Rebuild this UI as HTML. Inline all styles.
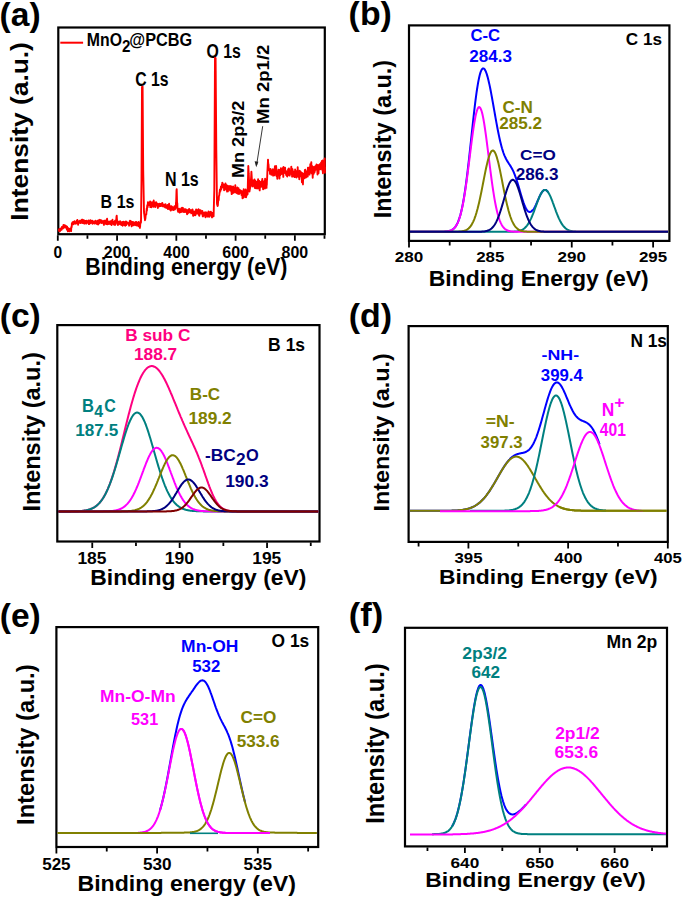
<!DOCTYPE html>
<html><head><meta charset="utf-8"><style>
html,body{margin:0;padding:0;background:#fff;}
svg{display:block;}
text{font-family:"Liberation Sans", sans-serif;font-weight:bold;}
</style></head><body>
<svg width="685" height="900" viewBox="0 0 685 900">
<text transform="translate(-0.38,25.50) scale(1.0177,1)" font-size="33.00" fill="#000">(a)</text>
<text transform="translate(348.61,25.30) scale(1.0426,1)" font-size="32.50" fill="#000">(b)</text>
<text transform="translate(-0.28,327.00) scale(1.0302,1)" font-size="32.60" fill="#000">(c)</text>
<text transform="translate(348.80,326.80) scale(1.0452,1)" font-size="32.50" fill="#000">(d)</text>
<text transform="translate(-0.28,626.50) scale(1.0208,1)" font-size="32.90" fill="#000">(e)</text>
<text transform="translate(348.77,626.30) scale(1.0628,1)" font-size="32.50" fill="#000">(f)</text>
<rect x="58.30" y="27.50" width="266.50" height="206.70" fill="none" stroke="#000" stroke-width="2.2"/>
<path d="M57.80 235.20V240.70M117.07 235.20V240.70M176.33 235.20V240.70M235.60 235.20V240.70M294.87 235.20V240.70M87.43 235.20V238.70M146.70 235.20V238.70M205.97 235.20V238.70M265.23 235.20V238.70M324.50 235.20V238.70" stroke="#000" stroke-width="1.8" fill="none"/>
<text transform="translate(53.48,257.60) scale(0.9287,1)" font-size="16.77" fill="#000">0</text>
<text transform="translate(103.76,257.60) scale(0.9546,1)" font-size="16.77" fill="#000">200</text>
<text transform="translate(163.35,257.60) scale(0.9292,1)" font-size="17.02" fill="#000">400</text>
<text transform="translate(222.25,257.60) scale(0.9561,1)" font-size="16.77" fill="#000">600</text>
<text transform="translate(281.60,257.60) scale(0.9531,1)" font-size="16.77" fill="#000">800</text>
<text transform="translate(85.35,275.00) scale(0.8975,1)" font-size="23.85" fill="#000">Binding energy (eV)</text>
<text transform="translate(28.40,220.68) rotate(-90) scale(1.1189,1)" font-size="23.56" fill="#000">Intensity (a.u.)</text>
<path d="M60.3 42.7H83.1" stroke="#ff0000" stroke-width="2"/>
<text transform="translate(86.83,46.40) scale(0.8627,1)" font-size="18.33" fill="#000">MnO</text>
<text transform="translate(122.07,51.50) scale(0.8840,1)" font-size="17.20" fill="#000">2</text>
<text transform="translate(129.36,46.40) scale(0.8886,1)" font-size="18.30" fill="#000">@PCBG</text>
<text transform="translate(135.17,86.30) scale(0.8170,1)" font-size="19.35" fill="#000">C 1s</text>
<text transform="translate(206.57,57.80) scale(0.8132,1)" font-size="19.50" fill="#000">O 1s</text>
<text transform="translate(164.92,185.80) scale(0.8224,1)" font-size="19.49" fill="#000">N 1s</text>
<text transform="translate(100.62,208.00) scale(0.8349,1)" font-size="19.20" fill="#000">B 1s</text>
<text transform="translate(268.90,123.95) rotate(-90) scale(1.1001,1)" font-size="16.87" fill="#000">Mn 2p1/2</text>
<text transform="translate(244.40,178.12) rotate(-90) scale(1.1229,1)" font-size="16.15" fill="#000">Mn 2p3/2</text>
<path d="M262.7 126.2L256.6 165.0" stroke="#222" stroke-width="0.9"/>
<path d="M256.2 167.2L254.6 161.2L258.4 161.8Z" fill="#222"/>
<path d="M58.50 230.5 L58.70 230.7 L58.90 230.0 L59.10 229.3 L59.30 229.6 L59.50 229.0 L59.70 230.0 L59.90 231.4 L60.10 229.3 L60.30 229.0 L60.50 230.2 L60.70 229.9 L60.90 229.6 L61.10 228.3 L61.30 229.2 L61.50 229.9 L61.70 227.6 L61.90 228.5 L61.90 226.9 L62.10 227.4 L62.30 226.6 L62.50 228.2 L62.70 226.9 L62.90 228.5 L63.10 228.2 L63.30 227.6 L63.50 224.9 L63.70 226.9 L63.90 227.3 L64.10 227.3 L64.30 225.3 L64.50 226.3 L64.70 225.6 L64.90 225.6 L65.10 227.6 L65.20 225.4 L65.30 226.4 L65.50 227.6 L65.70 226.2 L65.90 226.9 L66.10 227.4 L66.30 227.5 L66.50 226.3 L66.70 228.0 L66.90 229.6 L67.10 226.6 L67.30 229.5 L67.50 228.9 L67.70 228.2 L67.90 231.4 L68.10 230.2 L68.30 228.2 L68.50 229.9 L68.50 230.4 L68.70 229.6 L68.90 230.6 L69.10 229.7 L69.30 230.6 L69.50 231.4 L69.70 229.0 L69.90 230.0 L70.10 229.3 L70.30 229.9 L70.50 228.5 L70.70 229.1 L70.90 229.6 L71.10 230.8 L71.10 231.1 L71.30 227.2 L71.50 226.7 L71.70 227.2 L71.90 223.1 L72.10 223.7 L72.30 223.0 L72.40 224.0 L72.50 223.4 L72.70 222.2 L72.90 222.1 L73.10 222.3 L73.30 224.3 L73.50 222.0 L73.70 222.2 L73.90 222.9 L74.10 222.3 L74.30 222.2 L74.50 221.2 L74.70 222.4 L74.90 221.9 L75.10 223.7 L75.30 223.1 L75.50 222.3 L75.70 223.1 L75.90 221.9 L76.10 223.5 L76.30 222.3 L76.50 222.9 L76.70 220.8 L76.90 222.6 L77.10 220.3 L77.30 219.9 L77.50 221.8 L77.70 221.1 L77.90 222.4 L78.10 224.7 L78.30 221.2 L78.50 221.4 L78.70 222.3 L78.90 222.7 L79.10 221.9 L79.30 221.8 L79.50 222.8 L79.70 222.6 L79.90 220.8 L80.00 221.9 L80.10 222.0 L80.30 220.8 L80.50 222.3 L80.70 221.0 L80.90 223.1 L81.10 222.2 L81.30 222.1 L81.50 221.3 L81.70 221.9 L81.90 219.7 L82.10 220.7 L82.30 222.5 L82.50 219.6 L82.70 223.0 L82.90 220.0 L83.10 222.9 L83.30 221.1 L83.50 223.0 L83.70 222.2 L83.90 220.3 L84.10 223.5 L84.30 223.7 L84.50 222.0 L84.70 221.8 L84.90 221.9 L85.10 220.9 L85.30 223.4 L85.50 221.4 L85.70 222.0 L85.90 221.2 L86.10 221.4 L86.30 220.6 L86.50 223.6 L86.70 221.9 L86.90 223.2 L87.10 222.1 L87.30 221.3 L87.50 221.7 L87.70 221.5 L87.90 222.1 L88.10 221.7 L88.30 221.8 L88.50 220.5 L88.70 221.2 L88.90 224.1 L89.10 221.3 L89.30 220.9 L89.50 222.5 L89.70 223.8 L89.90 220.4 L90.10 221.9 L90.30 221.4 L90.50 220.1 L90.70 223.0 L90.90 222.1 L91.10 222.3 L91.30 221.3 L91.50 222.7 L91.70 221.5 L91.90 222.0 L92.10 220.9 L92.30 220.7 L92.50 223.8 L92.70 221.6 L92.90 222.5 L93.10 222.2 L93.30 221.7 L93.50 221.6 L93.70 223.0 L93.90 221.9 L94.10 222.0 L94.30 222.2 L94.50 223.6 L94.70 223.0 L94.90 222.7 L95.10 221.6 L95.30 220.6 L95.50 223.4 L95.70 223.4 L95.90 222.1 L96.10 222.9 L96.30 223.2 L96.50 223.2 L96.70 223.4 L96.90 221.7 L97.10 224.1 L97.30 220.8 L97.50 223.3 L97.70 222.9 L97.90 223.3 L98.10 224.5 L98.30 224.1 L98.50 220.9 L98.70 220.3 L98.90 223.3 L99.10 221.1 L99.30 222.3 L99.50 223.3 L99.70 220.3 L99.90 219.8 L100.00 222.6 L100.10 222.4 L100.30 222.0 L100.50 222.4 L100.70 221.3 L100.90 220.5 L101.10 222.2 L101.30 221.2 L101.50 220.4 L101.70 223.0 L101.90 222.3 L102.10 222.9 L102.30 221.2 L102.50 221.6 L102.70 221.2 L102.90 221.4 L103.10 222.7 L103.30 221.5 L103.50 222.9 L103.70 222.9 L103.90 224.9 L104.10 220.8 L104.30 223.6 L104.50 222.4 L104.70 222.5 L104.90 220.8 L105.10 222.0 L105.30 223.5 L105.50 222.5 L105.70 222.7 L105.90 222.2 L106.10 224.0 L106.30 222.6 L106.50 219.9 L106.70 221.8 L106.90 220.2 L107.10 218.7 L107.30 222.0 L107.50 224.3 L107.70 222.7 L107.90 221.2 L108.10 221.5 L108.30 224.1 L108.50 222.9 L108.70 222.8 L108.90 222.6 L109.10 222.8 L109.30 223.7 L109.50 223.4 L109.70 223.0 L109.90 221.5 L110.10 223.4 L110.30 221.9 L110.50 224.1 L110.70 221.2 L110.90 222.6 L111.10 222.8 L111.30 221.2 L111.50 225.0 L111.70 224.6 L111.90 222.3 L112.10 223.8 L112.30 223.3 L112.50 219.7 L112.70 223.2 L112.90 222.8 L113.10 223.0 L113.30 221.6 L113.50 222.6 L113.70 222.7 L113.90 224.4 L114.10 223.4 L114.30 223.0 L114.50 224.9 L114.70 222.3 L114.90 222.5 L115.00 220.7 L115.10 224.9 L115.30 224.2 L115.50 224.1 L115.70 223.8 L115.90 222.8 L116.10 222.0 L116.30 219.3 L116.50 216.6 L116.70 215.6 L116.90 218.8 L117.10 220.3 L117.30 221.7 L117.50 222.0 L117.70 222.2 L117.90 225.0 L118.10 223.7 L118.30 223.2 L118.50 222.6 L118.70 221.7 L118.90 223.0 L119.10 224.2 L119.30 222.6 L119.50 222.8 L119.70 222.8 L119.90 223.2 L120.10 221.1 L120.30 222.8 L120.50 222.0 L120.70 224.2 L120.90 222.2 L121.10 223.8 L121.30 225.0 L121.50 222.7 L121.70 222.4 L121.90 223.4 L122.10 223.1 L122.30 221.9 L122.50 223.7 L122.70 225.7 L122.90 222.8 L123.10 222.9 L123.30 221.9 L123.50 223.6 L123.70 221.6 L123.90 221.8 L124.10 224.8 L124.30 222.0 L124.50 224.6 L124.70 225.1 L124.90 223.5 L125.10 223.9 L125.30 225.7 L125.50 223.0 L125.70 222.5 L125.90 221.5 L126.10 223.3 L126.30 225.1 L126.50 224.4 L126.70 222.0 L126.90 222.2 L127.10 222.6 L127.30 223.6 L127.50 223.0 L127.70 223.5 L127.90 223.6 L128.10 222.9 L128.30 223.2 L128.50 223.5 L128.70 223.2 L128.90 223.9 L129.10 225.7 L129.30 224.0 L129.50 223.4 L129.70 221.1 L129.90 223.8 L130.00 220.8 L130.10 221.5 L130.30 224.4 L130.50 224.3 L130.70 223.2 L130.90 221.2 L131.10 223.0 L131.30 222.6 L131.50 224.3 L131.70 226.4 L131.90 223.8 L132.10 222.6 L132.30 222.1 L132.50 223.5 L132.70 223.4 L132.90 222.2 L133.10 223.8 L133.30 222.2 L133.50 225.2 L133.70 225.1 L133.90 225.2 L134.10 223.2 L134.30 224.5 L134.50 223.7 L134.70 223.4 L134.90 223.5 L135.10 222.3 L135.30 222.1 L135.50 225.0 L135.70 223.8 L135.90 224.3 L136.10 225.4 L136.30 221.9 L136.50 223.1 L136.70 224.4 L136.90 224.7 L137.10 223.7 L137.30 225.6 L137.50 224.5 L137.70 222.7 L137.90 223.1 L138.10 225.4 L138.30 225.0 L138.50 221.9 L138.70 226.2 L138.90 225.2 L139.10 226.2 L139.30 224.0 L139.50 224.1 L139.70 223.1 L139.90 227.9 L140.10 224.4 L140.10 226.7 L140.30 223.2 L140.50 223.7 L140.70 220.7 L140.90 222.2 L141.00 222.3 L141.10 213.3 L141.30 197.1 L141.50 180.1 L141.50 179.7 L141.70 142.7 L141.90 105.5 L142.00 87.0 L142.10 86.9 L142.30 86.8 L142.50 86.9 L142.60 86.7 L142.70 100.5 L142.90 128.5 L143.10 156.4 L143.20 169.6 L143.30 175.3 L143.50 185.6 L143.70 196.0 L143.90 207.0 L144.00 211.9 L144.10 213.2 L144.30 214.2 L144.50 216.1 L144.70 217.5 L144.90 219.0 L145.00 220.2 L145.10 219.4 L145.30 219.2 L145.50 217.3 L145.70 214.7 L145.90 215.1 L146.10 214.2 L146.30 214.4 L146.50 210.7 L146.50 211.9 L146.70 208.5 L146.90 210.8 L147.10 207.2 L147.30 205.1 L147.50 206.6 L147.70 207.2 L147.90 202.3 L148.00 202.4 L148.10 202.9 L148.30 202.4 L148.50 204.6 L148.70 202.9 L148.90 203.0 L149.10 205.0 L149.30 203.0 L149.50 204.8 L149.70 202.8 L149.90 202.4 L150.10 201.5 L150.30 207.1 L150.50 203.8 L150.70 204.7 L150.90 204.3 L151.10 204.6 L151.30 204.5 L151.50 207.3 L151.70 202.9 L151.90 202.2 L152.10 203.0 L152.30 202.5 L152.50 205.7 L152.70 205.8 L152.90 203.2 L153.10 202.6 L153.30 204.1 L153.50 206.8 L153.70 200.5 L153.90 205.5 L154.10 203.1 L154.30 206.3 L154.50 203.2 L154.70 204.4 L154.90 202.6 L155.10 203.4 L155.30 207.0 L155.50 206.2 L155.70 204.4 L155.90 203.7 L156.10 202.2 L156.30 204.4 L156.50 205.0 L156.70 205.0 L156.90 205.0 L157.10 203.5 L157.30 205.1 L157.50 205.1 L157.70 207.1 L157.90 208.0 L158.10 205.1 L158.30 204.1 L158.50 205.2 L158.70 204.4 L158.90 204.2 L159.10 205.3 L159.30 203.8 L159.50 206.3 L159.70 205.3 L159.90 205.9 L160.00 205.2 L160.10 204.4 L160.30 204.1 L160.50 205.3 L160.70 204.8 L160.90 206.0 L161.10 205.7 L161.30 203.7 L161.50 205.9 L161.70 203.9 L161.90 205.0 L162.10 205.5 L162.30 202.9 L162.50 206.2 L162.70 206.3 L162.90 205.9 L163.10 205.5 L163.30 205.7 L163.50 204.8 L163.70 205.9 L163.90 205.5 L164.10 206.5 L164.30 204.6 L164.50 206.8 L164.70 206.7 L164.90 206.4 L165.10 206.0 L165.30 207.5 L165.50 204.2 L165.70 207.4 L165.90 207.2 L166.10 207.3 L166.30 207.5 L166.50 205.9 L166.70 206.6 L166.90 208.0 L167.10 207.7 L167.30 207.4 L167.50 204.9 L167.70 208.0 L167.90 209.0 L168.10 208.8 L168.30 207.7 L168.50 205.0 L168.70 208.8 L168.90 207.2 L169.10 203.7 L169.30 208.1 L169.50 205.3 L169.70 205.7 L169.90 206.7 L170.10 209.6 L170.30 207.2 L170.50 208.2 L170.70 210.5 L170.90 210.3 L171.10 207.8 L171.30 207.6 L171.50 206.1 L171.70 207.0 L171.90 208.7 L172.10 208.7 L172.30 208.4 L172.50 209.7 L172.70 207.1 L172.90 208.2 L173.10 209.5 L173.30 209.3 L173.50 210.1 L173.70 209.1 L173.90 208.1 L174.10 209.1 L174.30 207.1 L174.50 206.2 L174.70 209.6 L174.90 208.7 L175.10 209.3 L175.30 206.3 L175.50 208.3 L175.70 207.7 L175.90 205.9 L176.00 202.2 L176.10 202.7 L176.30 197.6 L176.50 190.6 L176.70 189.2 L176.90 196.3 L177.10 204.5 L177.30 203.3 L177.50 208.7 L177.70 210.1 L177.90 210.4 L178.10 211.9 L178.30 211.1 L178.50 209.9 L178.70 209.9 L178.90 210.7 L179.10 208.7 L179.30 209.5 L179.50 211.0 L179.70 212.6 L179.90 209.5 L180.10 209.7 L180.30 210.1 L180.50 211.8 L180.70 209.8 L180.90 212.1 L181.10 208.5 L181.30 209.7 L181.50 209.7 L181.70 211.2 L181.90 211.6 L182.10 207.8 L182.30 208.8 L182.50 210.7 L182.70 209.2 L182.90 207.9 L183.10 211.8 L183.30 211.0 L183.50 211.1 L183.70 209.7 L183.90 212.0 L184.10 210.1 L184.30 212.1 L184.50 209.2 L184.70 209.3 L184.90 210.9 L185.10 209.6 L185.30 211.7 L185.50 211.1 L185.70 209.3 L185.90 210.9 L186.10 210.3 L186.30 212.2 L186.50 209.9 L186.70 210.3 L186.90 212.8 L187.10 214.3 L187.30 214.0 L187.50 211.1 L187.70 211.4 L187.90 213.4 L188.10 211.0 L188.30 209.7 L188.50 211.4 L188.70 211.9 L188.90 210.1 L189.10 208.9 L189.30 209.2 L189.50 212.4 L189.70 210.3 L189.90 211.3 L190.00 211.8 L190.10 212.4 L190.30 211.0 L190.50 212.3 L190.70 210.3 L190.90 211.1 L191.10 210.1 L191.30 213.4 L191.50 211.7 L191.70 210.6 L191.90 211.3 L192.10 211.5 L192.30 212.9 L192.50 209.5 L192.70 210.3 L192.90 211.4 L193.10 215.8 L193.30 213.4 L193.50 211.9 L193.70 213.1 L193.90 215.2 L194.10 211.8 L194.30 211.6 L194.50 214.0 L194.70 212.9 L194.90 213.2 L195.10 211.5 L195.30 215.2 L195.50 214.9 L195.70 213.2 L195.90 213.4 L196.10 209.4 L196.30 213.4 L196.50 212.2 L196.70 213.2 L196.90 213.6 L197.10 212.1 L197.30 210.1 L197.50 213.2 L197.70 211.5 L197.90 212.2 L198.10 211.8 L198.30 212.2 L198.50 209.3 L198.70 214.6 L198.90 213.2 L199.10 214.5 L199.30 215.9 L199.50 213.0 L199.70 210.3 L199.90 211.6 L200.00 211.2 L200.10 212.3 L200.30 213.2 L200.50 210.1 L200.70 213.6 L200.90 210.9 L201.10 213.6 L201.30 213.1 L201.50 212.8 L201.70 213.2 L201.90 212.5 L202.10 212.4 L202.30 210.9 L202.50 213.4 L202.70 216.2 L202.90 216.5 L203.10 215.5 L203.30 214.6 L203.50 212.6 L203.70 215.8 L203.90 213.6 L204.10 213.6 L204.30 213.3 L204.50 213.9 L204.70 213.1 L204.90 213.7 L205.10 212.2 L205.30 213.3 L205.50 217.3 L205.70 213.8 L205.90 213.6 L206.10 214.8 L206.30 215.1 L206.50 212.4 L206.70 213.8 L206.90 215.5 L207.10 214.6 L207.30 214.4 L207.50 216.6 L207.70 213.3 L207.90 214.4 L208.10 213.6 L208.30 216.6 L208.50 211.5 L208.70 213.4 L208.90 213.7 L209.10 215.5 L209.30 215.5 L209.50 216.7 L209.70 212.3 L209.90 215.8 L210.10 214.2 L210.30 213.7 L210.50 215.6 L210.70 213.4 L210.90 211.7 L211.10 214.3 L211.30 212.6 L211.50 213.9 L211.70 215.5 L211.90 215.5 L212.00 217.4 L212.10 214.8 L212.30 212.9 L212.50 214.2 L212.70 214.1 L212.90 213.7 L213.10 216.3 L213.30 214.8 L213.50 215.3 L213.60 216.2 L213.70 212.3 L213.90 205.0 L214.10 197.5 L214.30 190.2 L214.30 190.0 L214.50 152.7 L214.70 114.7 L214.90 77.0 L215.00 58.1 L215.10 57.6 L215.30 58.0 L215.50 57.9 L215.60 58.1 L215.70 70.7 L215.90 97.9 L216.10 123.7 L216.30 149.6 L216.30 149.5 L216.50 165.3 L216.70 180.8 L216.90 196.1 L217.00 204.0 L217.10 204.1 L217.30 205.2 L217.50 205.4 L217.60 206.0 L217.70 205.7 L217.90 204.9 L218.10 201.3 L218.30 200.9 L218.50 199.1 L218.70 200.2 L218.90 196.1 L219.10 195.8 L219.30 195.2 L219.50 192.5 L219.50 192.6 L219.70 192.6 L219.90 189.5 L220.10 189.8 L220.30 190.7 L220.50 190.8 L220.70 189.6 L220.90 186.5 L221.10 187.8 L221.30 189.2 L221.50 188.1 L221.70 186.4 L221.90 184.4 L222.10 186.2 L222.30 183.5 L222.30 182.6 L222.50 183.3 L222.70 187.2 L222.90 185.3 L223.10 187.0 L223.30 184.3 L223.50 186.9 L223.70 184.4 L223.90 185.3 L224.10 190.2 L224.30 187.2 L224.50 185.1 L224.70 186.0 L224.90 186.9 L225.10 188.6 L225.30 185.6 L225.50 183.4 L225.70 186.3 L225.90 187.0 L226.00 187.2 L226.10 189.6 L226.30 187.7 L226.50 188.8 L226.70 185.1 L226.90 189.1 L227.10 191.6 L227.30 189.0 L227.50 188.1 L227.70 188.0 L227.90 191.4 L228.10 185.9 L228.30 187.6 L228.50 188.9 L228.70 189.6 L228.90 187.2 L229.10 188.8 L229.30 187.6 L229.50 188.6 L229.70 188.1 L229.90 186.0 L230.00 188.5 L230.10 190.5 L230.30 186.5 L230.50 188.1 L230.70 190.2 L230.90 186.4 L231.10 189.2 L231.30 186.5 L231.50 191.5 L231.70 194.1 L231.90 193.6 L232.10 188.6 L232.30 190.8 L232.50 189.5 L232.70 189.5 L232.90 192.8 L233.10 186.5 L233.30 191.8 L233.50 189.4 L233.70 192.8 L233.90 190.1 L234.10 188.2 L234.30 190.4 L234.50 191.5 L234.70 190.0 L234.90 191.1 L235.10 188.9 L235.30 185.3 L235.50 192.2 L235.70 191.8 L235.90 190.6 L236.10 190.5 L236.30 192.7 L236.50 189.4 L236.70 188.9 L236.90 190.1 L237.10 193.3 L237.30 187.5 L237.50 193.5 L237.70 189.4 L237.90 188.4 L238.10 193.8 L238.30 190.8 L238.50 188.1 L238.70 190.3 L238.90 193.3 L239.10 194.0 L239.30 190.3 L239.50 192.3 L239.70 193.1 L239.90 190.0 L240.00 192.3 L240.10 191.5 L240.30 190.4 L240.50 190.7 L240.70 192.1 L240.90 192.1 L241.10 190.8 L241.30 191.3 L241.50 195.0 L241.70 193.0 L241.90 194.7 L242.10 195.5 L242.30 194.2 L242.50 198.2 L242.70 191.2 L242.90 195.1 L243.10 192.6 L243.30 197.8 L243.50 197.5 L243.70 189.1 L243.90 191.5 L244.10 195.4 L244.30 195.9 L244.50 195.9 L244.70 194.1 L244.90 195.4 L245.10 196.0 L245.30 194.4 L245.50 197.1 L245.70 189.5 L245.90 196.4 L246.00 192.6 L246.10 197.2 L246.30 194.3 L246.50 192.6 L246.70 195.4 L246.90 192.3 L247.10 192.1 L247.30 190.5 L247.50 194.0 L247.60 194.2 L247.70 190.5 L247.90 181.9 L248.10 174.5 L248.30 166.0 L248.30 166.0 L248.50 169.9 L248.70 173.7 L248.80 174.8 L248.90 177.2 L249.10 181.8 L249.30 186.5 L249.50 190.6 L249.50 191.5 L249.70 189.8 L249.90 189.2 L250.10 187.6 L250.30 187.2 L250.50 186.2 L250.50 185.8 L250.70 183.9 L250.90 180.0 L251.10 177.5 L251.30 174.0 L251.40 171.7 L251.50 173.4 L251.70 176.9 L251.90 179.8 L252.10 182.9 L252.30 185.9 L252.30 185.1 L252.50 185.7 L252.70 180.3 L252.90 186.5 L253.10 183.6 L253.30 183.5 L253.50 184.6 L253.70 185.6 L253.90 181.3 L254.10 180.4 L254.30 181.9 L254.50 179.4 L254.70 181.9 L254.90 188.0 L255.00 181.4 L255.10 185.6 L255.30 180.7 L255.50 184.8 L255.70 183.3 L255.90 183.9 L256.10 185.5 L256.30 188.4 L256.50 184.6 L256.70 184.4 L256.90 181.7 L257.10 185.6 L257.30 183.6 L257.50 186.2 L257.70 184.1 L257.90 188.5 L258.10 179.3 L258.30 183.5 L258.50 186.4 L258.70 183.4 L258.90 182.3 L259.10 183.6 L259.30 180.9 L259.50 184.6 L259.70 190.4 L259.90 187.2 L260.10 181.6 L260.30 182.2 L260.50 183.4 L260.70 186.9 L260.90 182.4 L261.10 182.7 L261.30 186.7 L261.50 186.6 L261.70 183.5 L261.90 181.7 L262.00 180.6 L262.10 182.7 L262.30 178.9 L262.50 186.4 L262.70 183.0 L262.90 185.8 L263.10 189.3 L263.30 187.6 L263.50 181.7 L263.70 186.9 L263.90 187.6 L264.10 182.8 L264.30 182.3 L264.50 184.5 L264.70 180.7 L264.90 188.6 L265.10 178.7 L265.30 182.0 L265.50 184.2 L265.70 184.3 L265.90 185.3 L266.10 185.6 L266.30 184.4 L266.50 187.9 L266.70 179.5 L266.80 185.0 L266.90 181.0 L267.10 178.8 L267.30 174.3 L267.40 171.5 L267.50 169.7 L267.70 166.4 L267.90 162.2 L268.00 159.6 L268.10 162.1 L268.30 164.2 L268.50 164.2 L268.70 167.2 L268.80 169.3 L268.90 170.4 L269.10 169.6 L269.30 169.1 L269.50 168.9 L269.70 170.4 L269.90 170.2 L270.00 173.9 L270.10 171.0 L270.30 170.9 L270.50 168.9 L270.70 171.9 L270.90 169.7 L271.10 171.6 L271.30 174.8 L271.50 173.0 L271.70 173.4 L271.90 173.0 L272.10 172.3 L272.30 171.8 L272.50 171.3 L272.70 174.1 L272.90 169.3 L273.10 175.6 L273.30 172.3 L273.50 170.2 L273.70 170.9 L273.90 170.4 L274.10 172.6 L274.30 170.3 L274.50 175.2 L274.70 170.2 L274.90 166.3 L275.10 170.3 L275.30 166.8 L275.50 171.3 L275.70 173.1 L275.90 171.1 L276.10 166.0 L276.30 168.4 L276.50 176.1 L276.70 172.9 L276.90 172.3 L277.10 175.1 L277.30 178.8 L277.50 175.8 L277.70 172.7 L277.90 173.3 L278.10 174.0 L278.30 170.8 L278.50 169.7 L278.70 172.6 L278.90 170.0 L279.10 172.3 L279.30 172.7 L279.50 178.6 L279.70 170.3 L279.90 172.2 L280.00 172.1 L280.10 173.7 L280.30 175.3 L280.50 171.2 L280.70 170.4 L280.90 168.2 L281.10 170.1 L281.30 174.0 L281.50 172.7 L281.70 169.9 L281.90 171.6 L282.10 172.7 L282.30 173.9 L282.50 171.1 L282.70 172.0 L282.90 167.9 L283.10 169.6 L283.30 176.9 L283.50 166.9 L283.70 171.8 L283.90 173.3 L284.10 171.7 L284.30 170.6 L284.50 172.6 L284.70 172.7 L284.90 172.5 L285.10 167.8 L285.30 172.4 L285.50 170.5 L285.70 171.3 L285.90 173.4 L286.10 174.5 L286.30 175.2 L286.50 171.5 L286.70 175.3 L286.90 175.9 L287.10 175.8 L287.30 176.5 L287.50 172.5 L287.70 172.4 L287.90 175.1 L288.10 169.3 L288.30 173.5 L288.50 171.5 L288.70 172.0 L288.90 168.4 L289.10 170.6 L289.30 172.9 L289.50 175.3 L289.70 175.6 L289.90 172.8 L290.00 172.5 L290.10 170.7 L290.30 173.7 L290.50 171.2 L290.70 172.1 L290.90 173.9 L291.10 169.2 L291.30 166.6 L291.50 169.7 L291.70 169.0 L291.90 170.0 L292.10 176.6 L292.30 173.8 L292.50 169.2 L292.70 175.0 L292.90 176.6 L293.10 172.4 L293.30 171.5 L293.50 172.5 L293.70 174.1 L293.90 175.1 L294.10 176.5 L294.30 176.6 L294.50 176.6 L294.70 177.1 L294.90 175.2 L295.10 169.5 L295.30 173.2 L295.50 174.4 L295.70 172.6 L295.90 176.0 L296.10 172.7 L296.30 171.2 L296.50 177.5 L296.70 175.4 L296.90 174.3 L297.10 176.2 L297.30 176.5 L297.50 174.7 L297.70 167.3 L297.90 172.0 L298.10 172.6 L298.30 171.2 L298.50 174.4 L298.70 177.0 L298.90 172.6 L299.10 170.9 L299.30 179.3 L299.50 172.8 L299.70 170.7 L299.90 174.6 L300.00 175.1 L300.10 172.2 L300.30 176.2 L300.50 172.9 L300.70 171.8 L300.90 174.8 L301.10 176.5 L301.30 172.9 L301.50 175.5 L301.70 174.5 L301.90 182.3 L302.10 173.0 L302.30 178.6 L302.40 174.9 L302.50 175.9 L302.70 180.5 L302.90 183.4 L302.90 184.4 L303.10 179.5 L303.30 174.6 L303.40 173.6 L303.50 176.3 L303.70 176.3 L303.90 178.3 L304.10 175.6 L304.30 177.1 L304.50 178.2 L304.70 174.4 L304.90 169.9 L305.10 170.6 L305.30 169.7 L305.50 177.6 L305.70 171.0 L305.90 176.4 L306.00 174.6 L306.10 177.5 L306.30 175.6 L306.50 172.5 L306.70 172.2 L306.90 172.9 L307.10 173.0 L307.30 171.1 L307.50 172.3 L307.70 176.6 L307.90 167.7 L308.10 172.8 L308.30 169.7 L308.50 172.5 L308.70 174.2 L308.90 171.7 L309.10 173.8 L309.30 167.4 L309.50 174.6 L309.70 169.9 L309.90 173.1 L310.10 171.8 L310.30 164.3 L310.50 169.0 L310.70 170.9 L310.90 172.9 L311.00 168.6 L311.10 167.6 L311.30 162.1 L311.50 170.6 L311.70 173.4 L311.90 170.0 L312.10 169.9 L312.30 166.3 L312.50 172.9 L312.70 177.7 L312.90 172.4 L313.10 173.8 L313.30 171.8 L313.50 167.6 L313.70 173.8 L313.90 166.9 L314.10 169.5 L314.30 170.8 L314.50 172.4 L314.70 171.1 L314.90 170.9 L315.10 167.8 L315.30 166.3 L315.50 169.9 L315.70 167.8 L315.90 166.1 L316.10 166.1 L316.30 168.2 L316.50 164.5 L316.70 165.8 L316.90 164.9 L317.10 169.7 L317.30 170.3 L317.50 174.5 L317.70 165.1 L317.90 167.2 L318.00 171.5 L318.10 168.4 L318.30 167.9 L318.50 173.3 L318.70 167.7 L318.90 165.4 L319.10 164.8 L319.30 169.2 L319.50 169.0 L319.70 164.3 L319.90 165.3 L320.10 169.2 L320.30 169.2 L320.50 165.8 L320.70 169.1 L320.90 168.9 L321.10 162.4 L321.30 166.3 L321.50 168.1 L321.70 165.3 L321.90 161.0 L322.10 165.9 L322.30 168.6 L322.50 170.7 L322.70 160.4 L322.90 173.2 L323.10 163.0 L323.30 168.6 L323.50 169.2 L323.70 168.4 L323.90 166.0 L324.10 162.4 L324.30 167.1 L324.50 163.4 L324.70 158.4 L324.90 172.7 L325.00 166.9" stroke="#ff0000" stroke-width="1.9" fill="none" stroke-linejoin="round"/>
<rect x="409.00" y="25.40" width="260.40" height="215.50" fill="none" stroke="#000" stroke-width="2.2"/>
<path d="M409.00 241.90V247.40M490.38 241.90V247.40M571.75 241.90V247.40M653.12 241.90V247.40M449.69 241.90V245.40M531.06 241.90V245.40M612.44 241.90V245.40" stroke="#000" stroke-width="1.8" fill="none"/>
<text transform="translate(394.80,262.10) scale(1.1134,1)" font-size="15.34" fill="#000">280</text>
<text transform="translate(476.18,262.10) scale(1.1047,1)" font-size="15.34" fill="#000">285</text>
<text transform="translate(557.55,262.10) scale(1.1134,1)" font-size="15.34" fill="#000">290</text>
<text transform="translate(638.93,262.10) scale(1.1047,1)" font-size="15.34" fill="#000">295</text>
<text transform="translate(428.65,286.10) scale(1.0774,1)" font-size="21.38" fill="#000">Binding Energy (eV)</text>
<text transform="translate(391.10,218.28) rotate(-90) scale(1.0039,1)" font-size="23.27" fill="#000">Intensity (a.u.)</text>
<text transform="translate(625.81,45.30) scale(0.9964,1)" font-size="17.20" fill="#000">C 1s</text>
<text transform="translate(470.43,41.30) scale(1.0233,1)" font-size="16.34" fill="#0000ff">C-C</text>
<text transform="translate(469.30,61.50) scale(1.0438,1)" font-size="16.34" fill="#0000ff">284.3</text>
<text transform="translate(502.42,112.60) scale(1.0921,1)" font-size="15.63" fill="#808000">C-N</text>
<text transform="translate(499.30,129.10) scale(1.0743,1)" font-size="15.91" fill="#808000">285.2</text>
<text transform="translate(520.01,159.80) scale(1.1180,1)" font-size="15.34" fill="#000080">C=O</text>
<text transform="translate(515.70,179.80) scale(1.0844,1)" font-size="15.77" fill="#000080">286.3</text>
<path d="M410.0 231.8 L410.5 231.8 L411.0 231.8 L411.5 231.8 L412.0 231.8 L412.5 231.8 L413.0 231.8 L413.5 231.8 L414.0 231.8 L414.5 231.8 L415.0 231.8 L415.5 231.8 L416.0 231.8 L416.5 231.8 L417.0 231.8 L417.5 231.8 L418.0 231.8 L418.5 231.8 L419.0 231.8 L419.5 231.8 L420.0 231.8 L420.5 231.8 L421.0 231.8 L421.5 231.8 L422.0 231.8 L422.5 231.8 L423.0 231.8 L423.5 231.8 L424.0 231.8 L424.5 231.8 L425.0 231.8 L425.5 231.8 L426.0 231.8 L426.5 231.8 L427.0 231.8 L427.5 231.8 L428.0 231.8 L428.5 231.8 L429.0 231.8 L429.5 231.8 L430.0 231.8 L430.5 231.8 L431.0 231.8 L431.5 231.8 L432.0 231.8 L432.5 231.8 L433.0 231.8 L433.5 231.8 L434.0 231.8 L434.5 231.8 L435.0 231.8 L435.5 231.8 L436.0 231.8 L436.5 231.8 L437.0 231.8 L437.5 231.8 L438.0 231.8 L438.5 231.8 L439.0 231.8 L439.5 231.8 L440.0 231.8 L440.5 231.8 L441.0 231.8 L441.5 231.8 L442.0 231.8 L442.5 231.7 L443.0 231.7 L443.5 231.7 L444.0 231.7 L444.5 231.7 L445.0 231.6 L445.5 231.6 L446.0 231.6 L446.5 231.5 L447.0 231.5 L447.5 231.4 L448.0 231.3 L448.5 231.2 L449.0 231.1 L449.5 231.0 L450.0 230.8 L450.5 230.6 L451.0 230.4 L451.5 230.2 L452.0 229.9 L452.5 229.6 L453.0 229.3 L453.5 228.8 L454.0 228.4 L454.5 227.9 L455.0 227.3 L455.5 226.6 L456.0 225.9 L456.5 225.0 L457.0 224.1 L457.5 223.1 L458.0 222.0 L458.5 220.7 L459.0 219.3 L459.5 217.8 L460.0 216.2 L460.5 214.4 L461.0 212.4 L461.5 210.3 L462.0 208.1 L462.5 205.6 L463.0 203.0 L463.5 200.3 L464.0 197.3 L464.5 194.2 L465.0 190.9 L465.5 187.4 L466.0 183.8 L466.5 180.0 L467.0 176.0 L467.5 172.0 L468.0 167.7 L468.5 163.4 L469.0 159.0 L469.5 154.4 L470.0 149.8 L470.5 145.2 L471.0 140.5 L471.5 135.8 L472.0 131.1 L472.5 126.5 L473.0 121.9 L473.5 117.3 L474.0 112.9 L474.5 108.6 L475.0 104.4 L475.5 100.4 L476.0 96.6 L476.5 92.9 L477.0 89.5 L477.5 86.3 L478.0 83.3 L478.5 80.6 L479.0 78.2 L479.5 76.0 L480.0 74.1 L480.5 72.4 L481.0 71.1 L481.5 70.0 L482.0 69.2 L482.5 68.7 L483.0 68.4 L483.5 68.4 L484.0 68.6 L484.5 69.1 L485.0 69.9 L485.5 70.8 L486.0 72.0 L486.5 73.3 L487.0 74.9 L487.5 76.6 L488.0 78.5 L488.5 80.5 L489.0 82.7 L489.5 84.9 L490.0 87.3 L490.5 89.8 L491.0 92.4 L491.5 95.1 L492.0 97.8 L492.5 100.6 L493.0 103.4 L493.5 106.2 L494.0 109.1 L494.5 111.9 L495.0 114.7 L495.5 117.6 L496.0 120.4 L496.5 123.1 L497.0 125.8 L497.5 128.5 L498.0 131.0 L498.5 133.5 L499.0 135.9 L499.5 138.2 L500.0 140.5 L500.5 142.6 L501.0 144.6 L501.5 146.5 L502.0 148.3 L502.5 149.9 L503.0 151.5 L503.5 153.0 L504.0 154.3 L504.5 155.6 L505.0 156.7 L505.5 157.8 L506.0 158.8 L506.5 159.7 L507.0 160.6 L507.5 161.4 L508.0 162.2 L508.5 163.0 L509.0 163.8 L509.5 164.5 L510.0 165.3 L510.5 166.1 L511.0 166.9 L511.5 167.8 L512.0 168.7 L512.5 169.6 L513.0 170.6 L513.5 171.7 L514.0 172.9 L514.5 174.1 L515.0 175.4 L515.5 176.8 L516.0 178.2 L516.5 179.7 L517.0 181.2 L517.5 182.8 L518.0 184.5 L518.5 186.1 L519.0 187.8 L519.5 189.6 L520.0 191.3 L520.5 193.0 L521.0 194.7 L521.5 196.4 L522.0 198.0 L522.5 199.6 L523.0 201.1 L523.5 202.6 L524.0 203.9 L524.5 205.2 L525.0 206.4 L525.5 207.5 L526.0 208.5 L526.5 209.4 L527.0 210.1 L527.5 210.7 L528.0 211.2 L528.5 211.6 L529.0 211.8 L529.5 212.0 L530.0 211.9 L530.5 211.8 L531.0 211.6 L531.5 211.2 L532.0 210.7 L532.5 210.4 L533.0 209.9 L533.5 209.3 L534.0 208.6 L534.5 207.7 L535.0 206.8 L535.5 205.8 L536.0 204.7 L536.5 203.5 L537.0 202.4 L537.5 201.2 L538.0 200.0 L538.5 198.9 L539.0 197.7 L539.5 196.6 L540.0 195.6 L540.5 194.6 L541.0 193.7 L541.5 192.8 L542.0 192.1 L542.5 191.4 L543.0 190.9 L543.5 190.5 L544.0 190.1 L544.5 190.0 L545.0 189.9 L545.5 190.0 L546.0 190.1 L546.5 190.5 L547.0 190.9 L547.5 191.4 L548.0 192.1" stroke="#0000ff" stroke-width="2.0" fill="none" stroke-linejoin="round"/>
<path d="M410.0 231.8 L410.5 231.8 L411.0 231.8 L411.5 231.8 L412.0 231.8 L412.5 231.8 L413.0 231.8 L413.5 231.8 L414.0 231.8 L414.5 231.8 L415.0 231.8 L415.5 231.8 L416.0 231.8 L416.5 231.8 L417.0 231.8 L417.5 231.8 L418.0 231.8 L418.5 231.8 L419.0 231.8 L419.5 231.8 L420.0 231.8 L420.5 231.8 L421.0 231.8 L421.5 231.8 L422.0 231.8 L422.5 231.8 L423.0 231.8 L423.5 231.8 L424.0 231.8 L424.5 231.8 L425.0 231.8 L425.5 231.8 L426.0 231.8 L426.5 231.8 L427.0 231.8 L427.5 231.8 L428.0 231.8 L428.5 231.8 L429.0 231.8 L429.5 231.8 L430.0 231.8 L430.5 231.8 L431.0 231.8 L431.5 231.8 L432.0 231.8 L432.5 231.8 L433.0 231.8 L433.5 231.8 L434.0 231.8 L434.5 231.8 L435.0 231.8 L435.5 231.8 L436.0 231.8 L436.5 231.8 L437.0 231.8 L437.5 231.8 L438.0 231.8 L438.5 231.8 L439.0 231.8 L439.5 231.8 L440.0 231.8 L440.5 231.8 L441.0 231.8 L441.5 231.8 L442.0 231.8 L442.5 231.8 L443.0 231.8 L443.5 231.8 L444.0 231.8 L444.5 231.8 L445.0 231.8 L445.5 231.8 L446.0 231.8 L446.5 231.8 L447.0 231.8 L447.5 231.8 L448.0 231.8 L448.5 231.8 L449.0 231.8 L449.5 231.8 L450.0 231.8 L450.5 231.8 L451.0 231.8 L451.5 231.8 L452.0 231.8 L452.5 231.8 L453.0 231.8 L453.5 231.8 L454.0 231.8 L454.5 231.8 L455.0 231.8 L455.5 231.8 L456.0 231.8 L456.5 231.8 L457.0 231.8 L457.5 231.8 L458.0 231.8 L458.5 231.8 L459.0 231.8 L459.5 231.8 L460.0 231.8 L460.5 231.8 L461.0 231.8 L461.5 231.8 L462.0 231.8 L462.5 231.8 L463.0 231.8 L463.5 231.8 L464.0 231.8 L464.5 231.8 L465.0 231.8 L465.5 231.8 L466.0 231.8 L466.5 231.8 L467.0 231.8 L467.5 231.8 L468.0 231.8 L468.5 231.8 L469.0 231.8 L469.5 231.8 L470.0 231.8 L470.5 231.8 L471.0 231.8 L471.5 231.8 L472.0 231.8 L472.5 231.8 L473.0 231.8 L473.5 231.8 L474.0 231.8 L474.5 231.8 L475.0 231.8 L475.5 231.8 L476.0 231.8 L476.5 231.8 L477.0 231.8 L477.5 231.8 L478.0 231.8 L478.5 231.8 L479.0 231.8 L479.5 231.8 L480.0 231.8 L480.5 231.8 L481.0 231.8 L481.5 231.8 L482.0 231.8 L482.5 231.8 L483.0 231.8 L483.5 231.8 L484.0 231.8 L484.5 231.8 L485.0 231.8 L485.5 231.8 L486.0 231.8 L486.5 231.8 L487.0 231.8 L487.5 231.8 L488.0 231.8 L488.5 231.8 L489.0 231.8 L489.5 231.8 L490.0 231.8 L490.5 231.8 L491.0 231.8 L491.5 231.8 L492.0 231.8 L492.5 231.8 L493.0 231.8 L493.5 231.8 L494.0 231.8 L494.5 231.8 L495.0 231.8 L495.5 231.8 L496.0 231.8 L496.5 231.8 L497.0 231.8 L497.5 231.8 L498.0 231.8 L498.5 231.8 L499.0 231.8 L499.5 231.8 L500.0 231.8 L500.5 231.8 L501.0 231.8 L501.5 231.8 L502.0 231.8 L502.5 231.8 L503.0 231.8 L503.5 231.8 L504.0 231.8 L504.5 231.8 L505.0 231.8 L505.5 231.8 L506.0 231.8 L506.5 231.8 L507.0 231.8 L507.5 231.8 L508.0 231.8 L508.5 231.8 L509.0 231.8 L509.5 231.8 L510.0 231.8 L510.5 231.8 L511.0 231.8 L511.5 231.7 L512.0 231.7 L512.5 231.7 L513.0 231.7 L513.5 231.7 L514.0 231.7 L514.5 231.6 L515.0 231.6 L515.5 231.6 L516.0 231.5 L516.5 231.4 L517.0 231.4 L517.5 231.3 L518.0 231.2 L518.5 231.1 L519.0 231.0 L519.5 230.9 L520.0 230.7 L520.5 230.6 L521.0 230.4 L521.5 230.2 L522.0 229.9 L522.5 229.7 L523.0 229.4 L523.5 229.0 L524.0 228.7 L524.5 228.3 L525.0 227.8 L525.5 227.3 L526.0 226.8 L526.5 226.2 L527.0 225.6 L527.5 224.9 L528.0 224.2 L528.5 223.4 L529.0 222.5 L529.5 221.6 L530.0 220.7 L530.5 219.6 L531.0 218.6 L531.5 217.5 L532.0 216.3 L532.5 215.1 L533.0 213.9 L533.5 212.6 L534.0 211.3 L534.5 209.9 L535.0 208.5 L535.5 207.2 L536.0 205.8 L536.5 204.4 L537.0 203.1 L537.5 201.7 L538.0 200.4 L538.5 199.1 L539.0 197.9 L539.5 196.7 L540.0 195.6 L540.5 194.6 L541.0 193.7 L541.5 192.8 L542.0 192.1 L542.5 191.4 L543.0 190.9 L543.5 190.5 L544.0 190.1 L544.5 190.0 L545.0 189.9 L545.5 190.0 L546.0 190.1 L546.5 190.5 L547.0 190.9 L547.5 191.4 L548.0 192.1 L548.5 192.8 L549.0 193.7 L549.5 194.6 L550.0 195.6 L550.5 196.7 L551.0 197.9 L551.5 199.1 L552.0 200.4 L552.5 201.7 L553.0 203.1 L553.5 204.4 L554.0 205.8 L554.5 207.2 L555.0 208.5 L555.5 209.9 L556.0 211.3 L556.5 212.6 L557.0 213.9 L557.5 215.1 L558.0 216.3 L558.5 217.5 L559.0 218.6 L559.5 219.6 L560.0 220.7 L560.5 221.6 L561.0 222.5 L561.5 223.4 L562.0 224.2 L562.5 224.9 L563.0 225.6 L563.5 226.2 L564.0 226.8 L564.5 227.3 L565.0 227.8 L565.5 228.3 L566.0 228.7 L566.5 229.0 L567.0 229.4 L567.5 229.7 L568.0 229.9 L568.5 230.2 L569.0 230.4 L569.5 230.6 L570.0 230.7 L570.5 230.9 L571.0 231.0 L571.5 231.1 L572.0 231.2 L572.5 231.3 L573.0 231.4 L573.5 231.4 L574.0 231.5 L574.5 231.6 L575.0 231.6 L575.5 231.6 L576.0 231.7 L576.5 231.7 L577.0 231.7 L577.5 231.7 L578.0 231.7 L578.5 231.7 L579.0 231.8 L579.5 231.8 L580.0 231.8 L580.5 231.8 L581.0 231.8 L581.5 231.8 L582.0 231.8 L582.5 231.8 L583.0 231.8 L583.5 231.8 L584.0 231.8 L584.5 231.8 L585.0 231.8 L585.5 231.8 L586.0 231.8 L586.5 231.8 L587.0 231.8 L587.5 231.8 L588.0 231.8 L588.5 231.8 L589.0 231.8 L589.5 231.8 L590.0 231.8 L590.5 231.8 L591.0 231.8 L591.5 231.8 L592.0 231.8 L592.5 231.8 L593.0 231.8 L593.5 231.8 L594.0 231.8 L594.5 231.8 L595.0 231.8 L595.5 231.8 L596.0 231.8 L596.5 231.8 L597.0 231.8 L597.5 231.8 L598.0 231.8 L598.5 231.8 L599.0 231.8 L599.5 231.8 L600.0 231.8 L600.5 231.8 L601.0 231.8 L601.5 231.8 L602.0 231.8 L602.5 231.8 L603.0 231.8 L603.5 231.8 L604.0 231.8 L604.5 231.8 L605.0 231.8 L605.5 231.8 L606.0 231.8 L606.5 231.8 L607.0 231.8 L607.5 231.8 L608.0 231.8 L608.5 231.8 L609.0 231.8 L609.5 231.8 L610.0 231.8 L610.5 231.8 L611.0 231.8 L611.5 231.8 L612.0 231.8 L612.5 231.8 L613.0 231.8 L613.5 231.8 L614.0 231.8 L614.5 231.8 L615.0 231.8 L615.5 231.8 L616.0 231.8 L616.5 231.8 L617.0 231.8 L617.5 231.8 L618.0 231.8 L618.5 231.8 L619.0 231.8 L619.5 231.8 L620.0 231.8 L620.5 231.8 L621.0 231.8 L621.5 231.8 L622.0 231.8 L622.5 231.8 L623.0 231.8 L623.5 231.8 L624.0 231.8 L624.5 231.8 L625.0 231.8 L625.5 231.8 L626.0 231.8 L626.5 231.8 L627.0 231.8 L627.5 231.8 L628.0 231.8 L628.5 231.8 L629.0 231.8 L629.5 231.8 L630.0 231.8 L630.5 231.8 L631.0 231.8 L631.5 231.8 L632.0 231.8 L632.5 231.8 L633.0 231.8 L633.5 231.8 L634.0 231.8 L634.5 231.8 L635.0 231.8 L635.5 231.8 L636.0 231.8 L636.5 231.8 L637.0 231.8 L637.5 231.8 L638.0 231.8 L638.5 231.8 L639.0 231.8 L639.5 231.8 L640.0 231.8 L640.5 231.8 L641.0 231.8 L641.5 231.8 L642.0 231.8 L642.5 231.8 L643.0 231.8 L643.5 231.8 L644.0 231.8 L644.5 231.8 L645.0 231.8 L645.5 231.8 L646.0 231.8 L646.5 231.8 L647.0 231.8 L647.5 231.8 L648.0 231.8 L648.5 231.8 L649.0 231.8 L649.5 231.8 L650.0 231.8 L650.5 231.8 L651.0 231.8 L651.5 231.8 L652.0 231.8 L652.5 231.8 L653.0 231.8 L653.5 231.8 L654.0 231.8 L654.5 231.8 L655.0 231.8 L655.5 231.8 L656.0 231.8 L656.5 231.8 L657.0 231.8 L657.5 231.8 L658.0 231.8 L658.5 231.8 L659.0 231.8 L659.5 231.8 L660.0 231.8 L660.5 231.8 L661.0 231.8 L661.5 231.8 L662.0 231.8 L662.5 231.8 L663.0 231.8 L663.5 231.8 L664.0 231.8 L664.5 231.8 L665.0 231.8 L665.5 231.8 L666.0 231.8 L666.5 231.8 L667.0 231.8 L667.5 231.8 L668.0 231.8" stroke="#008080" stroke-width="2.0" fill="none" stroke-linejoin="round"/>
<path d="M410.0 231.8 L410.5 231.8 L411.0 231.8 L411.5 231.8 L412.0 231.8 L412.5 231.8 L413.0 231.8 L413.5 231.8 L414.0 231.8 L414.5 231.8 L415.0 231.8 L415.5 231.8 L416.0 231.8 L416.5 231.8 L417.0 231.8 L417.5 231.8 L418.0 231.8 L418.5 231.8 L419.0 231.8 L419.5 231.8 L420.0 231.8 L420.5 231.8 L421.0 231.8 L421.5 231.8 L422.0 231.8 L422.5 231.8 L423.0 231.8 L423.5 231.8 L424.0 231.8 L424.5 231.8 L425.0 231.8 L425.5 231.8 L426.0 231.8 L426.5 231.8 L427.0 231.8 L427.5 231.8 L428.0 231.8 L428.5 231.8 L429.0 231.8 L429.5 231.8 L430.0 231.8 L430.5 231.8 L431.0 231.8 L431.5 231.8 L432.0 231.8 L432.5 231.8 L433.0 231.8 L433.5 231.8 L434.0 231.8 L434.5 231.8 L435.0 231.8 L435.5 231.8 L436.0 231.8 L436.5 231.8 L437.0 231.8 L437.5 231.8 L438.0 231.8 L438.5 231.8 L439.0 231.8 L439.5 231.8 L440.0 231.8 L440.5 231.8 L441.0 231.8 L441.5 231.8 L442.0 231.8 L442.5 231.7 L443.0 231.7 L443.5 231.7 L444.0 231.7 L444.5 231.7 L445.0 231.6 L445.5 231.6 L446.0 231.6 L446.5 231.5 L447.0 231.5 L447.5 231.4 L448.0 231.3 L448.5 231.2 L449.0 231.1 L449.5 231.0 L450.0 230.8 L450.5 230.6 L451.0 230.4 L451.5 230.2 L452.0 229.9 L452.5 229.6 L453.0 229.3 L453.5 228.9 L454.0 228.4 L454.5 227.9 L455.0 227.3 L455.5 226.7 L456.0 225.9 L456.5 225.1 L457.0 224.2 L457.5 223.2 L458.0 222.1 L458.5 220.8 L459.0 219.5 L459.5 218.0 L460.0 216.4 L460.5 214.7 L461.0 212.8 L461.5 210.7 L462.0 208.5 L462.5 206.2 L463.0 203.7 L463.5 201.0 L464.0 198.2 L464.5 195.2 L465.0 192.1 L465.5 188.8 L466.0 185.4 L466.5 181.9 L467.0 178.2 L467.5 174.5 L468.0 170.6 L468.5 166.7 L469.0 162.7 L469.5 158.7 L470.0 154.7 L470.5 150.7 L471.0 146.7 L471.5 142.7 L472.0 138.9 L472.5 135.2 L473.0 131.5 L473.5 128.1 L474.0 124.8 L474.5 121.8 L475.0 119.0 L475.5 116.4 L476.0 114.1 L476.5 112.2 L477.0 110.5 L477.5 109.1 L478.0 108.1 L478.5 107.4 L479.0 107.1 L479.5 107.2 L480.0 107.6 L480.5 108.3 L481.0 109.4 L481.5 110.8 L482.0 112.5 L482.5 114.6 L483.0 116.9 L483.5 119.5 L484.0 122.4 L484.5 125.5 L485.0 128.8 L485.5 132.3 L486.0 135.9 L486.5 139.7 L487.0 143.5 L487.5 147.5 L488.0 151.5 L488.5 155.5 L489.0 159.5 L489.5 163.5 L490.0 167.5 L490.5 171.4 L491.0 175.2 L491.5 179.0 L492.0 182.6 L492.5 186.1 L493.0 189.5 L493.5 192.7 L494.0 195.8 L494.5 198.8 L495.0 201.6 L495.5 204.2 L496.0 206.7 L496.5 209.0 L497.0 211.2 L497.5 213.2 L498.0 215.0 L498.5 216.8 L499.0 218.3 L499.5 219.8 L500.0 221.1 L500.5 222.3 L501.0 223.4 L501.5 224.4 L502.0 225.3 L502.5 226.1 L503.0 226.8 L503.5 227.4 L504.0 228.0 L504.5 228.5 L505.0 229.0 L505.5 229.3 L506.0 229.7 L506.5 230.0 L507.0 230.2 L507.5 230.5 L508.0 230.7 L508.5 230.8 L509.0 231.0 L509.5 231.1 L510.0 231.2 L510.5 231.3 L511.0 231.4 L511.5 231.5 L512.0 231.5 L512.5 231.6 L513.0 231.6 L513.5 231.6 L514.0 231.7 L514.5 231.7 L515.0 231.7 L515.5 231.7 L516.0 231.7 L516.5 231.8 L517.0 231.8 L517.5 231.8 L518.0 231.8 L518.5 231.8 L519.0 231.8 L519.5 231.8 L520.0 231.8 L520.5 231.8 L521.0 231.8 L521.5 231.8 L522.0 231.8 L522.5 231.8 L523.0 231.8 L523.5 231.8 L524.0 231.8 L524.5 231.8 L525.0 231.8 L525.5 231.8 L526.0 231.8 L526.5 231.8 L527.0 231.8 L527.5 231.8 L528.0 231.8 L528.5 231.8 L529.0 231.8 L529.5 231.8 L530.0 231.8 L530.5 231.8 L531.0 231.8 L531.5 231.8 L532.0 231.8 L532.5 231.8 L533.0 231.8 L533.5 231.8 L534.0 231.8 L534.5 231.8 L535.0 231.8 L535.5 231.8 L536.0 231.8 L536.5 231.8 L537.0 231.8 L537.5 231.8 L538.0 231.8 L538.5 231.8 L539.0 231.8 L539.5 231.8 L540.0 231.8 L540.5 231.8 L541.0 231.8 L541.5 231.8 L542.0 231.8 L542.5 231.8 L543.0 231.8 L543.5 231.8 L544.0 231.8 L544.5 231.8 L545.0 231.8 L545.5 231.8 L546.0 231.8 L546.5 231.8 L547.0 231.8 L547.5 231.8 L548.0 231.8 L548.5 231.8 L549.0 231.8 L549.5 231.8 L550.0 231.8 L550.5 231.8 L551.0 231.8 L551.5 231.8 L552.0 231.8 L552.5 231.8 L553.0 231.8 L553.5 231.8 L554.0 231.8 L554.5 231.8 L555.0 231.8 L555.5 231.8 L556.0 231.8 L556.5 231.8 L557.0 231.8 L557.5 231.8 L558.0 231.8 L558.5 231.8 L559.0 231.8 L559.5 231.8 L560.0 231.8 L560.5 231.8 L561.0 231.8 L561.5 231.8 L562.0 231.8 L562.5 231.8 L563.0 231.8 L563.5 231.8 L564.0 231.8 L564.5 231.8 L565.0 231.8 L565.5 231.8 L566.0 231.8 L566.5 231.8 L567.0 231.8 L567.5 231.8 L568.0 231.8 L568.5 231.8 L569.0 231.8 L569.5 231.8 L570.0 231.8 L570.5 231.8 L571.0 231.8 L571.5 231.8 L572.0 231.8 L572.5 231.8 L573.0 231.8 L573.5 231.8 L574.0 231.8 L574.5 231.8 L575.0 231.8 L575.5 231.8 L576.0 231.8 L576.5 231.8 L577.0 231.8 L577.5 231.8 L578.0 231.8 L578.5 231.8 L579.0 231.8 L579.5 231.8 L580.0 231.8 L580.5 231.8 L581.0 231.8 L581.5 231.8 L582.0 231.8 L582.5 231.8 L583.0 231.8 L583.5 231.8 L584.0 231.8 L584.5 231.8 L585.0 231.8 L585.5 231.8 L586.0 231.8 L586.5 231.8 L587.0 231.8 L587.5 231.8 L588.0 231.8 L588.5 231.8 L589.0 231.8 L589.5 231.8 L590.0 231.8 L590.5 231.8 L591.0 231.8 L591.5 231.8 L592.0 231.8 L592.5 231.8 L593.0 231.8 L593.5 231.8 L594.0 231.8 L594.5 231.8 L595.0 231.8 L595.5 231.8 L596.0 231.8 L596.5 231.8 L597.0 231.8 L597.5 231.8 L598.0 231.8 L598.5 231.8 L599.0 231.8 L599.5 231.8 L600.0 231.8 L600.5 231.8 L601.0 231.8 L601.5 231.8 L602.0 231.8 L602.5 231.8 L603.0 231.8 L603.5 231.8 L604.0 231.8 L604.5 231.8 L605.0 231.8 L605.5 231.8 L606.0 231.8 L606.5 231.8 L607.0 231.8 L607.5 231.8 L608.0 231.8 L608.5 231.8 L609.0 231.8 L609.5 231.8 L610.0 231.8 L610.5 231.8 L611.0 231.8 L611.5 231.8 L612.0 231.8 L612.5 231.8 L613.0 231.8 L613.5 231.8 L614.0 231.8 L614.5 231.8 L615.0 231.8 L615.5 231.8 L616.0 231.8 L616.5 231.8 L617.0 231.8 L617.5 231.8 L618.0 231.8 L618.5 231.8 L619.0 231.8 L619.5 231.8 L620.0 231.8 L620.5 231.8 L621.0 231.8 L621.5 231.8 L622.0 231.8 L622.5 231.8 L623.0 231.8 L623.5 231.8 L624.0 231.8 L624.5 231.8 L625.0 231.8 L625.5 231.8 L626.0 231.8 L626.5 231.8 L627.0 231.8 L627.5 231.8 L628.0 231.8 L628.5 231.8 L629.0 231.8 L629.5 231.8 L630.0 231.8 L630.5 231.8 L631.0 231.8 L631.5 231.8 L632.0 231.8 L632.5 231.8 L633.0 231.8 L633.5 231.8 L634.0 231.8 L634.5 231.8 L635.0 231.8 L635.5 231.8 L636.0 231.8 L636.5 231.8 L637.0 231.8 L637.5 231.8 L638.0 231.8 L638.5 231.8 L639.0 231.8 L639.5 231.8 L640.0 231.8 L640.5 231.8 L641.0 231.8 L641.5 231.8 L642.0 231.8 L642.5 231.8 L643.0 231.8 L643.5 231.8 L644.0 231.8 L644.5 231.8 L645.0 231.8 L645.5 231.8 L646.0 231.8 L646.5 231.8 L647.0 231.8 L647.5 231.8 L648.0 231.8 L648.5 231.8 L649.0 231.8 L649.5 231.8 L650.0 231.8 L650.5 231.8 L651.0 231.8 L651.5 231.8 L652.0 231.8 L652.5 231.8 L653.0 231.8 L653.5 231.8 L654.0 231.8 L654.5 231.8 L655.0 231.8 L655.5 231.8 L656.0 231.8 L656.5 231.8 L657.0 231.8 L657.5 231.8 L658.0 231.8 L658.5 231.8 L659.0 231.8 L659.5 231.8 L660.0 231.8 L660.5 231.8 L661.0 231.8 L661.5 231.8 L662.0 231.8 L662.5 231.8 L663.0 231.8 L663.5 231.8 L664.0 231.8 L664.5 231.8 L665.0 231.8 L665.5 231.8 L666.0 231.8 L666.5 231.8 L667.0 231.8 L667.5 231.8 L668.0 231.8" stroke="#ff00ff" stroke-width="2.0" fill="none" stroke-linejoin="round"/>
<path d="M410.0 231.8 L410.5 231.8 L411.0 231.8 L411.5 231.8 L412.0 231.8 L412.5 231.8 L413.0 231.8 L413.5 231.8 L414.0 231.8 L414.5 231.8 L415.0 231.8 L415.5 231.8 L416.0 231.8 L416.5 231.8 L417.0 231.8 L417.5 231.8 L418.0 231.8 L418.5 231.8 L419.0 231.8 L419.5 231.8 L420.0 231.8 L420.5 231.8 L421.0 231.8 L421.5 231.8 L422.0 231.8 L422.5 231.8 L423.0 231.8 L423.5 231.8 L424.0 231.8 L424.5 231.8 L425.0 231.8 L425.5 231.8 L426.0 231.8 L426.5 231.8 L427.0 231.8 L427.5 231.8 L428.0 231.8 L428.5 231.8 L429.0 231.8 L429.5 231.8 L430.0 231.8 L430.5 231.8 L431.0 231.8 L431.5 231.8 L432.0 231.8 L432.5 231.8 L433.0 231.8 L433.5 231.8 L434.0 231.8 L434.5 231.8 L435.0 231.8 L435.5 231.8 L436.0 231.8 L436.5 231.8 L437.0 231.8 L437.5 231.8 L438.0 231.8 L438.5 231.8 L439.0 231.8 L439.5 231.8 L440.0 231.8 L440.5 231.8 L441.0 231.8 L441.5 231.8 L442.0 231.8 L442.5 231.8 L443.0 231.8 L443.5 231.8 L444.0 231.8 L444.5 231.8 L445.0 231.8 L445.5 231.8 L446.0 231.8 L446.5 231.8 L447.0 231.8 L447.5 231.8 L448.0 231.8 L448.5 231.8 L449.0 231.8 L449.5 231.8 L450.0 231.8 L450.5 231.8 L451.0 231.8 L451.5 231.8 L452.0 231.8 L452.5 231.8 L453.0 231.8 L453.5 231.8 L454.0 231.8 L454.5 231.8 L455.0 231.8 L455.5 231.8 L456.0 231.7 L456.5 231.7 L457.0 231.7 L457.5 231.7 L458.0 231.7 L458.5 231.7 L459.0 231.6 L459.5 231.6 L460.0 231.6 L460.5 231.5 L461.0 231.5 L461.5 231.4 L462.0 231.3 L462.5 231.2 L463.0 231.1 L463.5 231.0 L464.0 230.9 L464.5 230.7 L465.0 230.6 L465.5 230.4 L466.0 230.2 L466.5 229.9 L467.0 229.6 L467.5 229.3 L468.0 228.9 L468.5 228.5 L469.0 228.0 L469.5 227.5 L470.0 227.0 L470.5 226.3 L471.0 225.6 L471.5 224.9 L472.0 224.0 L472.5 223.1 L473.0 222.1 L473.5 221.0 L474.0 219.9 L474.5 218.6 L475.0 217.2 L475.5 215.8 L476.0 214.2 L476.5 212.6 L477.0 210.8 L477.5 209.0 L478.0 207.0 L478.5 205.0 L479.0 202.9 L479.5 200.7 L480.0 198.4 L480.5 196.0 L481.0 193.6 L481.5 191.2 L482.0 188.6 L482.5 186.1 L483.0 183.5 L483.5 181.0 L484.0 178.4 L484.5 175.9 L485.0 173.4 L485.5 170.9 L486.0 168.5 L486.5 166.3 L487.0 164.1 L487.5 162.0 L488.0 160.1 L488.5 158.3 L489.0 156.6 L489.5 155.2 L490.0 153.9 L490.5 152.8 L491.0 151.9 L491.5 151.2 L492.0 150.8 L492.5 150.5 L493.0 150.5 L493.5 150.7 L494.0 151.1 L494.5 151.8 L495.0 152.6 L495.5 153.7 L496.0 154.9 L496.5 156.3 L497.0 157.9 L497.5 159.7 L498.0 161.6 L498.5 163.6 L499.0 165.8 L499.5 168.1 L500.0 170.4 L500.5 172.9 L501.0 175.4 L501.5 177.9 L502.0 180.4 L502.5 183.0 L503.0 185.6 L503.5 188.1 L504.0 190.7 L504.5 193.1 L505.0 195.6 L505.5 197.9 L506.0 200.2 L506.5 202.4 L507.0 204.6 L507.5 206.6 L508.0 208.6 L508.5 210.5 L509.0 212.2 L509.5 213.9 L510.0 215.5 L510.5 217.0 L511.0 218.3 L511.5 219.6 L512.0 220.8 L512.5 221.9 L513.0 222.9 L513.5 223.9 L514.0 224.7 L514.5 225.5 L515.0 226.2 L515.5 226.8 L516.0 227.4 L516.5 227.9 L517.0 228.4 L517.5 228.8 L518.0 229.2 L518.5 229.5 L519.0 229.8 L519.5 230.1 L520.0 230.3 L520.5 230.5 L521.0 230.7 L521.5 230.9 L522.0 231.0 L522.5 231.1 L523.0 231.2 L523.5 231.3 L524.0 231.4 L524.5 231.5 L525.0 231.5 L525.5 231.6 L526.0 231.6 L526.5 231.6 L527.0 231.7 L527.5 231.7 L528.0 231.7 L528.5 231.7 L529.0 231.7 L529.5 231.7 L530.0 231.8 L530.5 231.8 L531.0 231.8 L531.5 231.8 L532.0 231.8 L532.5 231.8 L533.0 231.8 L533.5 231.8 L534.0 231.8 L534.5 231.8 L535.0 231.8 L535.5 231.8 L536.0 231.8 L536.5 231.8 L537.0 231.8 L537.5 231.8 L538.0 231.8 L538.5 231.8 L539.0 231.8 L539.5 231.8 L540.0 231.8 L540.5 231.8 L541.0 231.8 L541.5 231.8 L542.0 231.8 L542.5 231.8 L543.0 231.8 L543.5 231.8 L544.0 231.8 L544.5 231.8 L545.0 231.8 L545.5 231.8 L546.0 231.8 L546.5 231.8 L547.0 231.8 L547.5 231.8 L548.0 231.8 L548.5 231.8 L549.0 231.8 L549.5 231.8 L550.0 231.8 L550.5 231.8 L551.0 231.8 L551.5 231.8 L552.0 231.8 L552.5 231.8 L553.0 231.8 L553.5 231.8 L554.0 231.8 L554.5 231.8 L555.0 231.8 L555.5 231.8 L556.0 231.8 L556.5 231.8 L557.0 231.8 L557.5 231.8 L558.0 231.8 L558.5 231.8 L559.0 231.8 L559.5 231.8 L560.0 231.8 L560.5 231.8 L561.0 231.8 L561.5 231.8 L562.0 231.8 L562.5 231.8 L563.0 231.8 L563.5 231.8 L564.0 231.8 L564.5 231.8 L565.0 231.8 L565.5 231.8 L566.0 231.8 L566.5 231.8 L567.0 231.8 L567.5 231.8 L568.0 231.8 L568.5 231.8 L569.0 231.8 L569.5 231.8 L570.0 231.8 L570.5 231.8 L571.0 231.8 L571.5 231.8 L572.0 231.8 L572.5 231.8 L573.0 231.8 L573.5 231.8 L574.0 231.8 L574.5 231.8 L575.0 231.8 L575.5 231.8 L576.0 231.8 L576.5 231.8 L577.0 231.8 L577.5 231.8 L578.0 231.8 L578.5 231.8 L579.0 231.8 L579.5 231.8 L580.0 231.8 L580.5 231.8 L581.0 231.8 L581.5 231.8 L582.0 231.8 L582.5 231.8 L583.0 231.8 L583.5 231.8 L584.0 231.8 L584.5 231.8 L585.0 231.8 L585.5 231.8 L586.0 231.8 L586.5 231.8 L587.0 231.8 L587.5 231.8 L588.0 231.8 L588.5 231.8 L589.0 231.8 L589.5 231.8 L590.0 231.8 L590.5 231.8 L591.0 231.8 L591.5 231.8 L592.0 231.8 L592.5 231.8 L593.0 231.8 L593.5 231.8 L594.0 231.8 L594.5 231.8 L595.0 231.8 L595.5 231.8 L596.0 231.8 L596.5 231.8 L597.0 231.8 L597.5 231.8 L598.0 231.8 L598.5 231.8 L599.0 231.8 L599.5 231.8 L600.0 231.8 L600.5 231.8 L601.0 231.8 L601.5 231.8 L602.0 231.8 L602.5 231.8 L603.0 231.8 L603.5 231.8 L604.0 231.8 L604.5 231.8 L605.0 231.8 L605.5 231.8 L606.0 231.8 L606.5 231.8 L607.0 231.8 L607.5 231.8 L608.0 231.8 L608.5 231.8 L609.0 231.8 L609.5 231.8 L610.0 231.8 L610.5 231.8 L611.0 231.8 L611.5 231.8 L612.0 231.8 L612.5 231.8 L613.0 231.8 L613.5 231.8 L614.0 231.8 L614.5 231.8 L615.0 231.8 L615.5 231.8 L616.0 231.8 L616.5 231.8 L617.0 231.8 L617.5 231.8 L618.0 231.8 L618.5 231.8 L619.0 231.8 L619.5 231.8 L620.0 231.8 L620.5 231.8 L621.0 231.8 L621.5 231.8 L622.0 231.8 L622.5 231.8 L623.0 231.8 L623.5 231.8 L624.0 231.8 L624.5 231.8 L625.0 231.8 L625.5 231.8 L626.0 231.8 L626.5 231.8 L627.0 231.8 L627.5 231.8 L628.0 231.8 L628.5 231.8 L629.0 231.8 L629.5 231.8 L630.0 231.8 L630.5 231.8 L631.0 231.8 L631.5 231.8 L632.0 231.8 L632.5 231.8 L633.0 231.8 L633.5 231.8 L634.0 231.8 L634.5 231.8 L635.0 231.8 L635.5 231.8 L636.0 231.8 L636.5 231.8 L637.0 231.8 L637.5 231.8 L638.0 231.8 L638.5 231.8 L639.0 231.8 L639.5 231.8 L640.0 231.8 L640.5 231.8 L641.0 231.8 L641.5 231.8 L642.0 231.8 L642.5 231.8 L643.0 231.8 L643.5 231.8 L644.0 231.8 L644.5 231.8 L645.0 231.8 L645.5 231.8 L646.0 231.8 L646.5 231.8 L647.0 231.8 L647.5 231.8 L648.0 231.8 L648.5 231.8 L649.0 231.8 L649.5 231.8 L650.0 231.8 L650.5 231.8 L651.0 231.8 L651.5 231.8 L652.0 231.8 L652.5 231.8 L653.0 231.8 L653.5 231.8 L654.0 231.8 L654.5 231.8 L655.0 231.8 L655.5 231.8 L656.0 231.8 L656.5 231.8 L657.0 231.8 L657.5 231.8 L658.0 231.8 L658.5 231.8 L659.0 231.8 L659.5 231.8 L660.0 231.8 L660.5 231.8 L661.0 231.8 L661.5 231.8 L662.0 231.8 L662.5 231.8 L663.0 231.8 L663.5 231.8 L664.0 231.8 L664.5 231.8 L665.0 231.8 L665.5 231.8 L666.0 231.8 L666.5 231.8 L667.0 231.8 L667.5 231.8 L668.0 231.8" stroke="#808000" stroke-width="2.0" fill="none" stroke-linejoin="round"/>
<path d="M410.0 231.8 L410.5 231.8 L411.0 231.8 L411.5 231.8 L412.0 231.8 L412.5 231.8 L413.0 231.8 L413.5 231.8 L414.0 231.8 L414.5 231.8 L415.0 231.8 L415.5 231.8 L416.0 231.8 L416.5 231.8 L417.0 231.8 L417.5 231.8 L418.0 231.8 L418.5 231.8 L419.0 231.8 L419.5 231.8 L420.0 231.8 L420.5 231.8 L421.0 231.8 L421.5 231.8 L422.0 231.8 L422.5 231.8 L423.0 231.8 L423.5 231.8 L424.0 231.8 L424.5 231.8 L425.0 231.8 L425.5 231.8 L426.0 231.8 L426.5 231.8 L427.0 231.8 L427.5 231.8 L428.0 231.8 L428.5 231.8 L429.0 231.8 L429.5 231.8 L430.0 231.8 L430.5 231.8 L431.0 231.8 L431.5 231.8 L432.0 231.8 L432.5 231.8 L433.0 231.8 L433.5 231.8 L434.0 231.8 L434.5 231.8 L435.0 231.8 L435.5 231.8 L436.0 231.8 L436.5 231.8 L437.0 231.8 L437.5 231.8 L438.0 231.8 L438.5 231.8 L439.0 231.8 L439.5 231.8 L440.0 231.8 L440.5 231.8 L441.0 231.8 L441.5 231.8 L442.0 231.8 L442.5 231.8 L443.0 231.8 L443.5 231.8 L444.0 231.8 L444.5 231.8 L445.0 231.8 L445.5 231.8 L446.0 231.8 L446.5 231.8 L447.0 231.8 L447.5 231.8 L448.0 231.8 L448.5 231.8 L449.0 231.8 L449.5 231.8 L450.0 231.8 L450.5 231.8 L451.0 231.8 L451.5 231.8 L452.0 231.8 L452.5 231.8 L453.0 231.8 L453.5 231.8 L454.0 231.8 L454.5 231.8 L455.0 231.8 L455.5 231.8 L456.0 231.8 L456.5 231.8 L457.0 231.8 L457.5 231.8 L458.0 231.8 L458.5 231.8 L459.0 231.8 L459.5 231.8 L460.0 231.8 L460.5 231.8 L461.0 231.8 L461.5 231.8 L462.0 231.8 L462.5 231.8 L463.0 231.8 L463.5 231.8 L464.0 231.8 L464.5 231.8 L465.0 231.8 L465.5 231.8 L466.0 231.8 L466.5 231.8 L467.0 231.8 L467.5 231.8 L468.0 231.8 L468.5 231.8 L469.0 231.8 L469.5 231.8 L470.0 231.8 L470.5 231.8 L471.0 231.8 L471.5 231.8 L472.0 231.8 L472.5 231.8 L473.0 231.8 L473.5 231.8 L474.0 231.8 L474.5 231.8 L475.0 231.8 L475.5 231.8 L476.0 231.8 L476.5 231.8 L477.0 231.8 L477.5 231.8 L478.0 231.8 L478.5 231.8 L479.0 231.7 L479.5 231.7 L480.0 231.7 L480.5 231.7 L481.0 231.7 L481.5 231.7 L482.0 231.6 L482.5 231.6 L483.0 231.6 L483.5 231.5 L484.0 231.5 L484.5 231.4 L485.0 231.3 L485.5 231.2 L486.0 231.1 L486.5 231.0 L487.0 230.9 L487.5 230.7 L488.0 230.5 L488.5 230.3 L489.0 230.1 L489.5 229.9 L490.0 229.6 L490.5 229.2 L491.0 228.9 L491.5 228.5 L492.0 228.0 L492.5 227.5 L493.0 227.0 L493.5 226.3 L494.0 225.7 L494.5 225.0 L495.0 224.2 L495.5 223.3 L496.0 222.4 L496.5 221.4 L497.0 220.3 L497.5 219.2 L498.0 218.0 L498.5 216.7 L499.0 215.4 L499.5 214.0 L500.0 212.5 L500.5 211.0 L501.0 209.4 L501.5 207.8 L502.0 206.1 L502.5 204.4 L503.0 202.7 L503.5 201.0 L504.0 199.3 L504.5 197.5 L505.0 195.8 L505.5 194.1 L506.0 192.5 L506.5 190.9 L507.0 189.4 L507.5 187.9 L508.0 186.6 L508.5 185.3 L509.0 184.2 L509.5 183.1 L510.0 182.2 L510.5 181.4 L511.0 180.8 L511.5 180.3 L512.0 180.0 L512.5 179.8 L513.0 179.8 L513.5 180.0 L514.0 180.3 L514.5 180.7 L515.0 181.3 L515.5 182.0 L516.0 182.9 L516.5 183.9 L517.0 185.1 L517.5 186.3 L518.0 187.7 L518.5 189.1 L519.0 190.6 L519.5 192.2 L520.0 193.8 L520.5 195.5 L521.0 197.2 L521.5 198.9 L522.0 200.6 L522.5 202.4 L523.0 204.1 L523.5 205.8 L524.0 207.5 L524.5 209.1 L525.0 210.7 L525.5 212.2 L526.0 213.7 L526.5 215.1 L527.0 216.5 L527.5 217.7 L528.0 219.0 L528.5 220.1 L529.0 221.2 L529.5 222.2 L530.0 223.1 L530.5 224.0 L531.0 224.8 L531.5 225.5 L532.0 226.2 L532.5 226.8 L533.0 227.4 L533.5 227.9 L534.0 228.4 L534.5 228.8 L535.0 229.2 L535.5 229.5 L536.0 229.8 L536.5 230.1 L537.0 230.3 L537.5 230.5 L538.0 230.7 L538.5 230.8 L539.0 231.0 L539.5 231.1 L540.0 231.2 L540.5 231.3 L541.0 231.4 L541.5 231.4 L542.0 231.5 L542.5 231.6 L543.0 231.6 L543.5 231.6 L544.0 231.7 L544.5 231.7 L545.0 231.7 L545.5 231.7 L546.0 231.7 L546.5 231.7 L547.0 231.8 L547.5 231.8 L548.0 231.8 L548.5 231.8 L549.0 231.8 L549.5 231.8 L550.0 231.8 L550.5 231.8 L551.0 231.8 L551.5 231.8 L552.0 231.8 L552.5 231.8 L553.0 231.8 L553.5 231.8 L554.0 231.8 L554.5 231.8 L555.0 231.8 L555.5 231.8 L556.0 231.8 L556.5 231.8 L557.0 231.8 L557.5 231.8 L558.0 231.8 L558.5 231.8 L559.0 231.8 L559.5 231.8 L560.0 231.8 L560.5 231.8 L561.0 231.8 L561.5 231.8 L562.0 231.8 L562.5 231.8 L563.0 231.8 L563.5 231.8 L564.0 231.8 L564.5 231.8 L565.0 231.8 L565.5 231.8 L566.0 231.8 L566.5 231.8 L567.0 231.8 L567.5 231.8 L568.0 231.8 L568.5 231.8 L569.0 231.8 L569.5 231.8 L570.0 231.8 L570.5 231.8 L571.0 231.8 L571.5 231.8 L572.0 231.8 L572.5 231.8 L573.0 231.8 L573.5 231.8 L574.0 231.8 L574.5 231.8 L575.0 231.8 L575.5 231.8 L576.0 231.8 L576.5 231.8 L577.0 231.8 L577.5 231.8 L578.0 231.8 L578.5 231.8 L579.0 231.8 L579.5 231.8 L580.0 231.8 L580.5 231.8 L581.0 231.8 L581.5 231.8 L582.0 231.8 L582.5 231.8 L583.0 231.8 L583.5 231.8 L584.0 231.8 L584.5 231.8 L585.0 231.8 L585.5 231.8 L586.0 231.8 L586.5 231.8 L587.0 231.8 L587.5 231.8 L588.0 231.8 L588.5 231.8 L589.0 231.8 L589.5 231.8 L590.0 231.8 L590.5 231.8 L591.0 231.8 L591.5 231.8 L592.0 231.8 L592.5 231.8 L593.0 231.8 L593.5 231.8 L594.0 231.8 L594.5 231.8 L595.0 231.8 L595.5 231.8 L596.0 231.8 L596.5 231.8 L597.0 231.8 L597.5 231.8 L598.0 231.8 L598.5 231.8 L599.0 231.8 L599.5 231.8 L600.0 231.8 L600.5 231.8 L601.0 231.8 L601.5 231.8 L602.0 231.8 L602.5 231.8 L603.0 231.8 L603.5 231.8 L604.0 231.8 L604.5 231.8 L605.0 231.8 L605.5 231.8 L606.0 231.8 L606.5 231.8 L607.0 231.8 L607.5 231.8 L608.0 231.8 L608.5 231.8 L609.0 231.8 L609.5 231.8 L610.0 231.8 L610.5 231.8 L611.0 231.8 L611.5 231.8 L612.0 231.8 L612.5 231.8 L613.0 231.8 L613.5 231.8 L614.0 231.8 L614.5 231.8 L615.0 231.8 L615.5 231.8 L616.0 231.8 L616.5 231.8 L617.0 231.8 L617.5 231.8 L618.0 231.8 L618.5 231.8 L619.0 231.8 L619.5 231.8 L620.0 231.8 L620.5 231.8 L621.0 231.8 L621.5 231.8 L622.0 231.8 L622.5 231.8 L623.0 231.8 L623.5 231.8 L624.0 231.8 L624.5 231.8 L625.0 231.8 L625.5 231.8 L626.0 231.8 L626.5 231.8 L627.0 231.8 L627.5 231.8 L628.0 231.8 L628.5 231.8 L629.0 231.8 L629.5 231.8 L630.0 231.8 L630.5 231.8 L631.0 231.8 L631.5 231.8 L632.0 231.8 L632.5 231.8 L633.0 231.8 L633.5 231.8 L634.0 231.8 L634.5 231.8 L635.0 231.8 L635.5 231.8 L636.0 231.8 L636.5 231.8 L637.0 231.8 L637.5 231.8 L638.0 231.8 L638.5 231.8 L639.0 231.8 L639.5 231.8 L640.0 231.8 L640.5 231.8 L641.0 231.8 L641.5 231.8 L642.0 231.8 L642.5 231.8 L643.0 231.8 L643.5 231.8 L644.0 231.8 L644.5 231.8 L645.0 231.8 L645.5 231.8 L646.0 231.8 L646.5 231.8 L647.0 231.8 L647.5 231.8 L648.0 231.8 L648.5 231.8 L649.0 231.8 L649.5 231.8 L650.0 231.8 L650.5 231.8 L651.0 231.8 L651.5 231.8 L652.0 231.8 L652.5 231.8 L653.0 231.8 L653.5 231.8 L654.0 231.8 L654.5 231.8 L655.0 231.8 L655.5 231.8 L656.0 231.8 L656.5 231.8 L657.0 231.8 L657.5 231.8 L658.0 231.8 L658.5 231.8 L659.0 231.8 L659.5 231.8 L660.0 231.8 L660.5 231.8 L661.0 231.8 L661.5 231.8 L662.0 231.8 L662.5 231.8 L663.0 231.8 L663.5 231.8 L664.0 231.8 L664.5 231.8 L665.0 231.8 L665.5 231.8 L666.0 231.8 L666.5 231.8 L667.0 231.8 L667.5 231.8 L668.0 231.8" stroke="#000080" stroke-width="2.0" fill="none" stroke-linejoin="round"/>
<rect x="57.30" y="325.10" width="262.20" height="216.40" fill="none" stroke="#000" stroke-width="2.2"/>
<path d="M92.26 542.50V548.00M179.66 542.50V548.00M267.06 542.50V548.00M135.96 542.50V546.00M223.36 542.50V546.00M310.76 542.50V546.00" stroke="#000" stroke-width="1.8" fill="none"/>
<text transform="translate(77.42,563.70) scale(1.1097,1)" font-size="15.71" fill="#000">185</text>
<text transform="translate(164.81,563.70) scale(1.1186,1)" font-size="15.71" fill="#000">190</text>
<text transform="translate(252.22,563.70) scale(1.1097,1)" font-size="15.71" fill="#000">195</text>
<text transform="translate(90.25,585.20) scale(1.0633,1)" font-size="21.53" fill="#000">Binding energy (eV)</text>
<text transform="translate(39.60,511.59) rotate(-90) scale(0.9924,1)" font-size="23.71" fill="#000">Intensity (a.u.)</text>
<text transform="translate(268.12,351.30) scale(1.0042,1)" font-size="17.45" fill="#000">B 1s</text>
<text transform="translate(125.23,341.20) scale(1.0148,1)" font-size="17.02" fill="#ff0080">B sub C</text>
<text transform="translate(134.02,360.10) scale(1.0865,1)" font-size="15.85" fill="#ff0080">188.7</text>
<text transform="translate(81.88,412.40) scale(0.9486,1)" font-size="17.45" fill="#008080">B</text>
<text transform="translate(94.36,416.70) scale(0.9179,1)" font-size="17.31" fill="#008080">4</text>
<text transform="translate(104.16,412.40) scale(0.9090,1)" font-size="17.63" fill="#008080">C</text>
<text transform="translate(75.33,435.80) scale(1.0898,1)" font-size="15.71" fill="#008080">187.5</text>
<text transform="translate(189.85,399.70) scale(1.0471,1)" font-size="16.29" fill="#808000">B-C</text>
<text transform="translate(188.42,424.10) scale(1.0546,1)" font-size="16.44" fill="#808000">189.2</text>
<text transform="translate(205.01,460.60) scale(1.0531,1)" font-size="16.44" fill="#000080">-BC</text>
<text transform="translate(235.99,465.00) scale(1.0580,1)" font-size="16.34" fill="#000080">2</text>
<text transform="translate(246.04,460.80) scale(0.9534,1)" font-size="17.20" fill="#000080">O</text>
<text transform="translate(225.21,487.00) scale(1.0962,1)" font-size="15.85" fill="#000080">190.3</text>
<path d="M58.3 511.4 L58.8 511.4 L59.3 511.4 L59.8 511.4 L60.3 511.4 L60.8 511.4 L61.3 511.4 L61.8 511.4 L62.3 511.4 L62.8 511.4 L63.3 511.4 L63.8 511.4 L64.3 511.4 L64.8 511.4 L65.3 511.4 L65.8 511.4 L66.3 511.4 L66.8 511.4 L67.3 511.4 L67.8 511.4 L68.3 511.4 L68.8 511.4 L69.3 511.4 L69.8 511.4 L70.3 511.4 L70.8 511.4 L71.3 511.3 L71.8 511.3 L72.3 511.3 L72.8 511.3 L73.3 511.3 L73.8 511.3 L74.3 511.3 L74.8 511.3 L75.3 511.3 L75.8 511.3 L76.3 511.2 L76.8 511.2 L77.3 511.2 L77.8 511.2 L78.3 511.2 L78.8 511.1 L79.3 511.1 L79.8 511.1 L80.3 511.0 L80.8 511.0 L81.3 511.0 L81.8 510.9 L82.3 510.9 L82.8 510.8 L83.3 510.7 L83.8 510.7 L84.3 510.6 L84.8 510.5 L85.3 510.5 L85.8 510.4 L86.3 510.3 L86.8 510.2 L87.3 510.1 L87.8 509.9 L88.3 509.8 L88.8 509.7 L89.3 509.5 L89.8 509.4 L90.3 509.2 L90.8 509.0 L91.3 508.8 L91.8 508.6 L92.3 508.3 L92.8 508.1 L93.3 507.8 L93.8 507.6 L94.3 507.3 L94.8 506.9 L95.3 506.6 L95.8 506.3 L96.3 505.9 L96.8 505.5 L97.3 505.0 L97.8 504.6 L98.3 504.1 L98.8 503.6 L99.3 503.1 L99.8 502.5 L100.3 501.9 L100.8 501.3 L101.3 500.6 L101.8 500.0 L102.3 499.2 L102.8 498.5 L103.3 497.7 L103.8 496.9 L104.3 496.0 L104.8 495.1 L105.3 494.2 L105.8 493.2 L106.3 492.2 L106.8 491.1 L107.3 490.0 L107.8 488.9 L108.3 487.7 L108.8 486.5 L109.3 485.3 L109.8 484.0 L110.3 482.6 L110.8 481.2 L111.3 479.8 L111.8 478.4 L112.3 476.9 L112.8 475.3 L113.3 473.8 L113.8 472.2 L114.3 470.5 L114.8 468.8 L115.3 467.1 L115.8 465.4 L116.3 463.6 L116.8 461.8 L117.3 459.9 L117.8 458.1 L118.3 456.2 L118.8 454.2 L119.3 452.3 L119.8 450.4 L120.3 448.4 L120.8 446.4 L121.3 444.4 L121.8 442.4 L122.3 440.3 L122.8 438.3 L123.3 436.3 L123.8 434.2 L124.3 432.2 L124.8 430.1 L125.3 428.1 L125.8 426.1 L126.3 424.0 L126.8 422.0 L127.3 420.0 L127.8 418.0 L128.3 416.1 L128.8 414.1 L129.3 412.2 L129.8 410.3 L130.3 408.4 L130.8 406.6 L131.3 404.7 L131.8 402.9 L132.3 401.2 L132.8 399.5 L133.3 397.8 L133.8 396.1 L134.3 394.5 L134.8 392.9 L135.3 391.4 L135.8 389.9 L136.3 388.4 L136.8 387.0 L137.3 385.6 L137.8 384.3 L138.3 383.0 L138.8 381.8 L139.3 380.6 L139.8 379.4 L140.3 378.3 L140.8 377.3 L141.3 376.3 L141.8 375.3 L142.3 374.4 L142.8 373.5 L143.3 372.7 L143.8 372.0 L144.3 371.2 L144.8 370.6 L145.3 369.9 L145.8 369.4 L146.3 368.8 L146.8 368.4 L147.3 367.9 L147.8 367.5 L148.3 367.2 L148.8 366.9 L149.3 366.7 L149.8 366.4 L150.3 366.3 L150.8 366.2 L151.3 366.1 L151.8 366.1 L152.3 366.1 L152.8 366.2 L153.3 366.3 L153.8 366.5 L154.3 366.7 L154.8 366.9 L155.3 367.2 L155.8 367.5 L156.3 367.9 L156.8 368.3 L157.3 368.7 L157.8 369.2 L158.3 369.8 L158.8 370.3 L159.3 370.9 L159.8 371.6 L160.3 372.2 L160.8 373.0 L161.3 373.7 L161.8 374.5 L162.3 375.3 L162.8 376.1 L163.3 377.0 L163.8 377.9 L164.3 378.8 L164.8 379.8 L165.3 380.8 L165.8 381.8 L166.3 382.8 L166.8 383.8 L167.3 384.9 L167.8 386.0 L168.3 387.1 L168.8 388.2 L169.3 389.4 L169.8 390.5 L170.3 391.7 L170.8 392.9 L171.3 394.0 L171.8 395.2 L172.3 396.4 L172.8 397.6 L173.3 398.9 L173.8 400.1 L174.3 401.3 L174.8 402.5 L175.3 403.7 L175.8 405.0 L176.3 406.2 L176.8 407.4 L177.3 408.6 L177.8 409.9 L178.3 411.1 L178.8 412.3 L179.3 413.5 L179.8 414.7 L180.3 415.9 L180.8 417.1 L181.3 418.2 L181.8 419.4 L182.3 420.6 L182.8 421.7 L183.3 422.9 L183.8 424.0 L184.3 425.2 L184.8 426.3 L185.3 427.4 L185.8 428.5 L186.3 429.6 L186.8 430.7 L187.3 431.8 L187.8 432.9 L188.3 434.0 L188.8 435.1 L189.3 436.2 L189.8 437.2 L190.3 438.3 L190.8 439.4 L191.3 440.5 L191.8 441.5 L192.3 442.6 L192.8 443.7 L193.3 444.8 L193.8 445.9 L194.3 447.0 L194.8 448.1 L195.3 449.2 L195.8 450.4 L196.3 451.5 L196.8 452.7 L197.3 453.9 L197.8 455.1 L198.3 456.3 L198.8 457.6 L199.3 458.8 L199.8 460.1 L200.3 461.4 L200.8 462.7 L201.3 464.0 L201.8 465.4 L202.3 466.8 L202.8 468.1 L203.3 469.5 L203.8 470.9 L204.3 472.3 L204.8 473.7 L205.3 475.2 L205.8 476.6 L206.3 478.0 L206.8 479.4 L207.3 480.8 L207.8 482.2 L208.3 483.6 L208.8 484.9 L209.3 486.3 L209.8 487.6 L210.3 488.9 L210.8 490.1 L211.3 491.3 L211.8 492.5 L212.3 493.7 L212.8 494.8 L213.3 495.9 L213.8 496.9 L214.3 497.9 L214.8 498.9 L215.3 499.8 L215.8 500.7 L216.3 501.5 L216.8 502.3 L217.3 503.0 L217.8 503.7 L218.3 504.4 L218.8 505.0 L219.3 505.5 L219.8 506.1 L220.3 506.6 L220.8 507.0 L221.3 507.5 L221.8 507.8 L222.3 508.2 L222.8 508.5 L223.3 508.8 L223.8 509.1 L224.3 509.4 L224.8 509.6 L225.3 509.8 L225.8 510.0 L226.3 510.2 L226.8 510.3 L227.3 510.4 L227.8 510.6 L228.3 510.7 L228.8 510.8 L229.3 510.8 L229.8 510.9 L230.3 511.0 L230.8 511.0 L231.3 511.1 L231.8 511.1 L232.3 511.2 L232.8 511.2 L233.3 511.2 L233.8 511.3 L234.3 511.3 L234.8 511.3 L235.3 511.3 L235.8 511.3 L236.3 511.3 L236.8 511.3 L237.3 511.4 L237.8 511.4 L238.3 511.4 L238.8 511.4 L239.3 511.4 L239.8 511.4 L240.3 511.4 L240.8 511.4 L241.3 511.4 L241.8 511.4 L242.3 511.4 L242.8 511.4 L243.3 511.4 L243.8 511.4 L244.3 511.4 L244.8 511.4 L245.3 511.4 L245.8 511.4 L246.3 511.4 L246.8 511.4 L247.3 511.4 L247.8 511.4 L248.3 511.4 L248.8 511.4 L249.3 511.4 L249.8 511.4 L250.3 511.4 L250.8 511.4 L251.3 511.4 L251.8 511.4 L252.3 511.4 L252.8 511.4 L253.3 511.4 L253.8 511.4 L254.3 511.4 L254.8 511.4 L255.3 511.4 L255.8 511.4 L256.3 511.4 L256.8 511.4 L257.3 511.4 L257.8 511.4 L258.3 511.4 L258.8 511.4 L259.3 511.4 L259.8 511.4 L260.3 511.4 L260.8 511.4 L261.3 511.4 L261.8 511.4 L262.3 511.4 L262.8 511.4 L263.3 511.4 L263.8 511.4 L264.3 511.4 L264.8 511.4 L265.3 511.4 L265.8 511.4 L266.3 511.4 L266.8 511.4 L267.3 511.4 L267.8 511.4 L268.3 511.4 L268.8 511.4 L269.3 511.4 L269.8 511.4 L270.3 511.4 L270.8 511.4 L271.3 511.4 L271.8 511.4 L272.3 511.4 L272.8 511.4 L273.3 511.4 L273.8 511.4 L274.3 511.4 L274.8 511.4 L275.3 511.4 L275.8 511.4 L276.3 511.4 L276.8 511.4 L277.3 511.4 L277.8 511.4 L278.3 511.4 L278.8 511.4 L279.3 511.4 L279.8 511.4 L280.3 511.4 L280.8 511.4 L281.3 511.4 L281.8 511.4 L282.3 511.4 L282.8 511.4 L283.3 511.4 L283.8 511.4 L284.3 511.4 L284.8 511.4 L285.3 511.4 L285.8 511.4 L286.3 511.4 L286.8 511.4 L287.3 511.4 L287.8 511.4 L288.3 511.4 L288.8 511.4 L289.3 511.4 L289.8 511.4 L290.3 511.4 L290.8 511.4 L291.3 511.4 L291.8 511.4 L292.3 511.4 L292.8 511.4 L293.3 511.4 L293.8 511.4 L294.3 511.4 L294.8 511.4 L295.3 511.4 L295.8 511.4 L296.3 511.4 L296.8 511.4 L297.3 511.4 L297.8 511.4 L298.3 511.4 L298.8 511.4 L299.3 511.4 L299.8 511.4 L300.3 511.4 L300.8 511.4 L301.3 511.4 L301.8 511.4 L302.3 511.4 L302.8 511.4 L303.3 511.4 L303.8 511.4 L304.3 511.4 L304.8 511.4 L305.3 511.4 L305.8 511.4 L306.3 511.4 L306.8 511.4 L307.3 511.4 L307.8 511.4 L308.3 511.4 L308.8 511.4 L309.3 511.4 L309.8 511.4 L310.3 511.4 L310.8 511.4 L311.3 511.4 L311.8 511.4 L312.3 511.4 L312.8 511.4 L313.3 511.4 L313.8 511.4 L314.3 511.4 L314.8 511.4 L315.3 511.4 L315.8 511.4 L316.3 511.4 L316.8 511.4 L317.3 511.4 L317.8 511.4 L318.3 511.4" stroke="#ff0080" stroke-width="2.0" fill="none" stroke-linejoin="round"/>
<path d="M58.3 511.4 L58.8 511.4 L59.3 511.4 L59.8 511.4 L60.3 511.4 L60.8 511.4 L61.3 511.4 L61.8 511.4 L62.3 511.4 L62.8 511.4 L63.3 511.4 L63.8 511.4 L64.3 511.4 L64.8 511.4 L65.3 511.4 L65.8 511.4 L66.3 511.4 L66.8 511.4 L67.3 511.4 L67.8 511.4 L68.3 511.4 L68.8 511.4 L69.3 511.4 L69.8 511.4 L70.3 511.4 L70.8 511.4 L71.3 511.3 L71.8 511.3 L72.3 511.3 L72.8 511.3 L73.3 511.3 L73.8 511.3 L74.3 511.3 L74.8 511.3 L75.3 511.3 L75.8 511.3 L76.3 511.2 L76.8 511.2 L77.3 511.2 L77.8 511.2 L78.3 511.2 L78.8 511.1 L79.3 511.1 L79.8 511.1 L80.3 511.0 L80.8 511.0 L81.3 511.0 L81.8 510.9 L82.3 510.9 L82.8 510.8 L83.3 510.7 L83.8 510.7 L84.3 510.6 L84.8 510.5 L85.3 510.5 L85.8 510.4 L86.3 510.3 L86.8 510.2 L87.3 510.1 L87.8 509.9 L88.3 509.8 L88.8 509.7 L89.3 509.5 L89.8 509.4 L90.3 509.2 L90.8 509.0 L91.3 508.8 L91.8 508.6 L92.3 508.3 L92.8 508.1 L93.3 507.8 L93.8 507.6 L94.3 507.3 L94.8 507.0 L95.3 506.6 L95.8 506.3 L96.3 505.9 L96.8 505.5 L97.3 505.1 L97.8 504.6 L98.3 504.1 L98.8 503.6 L99.3 503.1 L99.8 502.5 L100.3 501.9 L100.8 501.3 L101.3 500.7 L101.8 500.0 L102.3 499.3 L102.8 498.5 L103.3 497.8 L103.8 496.9 L104.3 496.1 L104.8 495.2 L105.3 494.3 L105.8 493.3 L106.3 492.3 L106.8 491.3 L107.3 490.2 L107.8 489.1 L108.3 487.9 L108.8 486.7 L109.3 485.5 L109.8 484.2 L110.3 482.9 L110.8 481.6 L111.3 480.2 L111.8 478.8 L112.3 477.4 L112.8 475.9 L113.3 474.4 L113.8 472.8 L114.3 471.3 L114.8 469.7 L115.3 468.0 L115.8 466.4 L116.3 464.7 L116.8 463.0 L117.3 461.3 L117.8 459.6 L118.3 457.8 L118.8 456.1 L119.3 454.3 L119.8 452.6 L120.3 450.8 L120.8 449.1 L121.3 447.3 L121.8 445.5 L122.3 443.8 L122.8 442.1 L123.3 440.4 L123.8 438.7 L124.3 437.0 L124.8 435.4 L125.3 433.8 L125.8 432.2 L126.3 430.7 L126.8 429.2 L127.3 427.7 L127.8 426.4 L128.3 425.0 L128.8 423.7 L129.3 422.5 L129.8 421.3 L130.3 420.2 L130.8 419.2 L131.3 418.2 L131.8 417.3 L132.3 416.5 L132.8 415.7 L133.3 415.0 L133.8 414.4 L134.3 413.9 L134.8 413.5 L135.3 413.2 L135.8 412.9 L136.3 412.7 L136.8 412.6 L137.3 412.6 L137.8 412.7 L138.3 412.8 L138.8 413.1 L139.3 413.4 L139.8 413.8 L140.3 414.3 L140.8 414.9 L141.3 415.6 L141.8 416.3 L142.3 417.1 L142.8 418.0 L143.3 419.0 L143.8 420.0 L144.3 421.1 L144.8 422.2 L145.3 423.5 L145.8 424.7 L146.3 426.1 L146.8 427.5 L147.3 428.9 L147.8 430.4 L148.3 431.9 L148.8 433.5 L149.3 435.1 L149.8 436.7 L150.3 438.3 L150.8 440.0 L151.3 441.7 L151.8 443.5 L152.3 445.2 L152.8 446.9 L153.3 448.7 L153.8 450.5 L154.3 452.2 L154.8 454.0 L155.3 455.7 L155.8 457.5 L156.3 459.2 L156.8 461.0 L157.3 462.7 L157.8 464.4 L158.3 466.1 L158.8 467.7 L159.3 469.3 L159.8 470.9 L160.3 472.5 L160.8 474.1 L161.3 475.6 L161.8 477.1 L162.3 478.5 L162.8 479.9 L163.3 481.3 L163.8 482.7 L164.3 484.0 L164.8 485.3 L165.3 486.5 L165.8 487.7 L166.3 488.9 L166.8 490.0 L167.3 491.1 L167.8 492.1 L168.3 493.1 L168.8 494.1 L169.3 495.0 L169.8 495.9 L170.3 496.8 L170.8 497.6 L171.3 498.4 L171.8 499.1 L172.3 499.9 L172.8 500.5 L173.3 501.2 L173.8 501.8 L174.3 502.4 L174.8 503.0 L175.3 503.5 L175.8 504.0 L176.3 504.5 L176.8 505.0 L177.3 505.4 L177.8 505.8 L178.3 506.2 L178.8 506.5 L179.3 506.9 L179.8 507.2 L180.3 507.5 L180.8 507.8 L181.3 508.1 L181.8 508.3 L182.3 508.5 L182.8 508.8 L183.3 509.0 L183.8 509.1 L184.3 509.3 L184.8 509.5 L185.3 509.6 L185.8 509.8 L186.3 509.9 L186.8 510.0 L187.3 510.1 L187.8 510.3 L188.3 510.3 L188.8 510.4 L189.3 510.5 L189.8 510.6 L190.3 510.7 L190.8 510.7 L191.3 510.8 L191.8 510.8 L192.3 510.9 L192.8 510.9 L193.3 511.0 L193.8 511.0 L194.3 511.1 L194.8 511.1 L195.3 511.1 L195.8 511.1 L196.3 511.2 L196.8 511.2 L197.3 511.2 L197.8 511.2 L198.3 511.3 L198.8 511.3 L199.3 511.3 L199.8 511.3 L200.3 511.3 L200.8 511.3 L201.3 511.3 L201.8 511.3 L202.3 511.3 L202.8 511.3 L203.3 511.4 L203.8 511.4 L204.3 511.4 L204.8 511.4 L205.3 511.4 L205.8 511.4 L206.3 511.4 L206.8 511.4 L207.3 511.4 L207.8 511.4 L208.3 511.4 L208.8 511.4 L209.3 511.4 L209.8 511.4 L210.3 511.4 L210.8 511.4 L211.3 511.4 L211.8 511.4 L212.3 511.4 L212.8 511.4 L213.3 511.4 L213.8 511.4 L214.3 511.4 L214.8 511.4 L215.3 511.4 L215.8 511.4 L216.3 511.4 L216.8 511.4 L217.3 511.4 L217.8 511.4 L218.3 511.4 L218.8 511.4 L219.3 511.4 L219.8 511.4 L220.3 511.4 L220.8 511.4 L221.3 511.4 L221.8 511.4 L222.3 511.4 L222.8 511.4 L223.3 511.4 L223.8 511.4 L224.3 511.4 L224.8 511.4 L225.3 511.4 L225.8 511.4 L226.3 511.4 L226.8 511.4 L227.3 511.4 L227.8 511.4 L228.3 511.4 L228.8 511.4 L229.3 511.4 L229.8 511.4 L230.3 511.4 L230.8 511.4 L231.3 511.4 L231.8 511.4 L232.3 511.4 L232.8 511.4 L233.3 511.4 L233.8 511.4 L234.3 511.4 L234.8 511.4 L235.3 511.4 L235.8 511.4 L236.3 511.4 L236.8 511.4 L237.3 511.4 L237.8 511.4 L238.3 511.4 L238.8 511.4 L239.3 511.4 L239.8 511.4 L240.3 511.4 L240.8 511.4 L241.3 511.4 L241.8 511.4 L242.3 511.4 L242.8 511.4 L243.3 511.4 L243.8 511.4 L244.3 511.4 L244.8 511.4 L245.3 511.4 L245.8 511.4 L246.3 511.4 L246.8 511.4 L247.3 511.4 L247.8 511.4 L248.3 511.4 L248.8 511.4 L249.3 511.4 L249.8 511.4 L250.3 511.4 L250.8 511.4 L251.3 511.4 L251.8 511.4 L252.3 511.4 L252.8 511.4 L253.3 511.4 L253.8 511.4 L254.3 511.4 L254.8 511.4 L255.3 511.4 L255.8 511.4 L256.3 511.4 L256.8 511.4 L257.3 511.4 L257.8 511.4 L258.3 511.4 L258.8 511.4 L259.3 511.4 L259.8 511.4 L260.3 511.4 L260.8 511.4 L261.3 511.4 L261.8 511.4 L262.3 511.4 L262.8 511.4 L263.3 511.4 L263.8 511.4 L264.3 511.4 L264.8 511.4 L265.3 511.4 L265.8 511.4 L266.3 511.4 L266.8 511.4 L267.3 511.4 L267.8 511.4 L268.3 511.4 L268.8 511.4 L269.3 511.4 L269.8 511.4 L270.3 511.4 L270.8 511.4 L271.3 511.4 L271.8 511.4 L272.3 511.4 L272.8 511.4 L273.3 511.4 L273.8 511.4 L274.3 511.4 L274.8 511.4 L275.3 511.4 L275.8 511.4 L276.3 511.4 L276.8 511.4 L277.3 511.4 L277.8 511.4 L278.3 511.4 L278.8 511.4 L279.3 511.4 L279.8 511.4 L280.3 511.4 L280.8 511.4 L281.3 511.4 L281.8 511.4 L282.3 511.4 L282.8 511.4 L283.3 511.4 L283.8 511.4 L284.3 511.4 L284.8 511.4 L285.3 511.4 L285.8 511.4 L286.3 511.4 L286.8 511.4 L287.3 511.4 L287.8 511.4 L288.3 511.4 L288.8 511.4 L289.3 511.4 L289.8 511.4 L290.3 511.4 L290.8 511.4 L291.3 511.4 L291.8 511.4 L292.3 511.4 L292.8 511.4 L293.3 511.4 L293.8 511.4 L294.3 511.4 L294.8 511.4 L295.3 511.4 L295.8 511.4 L296.3 511.4 L296.8 511.4 L297.3 511.4 L297.8 511.4 L298.3 511.4 L298.8 511.4 L299.3 511.4 L299.8 511.4 L300.3 511.4 L300.8 511.4 L301.3 511.4 L301.8 511.4 L302.3 511.4 L302.8 511.4 L303.3 511.4 L303.8 511.4 L304.3 511.4 L304.8 511.4 L305.3 511.4 L305.8 511.4 L306.3 511.4 L306.8 511.4 L307.3 511.4 L307.8 511.4 L308.3 511.4 L308.8 511.4 L309.3 511.4 L309.8 511.4 L310.3 511.4 L310.8 511.4 L311.3 511.4 L311.8 511.4 L312.3 511.4 L312.8 511.4 L313.3 511.4 L313.8 511.4 L314.3 511.4 L314.8 511.4 L315.3 511.4 L315.8 511.4 L316.3 511.4 L316.8 511.4 L317.3 511.4 L317.8 511.4 L318.3 511.4" stroke="#008080" stroke-width="2.0" fill="none" stroke-linejoin="round"/>
<path d="M58.3 511.4 L58.8 511.4 L59.3 511.4 L59.8 511.4 L60.3 511.4 L60.8 511.4 L61.3 511.4 L61.8 511.4 L62.3 511.4 L62.8 511.4 L63.3 511.4 L63.8 511.4 L64.3 511.4 L64.8 511.4 L65.3 511.4 L65.8 511.4 L66.3 511.4 L66.8 511.4 L67.3 511.4 L67.8 511.4 L68.3 511.4 L68.8 511.4 L69.3 511.4 L69.8 511.4 L70.3 511.4 L70.8 511.4 L71.3 511.4 L71.8 511.4 L72.3 511.4 L72.8 511.4 L73.3 511.4 L73.8 511.4 L74.3 511.4 L74.8 511.4 L75.3 511.4 L75.8 511.4 L76.3 511.4 L76.8 511.4 L77.3 511.4 L77.8 511.4 L78.3 511.4 L78.8 511.4 L79.3 511.4 L79.8 511.4 L80.3 511.4 L80.8 511.4 L81.3 511.4 L81.8 511.4 L82.3 511.4 L82.8 511.4 L83.3 511.4 L83.8 511.4 L84.3 511.4 L84.8 511.4 L85.3 511.4 L85.8 511.4 L86.3 511.4 L86.8 511.4 L87.3 511.4 L87.8 511.4 L88.3 511.4 L88.8 511.4 L89.3 511.4 L89.8 511.4 L90.3 511.4 L90.8 511.4 L91.3 511.4 L91.8 511.4 L92.3 511.4 L92.8 511.4 L93.3 511.4 L93.8 511.4 L94.3 511.4 L94.8 511.4 L95.3 511.4 L95.8 511.4 L96.3 511.4 L96.8 511.4 L97.3 511.4 L97.8 511.4 L98.3 511.4 L98.8 511.4 L99.3 511.4 L99.8 511.4 L100.3 511.4 L100.8 511.4 L101.3 511.4 L101.8 511.4 L102.3 511.4 L102.8 511.4 L103.3 511.3 L103.8 511.3 L104.3 511.3 L104.8 511.3 L105.3 511.3 L105.8 511.3 L106.3 511.3 L106.8 511.3 L107.3 511.2 L107.8 511.2 L108.3 511.2 L108.8 511.2 L109.3 511.2 L109.8 511.1 L110.3 511.1 L110.8 511.1 L111.3 511.0 L111.8 511.0 L112.3 510.9 L112.8 510.9 L113.3 510.8 L113.8 510.7 L114.3 510.7 L114.8 510.6 L115.3 510.5 L115.8 510.4 L116.3 510.3 L116.8 510.2 L117.3 510.0 L117.8 509.9 L118.3 509.7 L118.8 509.6 L119.3 509.4 L119.8 509.2 L120.3 509.0 L120.8 508.8 L121.3 508.5 L121.8 508.3 L122.3 508.0 L122.8 507.7 L123.3 507.4 L123.8 507.0 L124.3 506.6 L124.8 506.3 L125.3 505.8 L125.8 505.4 L126.3 504.9 L126.8 504.4 L127.3 503.9 L127.8 503.3 L128.3 502.7 L128.8 502.1 L129.3 501.4 L129.8 500.8 L130.3 500.0 L130.8 499.3 L131.3 498.5 L131.8 497.7 L132.3 496.8 L132.8 495.9 L133.3 495.0 L133.8 494.0 L134.3 493.0 L134.8 492.0 L135.3 490.9 L135.8 489.8 L136.3 488.7 L136.8 487.5 L137.3 486.3 L137.8 485.1 L138.3 483.8 L138.8 482.6 L139.3 481.3 L139.8 480.0 L140.3 478.7 L140.8 477.3 L141.3 476.0 L141.8 474.7 L142.3 473.3 L142.8 471.9 L143.3 470.6 L143.8 469.2 L144.3 467.9 L144.8 466.6 L145.3 465.3 L145.8 464.0 L146.3 462.7 L146.8 461.5 L147.3 460.3 L147.8 459.1 L148.3 458.0 L148.8 456.9 L149.3 455.8 L149.8 454.9 L150.3 453.9 L150.8 453.0 L151.3 452.2 L151.8 451.5 L152.3 450.8 L152.8 450.1 L153.3 449.6 L153.8 449.1 L154.3 448.7 L154.8 448.4 L155.3 448.1 L155.8 447.9 L156.3 447.8 L156.8 447.8 L157.3 447.9 L157.8 448.0 L158.3 448.2 L158.8 448.5 L159.3 448.9 L159.8 449.3 L160.3 449.8 L160.8 450.4 L161.3 451.0 L161.8 451.8 L162.3 452.5 L162.8 453.4 L163.3 454.3 L163.8 455.2 L164.3 456.3 L164.8 457.3 L165.3 458.4 L165.8 459.6 L166.3 460.8 L166.8 462.0 L167.3 463.2 L167.8 464.5 L168.3 465.8 L168.8 467.1 L169.3 468.4 L169.8 469.8 L170.3 471.1 L170.8 472.5 L171.3 473.8 L171.8 475.2 L172.3 476.5 L172.8 477.9 L173.3 479.2 L173.8 480.5 L174.3 481.8 L174.8 483.1 L175.3 484.3 L175.8 485.6 L176.3 486.8 L176.8 488.0 L177.3 489.1 L177.8 490.2 L178.3 491.3 L178.8 492.4 L179.3 493.4 L179.8 494.4 L180.3 495.3 L180.8 496.3 L181.3 497.1 L181.8 498.0 L182.3 498.8 L182.8 499.6 L183.3 500.3 L183.8 501.0 L184.3 501.7 L184.8 502.4 L185.3 503.0 L185.8 503.5 L186.3 504.1 L186.8 504.6 L187.3 505.1 L187.8 505.6 L188.3 506.0 L188.8 506.4 L189.3 506.8 L189.8 507.2 L190.3 507.5 L190.8 507.8 L191.3 508.1 L191.8 508.4 L192.3 508.6 L192.8 508.9 L193.3 509.1 L193.8 509.3 L194.3 509.5 L194.8 509.6 L195.3 509.8 L195.8 509.9 L196.3 510.1 L196.8 510.2 L197.3 510.3 L197.8 510.4 L198.3 510.5 L198.8 510.6 L199.3 510.7 L199.8 510.8 L200.3 510.8 L200.8 510.9 L201.3 510.9 L201.8 511.0 L202.3 511.0 L202.8 511.1 L203.3 511.1 L203.8 511.1 L204.3 511.2 L204.8 511.2 L205.3 511.2 L205.8 511.2 L206.3 511.3 L206.8 511.3 L207.3 511.3 L207.8 511.3 L208.3 511.3 L208.8 511.3 L209.3 511.3 L209.8 511.3 L210.3 511.3 L210.8 511.4 L211.3 511.4 L211.8 511.4 L212.3 511.4 L212.8 511.4 L213.3 511.4 L213.8 511.4 L214.3 511.4 L214.8 511.4 L215.3 511.4 L215.8 511.4 L216.3 511.4 L216.8 511.4 L217.3 511.4 L217.8 511.4 L218.3 511.4 L218.8 511.4 L219.3 511.4 L219.8 511.4 L220.3 511.4 L220.8 511.4 L221.3 511.4 L221.8 511.4 L222.3 511.4 L222.8 511.4 L223.3 511.4 L223.8 511.4 L224.3 511.4 L224.8 511.4 L225.3 511.4 L225.8 511.4 L226.3 511.4 L226.8 511.4 L227.3 511.4 L227.8 511.4 L228.3 511.4 L228.8 511.4 L229.3 511.4 L229.8 511.4 L230.3 511.4 L230.8 511.4 L231.3 511.4 L231.8 511.4 L232.3 511.4 L232.8 511.4 L233.3 511.4 L233.8 511.4 L234.3 511.4 L234.8 511.4 L235.3 511.4 L235.8 511.4 L236.3 511.4 L236.8 511.4 L237.3 511.4 L237.8 511.4 L238.3 511.4 L238.8 511.4 L239.3 511.4 L239.8 511.4 L240.3 511.4 L240.8 511.4 L241.3 511.4 L241.8 511.4 L242.3 511.4 L242.8 511.4 L243.3 511.4 L243.8 511.4 L244.3 511.4 L244.8 511.4 L245.3 511.4 L245.8 511.4 L246.3 511.4 L246.8 511.4 L247.3 511.4 L247.8 511.4 L248.3 511.4 L248.8 511.4 L249.3 511.4 L249.8 511.4 L250.3 511.4 L250.8 511.4 L251.3 511.4 L251.8 511.4 L252.3 511.4 L252.8 511.4 L253.3 511.4 L253.8 511.4 L254.3 511.4 L254.8 511.4 L255.3 511.4 L255.8 511.4 L256.3 511.4 L256.8 511.4 L257.3 511.4 L257.8 511.4 L258.3 511.4 L258.8 511.4 L259.3 511.4 L259.8 511.4 L260.3 511.4 L260.8 511.4 L261.3 511.4 L261.8 511.4 L262.3 511.4 L262.8 511.4 L263.3 511.4 L263.8 511.4 L264.3 511.4 L264.8 511.4 L265.3 511.4 L265.8 511.4 L266.3 511.4 L266.8 511.4 L267.3 511.4 L267.8 511.4 L268.3 511.4 L268.8 511.4 L269.3 511.4 L269.8 511.4 L270.3 511.4 L270.8 511.4 L271.3 511.4 L271.8 511.4 L272.3 511.4 L272.8 511.4 L273.3 511.4 L273.8 511.4 L274.3 511.4 L274.8 511.4 L275.3 511.4 L275.8 511.4 L276.3 511.4 L276.8 511.4 L277.3 511.4 L277.8 511.4 L278.3 511.4 L278.8 511.4 L279.3 511.4 L279.8 511.4 L280.3 511.4 L280.8 511.4 L281.3 511.4 L281.8 511.4 L282.3 511.4 L282.8 511.4 L283.3 511.4 L283.8 511.4 L284.3 511.4 L284.8 511.4 L285.3 511.4 L285.8 511.4 L286.3 511.4 L286.8 511.4 L287.3 511.4 L287.8 511.4 L288.3 511.4 L288.8 511.4 L289.3 511.4 L289.8 511.4 L290.3 511.4 L290.8 511.4 L291.3 511.4 L291.8 511.4 L292.3 511.4 L292.8 511.4 L293.3 511.4 L293.8 511.4 L294.3 511.4 L294.8 511.4 L295.3 511.4 L295.8 511.4 L296.3 511.4 L296.8 511.4 L297.3 511.4 L297.8 511.4 L298.3 511.4 L298.8 511.4 L299.3 511.4 L299.8 511.4 L300.3 511.4 L300.8 511.4 L301.3 511.4 L301.8 511.4 L302.3 511.4 L302.8 511.4 L303.3 511.4 L303.8 511.4 L304.3 511.4 L304.8 511.4 L305.3 511.4 L305.8 511.4 L306.3 511.4 L306.8 511.4 L307.3 511.4 L307.8 511.4 L308.3 511.4 L308.8 511.4 L309.3 511.4 L309.8 511.4 L310.3 511.4 L310.8 511.4 L311.3 511.4 L311.8 511.4 L312.3 511.4 L312.8 511.4 L313.3 511.4 L313.8 511.4 L314.3 511.4 L314.8 511.4 L315.3 511.4 L315.8 511.4 L316.3 511.4 L316.8 511.4 L317.3 511.4 L317.8 511.4 L318.3 511.4" stroke="#ff00ff" stroke-width="2.0" fill="none" stroke-linejoin="round"/>
<path d="M58.3 511.4 L58.8 511.4 L59.3 511.4 L59.8 511.4 L60.3 511.4 L60.8 511.4 L61.3 511.4 L61.8 511.4 L62.3 511.4 L62.8 511.4 L63.3 511.4 L63.8 511.4 L64.3 511.4 L64.8 511.4 L65.3 511.4 L65.8 511.4 L66.3 511.4 L66.8 511.4 L67.3 511.4 L67.8 511.4 L68.3 511.4 L68.8 511.4 L69.3 511.4 L69.8 511.4 L70.3 511.4 L70.8 511.4 L71.3 511.4 L71.8 511.4 L72.3 511.4 L72.8 511.4 L73.3 511.4 L73.8 511.4 L74.3 511.4 L74.8 511.4 L75.3 511.4 L75.8 511.4 L76.3 511.4 L76.8 511.4 L77.3 511.4 L77.8 511.4 L78.3 511.4 L78.8 511.4 L79.3 511.4 L79.8 511.4 L80.3 511.4 L80.8 511.4 L81.3 511.4 L81.8 511.4 L82.3 511.4 L82.8 511.4 L83.3 511.4 L83.8 511.4 L84.3 511.4 L84.8 511.4 L85.3 511.4 L85.8 511.4 L86.3 511.4 L86.8 511.4 L87.3 511.4 L87.8 511.4 L88.3 511.4 L88.8 511.4 L89.3 511.4 L89.8 511.4 L90.3 511.4 L90.8 511.4 L91.3 511.4 L91.8 511.4 L92.3 511.4 L92.8 511.4 L93.3 511.4 L93.8 511.4 L94.3 511.4 L94.8 511.4 L95.3 511.4 L95.8 511.4 L96.3 511.4 L96.8 511.4 L97.3 511.4 L97.8 511.4 L98.3 511.4 L98.8 511.4 L99.3 511.4 L99.8 511.4 L100.3 511.4 L100.8 511.4 L101.3 511.4 L101.8 511.4 L102.3 511.4 L102.8 511.4 L103.3 511.4 L103.8 511.4 L104.3 511.4 L104.8 511.4 L105.3 511.4 L105.8 511.4 L106.3 511.4 L106.8 511.4 L107.3 511.4 L107.8 511.4 L108.3 511.4 L108.8 511.4 L109.3 511.4 L109.8 511.4 L110.3 511.4 L110.8 511.4 L111.3 511.4 L111.8 511.4 L112.3 511.4 L112.8 511.4 L113.3 511.4 L113.8 511.4 L114.3 511.4 L114.8 511.4 L115.3 511.4 L115.8 511.4 L116.3 511.4 L116.8 511.4 L117.3 511.4 L117.8 511.4 L118.3 511.4 L118.8 511.4 L119.3 511.4 L119.8 511.4 L120.3 511.4 L120.8 511.4 L121.3 511.4 L121.8 511.3 L122.3 511.3 L122.8 511.3 L123.3 511.3 L123.8 511.3 L124.3 511.3 L124.8 511.3 L125.3 511.3 L125.8 511.3 L126.3 511.2 L126.8 511.2 L127.3 511.2 L127.8 511.2 L128.3 511.1 L128.8 511.1 L129.3 511.1 L129.8 511.0 L130.3 511.0 L130.8 510.9 L131.3 510.9 L131.8 510.8 L132.3 510.7 L132.8 510.6 L133.3 510.6 L133.8 510.5 L134.3 510.4 L134.8 510.3 L135.3 510.1 L135.8 510.0 L136.3 509.8 L136.8 509.7 L137.3 509.5 L137.8 509.3 L138.3 509.1 L138.8 508.9 L139.3 508.7 L139.8 508.4 L140.3 508.1 L140.8 507.8 L141.3 507.5 L141.8 507.2 L142.3 506.8 L142.8 506.4 L143.3 506.0 L143.8 505.5 L144.3 505.1 L144.8 504.6 L145.3 504.0 L145.8 503.5 L146.3 502.9 L146.8 502.3 L147.3 501.6 L147.8 500.9 L148.3 500.2 L148.8 499.4 L149.3 498.6 L149.8 497.8 L150.3 497.0 L150.8 496.1 L151.3 495.1 L151.8 494.2 L152.3 493.2 L152.8 492.2 L153.3 491.1 L153.8 490.0 L154.3 488.9 L154.8 487.8 L155.3 486.6 L155.8 485.5 L156.3 484.3 L156.8 483.1 L157.3 481.8 L157.8 480.6 L158.3 479.3 L158.8 478.1 L159.3 476.8 L159.8 475.6 L160.3 474.3 L160.8 473.1 L161.3 471.9 L161.8 470.7 L162.3 469.5 L162.8 468.3 L163.3 467.2 L163.8 466.0 L164.3 465.0 L164.8 463.9 L165.3 462.9 L165.8 462.0 L166.3 461.1 L166.8 460.3 L167.3 459.5 L167.8 458.7 L168.3 458.1 L168.8 457.5 L169.3 456.9 L169.8 456.5 L170.3 456.1 L170.8 455.7 L171.3 455.5 L171.8 455.3 L172.3 455.2 L172.8 455.2 L173.3 455.3 L173.8 455.4 L174.3 455.6 L174.8 455.9 L175.3 456.2 L175.8 456.6 L176.3 457.1 L176.8 457.7 L177.3 458.3 L177.8 459.0 L178.3 459.8 L178.8 460.6 L179.3 461.5 L179.8 462.4 L180.3 463.3 L180.8 464.3 L181.3 465.4 L181.8 466.5 L182.3 467.6 L182.8 468.8 L183.3 469.9 L183.8 471.1 L184.3 472.4 L184.8 473.6 L185.3 474.8 L185.8 476.1 L186.3 477.3 L186.8 478.6 L187.3 479.8 L187.8 481.1 L188.3 482.3 L188.8 483.5 L189.3 484.7 L189.8 485.9 L190.3 487.1 L190.8 488.3 L191.3 489.4 L191.8 490.5 L192.3 491.5 L192.8 492.6 L193.3 493.6 L193.8 494.6 L194.3 495.5 L194.8 496.4 L195.3 497.3 L195.8 498.1 L196.3 499.0 L196.8 499.7 L197.3 500.5 L197.8 501.2 L198.3 501.9 L198.8 502.5 L199.3 503.1 L199.8 503.7 L200.3 504.3 L200.8 504.8 L201.3 505.3 L201.8 505.7 L202.3 506.2 L202.8 506.6 L203.3 506.9 L203.8 507.3 L204.3 507.6 L204.8 507.9 L205.3 508.2 L205.8 508.5 L206.3 508.8 L206.8 509.0 L207.3 509.2 L207.8 509.4 L208.3 509.6 L208.8 509.8 L209.3 509.9 L209.8 510.0 L210.3 510.2 L210.8 510.3 L211.3 510.4 L211.8 510.5 L212.3 510.6 L212.8 510.7 L213.3 510.8 L213.8 510.8 L214.3 510.9 L214.8 510.9 L215.3 511.0 L215.8 511.0 L216.3 511.1 L216.8 511.1 L217.3 511.1 L217.8 511.2 L218.3 511.2 L218.8 511.2 L219.3 511.2 L219.8 511.3 L220.3 511.3 L220.8 511.3 L221.3 511.3 L221.8 511.3 L222.3 511.3 L222.8 511.3 L223.3 511.3 L223.8 511.4 L224.3 511.4 L224.8 511.4 L225.3 511.4 L225.8 511.4 L226.3 511.4 L226.8 511.4 L227.3 511.4 L227.8 511.4 L228.3 511.4 L228.8 511.4 L229.3 511.4 L229.8 511.4 L230.3 511.4 L230.8 511.4 L231.3 511.4 L231.8 511.4 L232.3 511.4 L232.8 511.4 L233.3 511.4 L233.8 511.4 L234.3 511.4 L234.8 511.4 L235.3 511.4 L235.8 511.4 L236.3 511.4 L236.8 511.4 L237.3 511.4 L237.8 511.4 L238.3 511.4 L238.8 511.4 L239.3 511.4 L239.8 511.4 L240.3 511.4 L240.8 511.4 L241.3 511.4 L241.8 511.4 L242.3 511.4 L242.8 511.4 L243.3 511.4 L243.8 511.4 L244.3 511.4 L244.8 511.4 L245.3 511.4 L245.8 511.4 L246.3 511.4 L246.8 511.4 L247.3 511.4 L247.8 511.4 L248.3 511.4 L248.8 511.4 L249.3 511.4 L249.8 511.4 L250.3 511.4 L250.8 511.4 L251.3 511.4 L251.8 511.4 L252.3 511.4 L252.8 511.4 L253.3 511.4 L253.8 511.4 L254.3 511.4 L254.8 511.4 L255.3 511.4 L255.8 511.4 L256.3 511.4 L256.8 511.4 L257.3 511.4 L257.8 511.4 L258.3 511.4 L258.8 511.4 L259.3 511.4 L259.8 511.4 L260.3 511.4 L260.8 511.4 L261.3 511.4 L261.8 511.4 L262.3 511.4 L262.8 511.4 L263.3 511.4 L263.8 511.4 L264.3 511.4 L264.8 511.4 L265.3 511.4 L265.8 511.4 L266.3 511.4 L266.8 511.4 L267.3 511.4 L267.8 511.4 L268.3 511.4 L268.8 511.4 L269.3 511.4 L269.8 511.4 L270.3 511.4 L270.8 511.4 L271.3 511.4 L271.8 511.4 L272.3 511.4 L272.8 511.4 L273.3 511.4 L273.8 511.4 L274.3 511.4 L274.8 511.4 L275.3 511.4 L275.8 511.4 L276.3 511.4 L276.8 511.4 L277.3 511.4 L277.8 511.4 L278.3 511.4 L278.8 511.4 L279.3 511.4 L279.8 511.4 L280.3 511.4 L280.8 511.4 L281.3 511.4 L281.8 511.4 L282.3 511.4 L282.8 511.4 L283.3 511.4 L283.8 511.4 L284.3 511.4 L284.8 511.4 L285.3 511.4 L285.8 511.4 L286.3 511.4 L286.8 511.4 L287.3 511.4 L287.8 511.4 L288.3 511.4 L288.8 511.4 L289.3 511.4 L289.8 511.4 L290.3 511.4 L290.8 511.4 L291.3 511.4 L291.8 511.4 L292.3 511.4 L292.8 511.4 L293.3 511.4 L293.8 511.4 L294.3 511.4 L294.8 511.4 L295.3 511.4 L295.8 511.4 L296.3 511.4 L296.8 511.4 L297.3 511.4 L297.8 511.4 L298.3 511.4 L298.8 511.4 L299.3 511.4 L299.8 511.4 L300.3 511.4 L300.8 511.4 L301.3 511.4 L301.8 511.4 L302.3 511.4 L302.8 511.4 L303.3 511.4 L303.8 511.4 L304.3 511.4 L304.8 511.4 L305.3 511.4 L305.8 511.4 L306.3 511.4 L306.8 511.4 L307.3 511.4 L307.8 511.4 L308.3 511.4 L308.8 511.4 L309.3 511.4 L309.8 511.4 L310.3 511.4 L310.8 511.4 L311.3 511.4 L311.8 511.4 L312.3 511.4 L312.8 511.4 L313.3 511.4 L313.8 511.4 L314.3 511.4 L314.8 511.4 L315.3 511.4 L315.8 511.4 L316.3 511.4 L316.8 511.4 L317.3 511.4 L317.8 511.4 L318.3 511.4" stroke="#808000" stroke-width="2.0" fill="none" stroke-linejoin="round"/>
<path d="M58.3 511.4 L58.8 511.4 L59.3 511.4 L59.8 511.4 L60.3 511.4 L60.8 511.4 L61.3 511.4 L61.8 511.4 L62.3 511.4 L62.8 511.4 L63.3 511.4 L63.8 511.4 L64.3 511.4 L64.8 511.4 L65.3 511.4 L65.8 511.4 L66.3 511.4 L66.8 511.4 L67.3 511.4 L67.8 511.4 L68.3 511.4 L68.8 511.4 L69.3 511.4 L69.8 511.4 L70.3 511.4 L70.8 511.4 L71.3 511.4 L71.8 511.4 L72.3 511.4 L72.8 511.4 L73.3 511.4 L73.8 511.4 L74.3 511.4 L74.8 511.4 L75.3 511.4 L75.8 511.4 L76.3 511.4 L76.8 511.4 L77.3 511.4 L77.8 511.4 L78.3 511.4 L78.8 511.4 L79.3 511.4 L79.8 511.4 L80.3 511.4 L80.8 511.4 L81.3 511.4 L81.8 511.4 L82.3 511.4 L82.8 511.4 L83.3 511.4 L83.8 511.4 L84.3 511.4 L84.8 511.4 L85.3 511.4 L85.8 511.4 L86.3 511.4 L86.8 511.4 L87.3 511.4 L87.8 511.4 L88.3 511.4 L88.8 511.4 L89.3 511.4 L89.8 511.4 L90.3 511.4 L90.8 511.4 L91.3 511.4 L91.8 511.4 L92.3 511.4 L92.8 511.4 L93.3 511.4 L93.8 511.4 L94.3 511.4 L94.8 511.4 L95.3 511.4 L95.8 511.4 L96.3 511.4 L96.8 511.4 L97.3 511.4 L97.8 511.4 L98.3 511.4 L98.8 511.4 L99.3 511.4 L99.8 511.4 L100.3 511.4 L100.8 511.4 L101.3 511.4 L101.8 511.4 L102.3 511.4 L102.8 511.4 L103.3 511.4 L103.8 511.4 L104.3 511.4 L104.8 511.4 L105.3 511.4 L105.8 511.4 L106.3 511.4 L106.8 511.4 L107.3 511.4 L107.8 511.4 L108.3 511.4 L108.8 511.4 L109.3 511.4 L109.8 511.4 L110.3 511.4 L110.8 511.4 L111.3 511.4 L111.8 511.4 L112.3 511.4 L112.8 511.4 L113.3 511.4 L113.8 511.4 L114.3 511.4 L114.8 511.4 L115.3 511.4 L115.8 511.4 L116.3 511.4 L116.8 511.4 L117.3 511.4 L117.8 511.4 L118.3 511.4 L118.8 511.4 L119.3 511.4 L119.8 511.4 L120.3 511.4 L120.8 511.4 L121.3 511.4 L121.8 511.4 L122.3 511.4 L122.8 511.4 L123.3 511.4 L123.8 511.4 L124.3 511.4 L124.8 511.4 L125.3 511.4 L125.8 511.4 L126.3 511.4 L126.8 511.4 L127.3 511.4 L127.8 511.4 L128.3 511.4 L128.8 511.4 L129.3 511.4 L129.8 511.4 L130.3 511.4 L130.8 511.4 L131.3 511.4 L131.8 511.4 L132.3 511.4 L132.8 511.4 L133.3 511.4 L133.8 511.4 L134.3 511.4 L134.8 511.4 L135.3 511.4 L135.8 511.4 L136.3 511.4 L136.8 511.4 L137.3 511.4 L137.8 511.4 L138.3 511.4 L138.8 511.4 L139.3 511.4 L139.8 511.4 L140.3 511.4 L140.8 511.4 L141.3 511.4 L141.8 511.4 L142.3 511.4 L142.8 511.4 L143.3 511.4 L143.8 511.4 L144.3 511.4 L144.8 511.4 L145.3 511.4 L145.8 511.4 L146.3 511.4 L146.8 511.4 L147.3 511.3 L147.8 511.3 L148.3 511.3 L148.8 511.3 L149.3 511.3 L149.8 511.3 L150.3 511.3 L150.8 511.2 L151.3 511.2 L151.8 511.2 L152.3 511.2 L152.8 511.1 L153.3 511.1 L153.8 511.1 L154.3 511.0 L154.8 511.0 L155.3 510.9 L155.8 510.8 L156.3 510.8 L156.8 510.7 L157.3 510.6 L157.8 510.5 L158.3 510.4 L158.8 510.2 L159.3 510.1 L159.8 509.9 L160.3 509.8 L160.8 509.6 L161.3 509.4 L161.8 509.2 L162.3 509.0 L162.8 508.7 L163.3 508.4 L163.8 508.1 L164.3 507.8 L164.8 507.5 L165.3 507.1 L165.8 506.7 L166.3 506.3 L166.8 505.9 L167.3 505.4 L167.8 504.9 L168.3 504.4 L168.8 503.9 L169.3 503.3 L169.8 502.7 L170.3 502.1 L170.8 501.4 L171.3 500.8 L171.8 500.1 L172.3 499.4 L172.8 498.6 L173.3 497.8 L173.8 497.1 L174.3 496.3 L174.8 495.4 L175.3 494.6 L175.8 493.8 L176.3 493.0 L176.8 492.1 L177.3 491.3 L177.8 490.4 L178.3 489.6 L178.8 488.8 L179.3 488.0 L179.8 487.2 L180.3 486.4 L180.8 485.6 L181.3 484.9 L181.8 484.2 L182.3 483.6 L182.8 483.0 L183.3 482.4 L183.8 481.9 L184.3 481.4 L184.8 481.0 L185.3 480.6 L185.8 480.2 L186.3 480.0 L186.8 479.8 L187.3 479.6 L187.8 479.5 L188.3 479.5 L188.8 479.5 L189.3 479.6 L189.8 479.8 L190.3 480.0 L190.8 480.2 L191.3 480.6 L191.8 481.0 L192.3 481.4 L192.8 481.9 L193.3 482.4 L193.8 483.0 L194.3 483.6 L194.8 484.2 L195.3 484.9 L195.8 485.6 L196.3 486.4 L196.8 487.2 L197.3 488.0 L197.8 488.8 L198.3 489.6 L198.8 490.4 L199.3 491.3 L199.8 492.1 L200.3 493.0 L200.8 493.8 L201.3 494.6 L201.8 495.4 L202.3 496.3 L202.8 497.1 L203.3 497.8 L203.8 498.6 L204.3 499.4 L204.8 500.1 L205.3 500.8 L205.8 501.4 L206.3 502.1 L206.8 502.7 L207.3 503.3 L207.8 503.9 L208.3 504.4 L208.8 504.9 L209.3 505.4 L209.8 505.9 L210.3 506.3 L210.8 506.7 L211.3 507.1 L211.8 507.5 L212.3 507.8 L212.8 508.1 L213.3 508.4 L213.8 508.7 L214.3 509.0 L214.8 509.2 L215.3 509.4 L215.8 509.6 L216.3 509.8 L216.8 509.9 L217.3 510.1 L217.8 510.2 L218.3 510.4 L218.8 510.5 L219.3 510.6 L219.8 510.7 L220.3 510.8 L220.8 510.8 L221.3 510.9 L221.8 511.0 L222.3 511.0 L222.8 511.1 L223.3 511.1 L223.8 511.1 L224.3 511.2 L224.8 511.2 L225.3 511.2 L225.8 511.2 L226.3 511.3 L226.8 511.3 L227.3 511.3 L227.8 511.3 L228.3 511.3 L228.8 511.3 L229.3 511.3 L229.8 511.4 L230.3 511.4 L230.8 511.4 L231.3 511.4 L231.8 511.4 L232.3 511.4 L232.8 511.4 L233.3 511.4 L233.8 511.4 L234.3 511.4 L234.8 511.4 L235.3 511.4 L235.8 511.4 L236.3 511.4 L236.8 511.4 L237.3 511.4 L237.8 511.4 L238.3 511.4 L238.8 511.4 L239.3 511.4 L239.8 511.4 L240.3 511.4 L240.8 511.4 L241.3 511.4 L241.8 511.4 L242.3 511.4 L242.8 511.4 L243.3 511.4 L243.8 511.4 L244.3 511.4 L244.8 511.4 L245.3 511.4 L245.8 511.4 L246.3 511.4 L246.8 511.4 L247.3 511.4 L247.8 511.4 L248.3 511.4 L248.8 511.4 L249.3 511.4 L249.8 511.4 L250.3 511.4 L250.8 511.4 L251.3 511.4 L251.8 511.4 L252.3 511.4 L252.8 511.4 L253.3 511.4 L253.8 511.4 L254.3 511.4 L254.8 511.4 L255.3 511.4 L255.8 511.4 L256.3 511.4 L256.8 511.4 L257.3 511.4 L257.8 511.4 L258.3 511.4 L258.8 511.4 L259.3 511.4 L259.8 511.4 L260.3 511.4 L260.8 511.4 L261.3 511.4 L261.8 511.4 L262.3 511.4 L262.8 511.4 L263.3 511.4 L263.8 511.4 L264.3 511.4 L264.8 511.4 L265.3 511.4 L265.8 511.4 L266.3 511.4 L266.8 511.4 L267.3 511.4 L267.8 511.4 L268.3 511.4 L268.8 511.4 L269.3 511.4 L269.8 511.4 L270.3 511.4 L270.8 511.4 L271.3 511.4 L271.8 511.4 L272.3 511.4 L272.8 511.4 L273.3 511.4 L273.8 511.4 L274.3 511.4 L274.8 511.4 L275.3 511.4 L275.8 511.4 L276.3 511.4 L276.8 511.4 L277.3 511.4 L277.8 511.4 L278.3 511.4 L278.8 511.4 L279.3 511.4 L279.8 511.4 L280.3 511.4 L280.8 511.4 L281.3 511.4 L281.8 511.4 L282.3 511.4 L282.8 511.4 L283.3 511.4 L283.8 511.4 L284.3 511.4 L284.8 511.4 L285.3 511.4 L285.8 511.4 L286.3 511.4 L286.8 511.4 L287.3 511.4 L287.8 511.4 L288.3 511.4 L288.8 511.4 L289.3 511.4 L289.8 511.4 L290.3 511.4 L290.8 511.4 L291.3 511.4 L291.8 511.4 L292.3 511.4 L292.8 511.4 L293.3 511.4 L293.8 511.4 L294.3 511.4 L294.8 511.4 L295.3 511.4 L295.8 511.4 L296.3 511.4 L296.8 511.4 L297.3 511.4 L297.8 511.4 L298.3 511.4 L298.8 511.4 L299.3 511.4 L299.8 511.4 L300.3 511.4 L300.8 511.4 L301.3 511.4 L301.8 511.4 L302.3 511.4 L302.8 511.4 L303.3 511.4 L303.8 511.4 L304.3 511.4 L304.8 511.4 L305.3 511.4 L305.8 511.4 L306.3 511.4 L306.8 511.4 L307.3 511.4 L307.8 511.4 L308.3 511.4 L308.8 511.4 L309.3 511.4 L309.8 511.4 L310.3 511.4 L310.8 511.4 L311.3 511.4 L311.8 511.4 L312.3 511.4 L312.8 511.4 L313.3 511.4 L313.8 511.4 L314.3 511.4 L314.8 511.4 L315.3 511.4 L315.8 511.4 L316.3 511.4 L316.8 511.4 L317.3 511.4 L317.8 511.4 L318.3 511.4" stroke="#000080" stroke-width="2.0" fill="none" stroke-linejoin="round"/>
<path d="M58.3 511.4 L58.8 511.4 L59.3 511.4 L59.8 511.4 L60.3 511.4 L60.8 511.4 L61.3 511.4 L61.8 511.4 L62.3 511.4 L62.8 511.4 L63.3 511.4 L63.8 511.4 L64.3 511.4 L64.8 511.4 L65.3 511.4 L65.8 511.4 L66.3 511.4 L66.8 511.4 L67.3 511.4 L67.8 511.4 L68.3 511.4 L68.8 511.4 L69.3 511.4 L69.8 511.4 L70.3 511.4 L70.8 511.4 L71.3 511.4 L71.8 511.4 L72.3 511.4 L72.8 511.4 L73.3 511.4 L73.8 511.4 L74.3 511.4 L74.8 511.4 L75.3 511.4 L75.8 511.4 L76.3 511.4 L76.8 511.4 L77.3 511.4 L77.8 511.4 L78.3 511.4 L78.8 511.4 L79.3 511.4 L79.8 511.4 L80.3 511.4 L80.8 511.4 L81.3 511.4 L81.8 511.4 L82.3 511.4 L82.8 511.4 L83.3 511.4 L83.8 511.4 L84.3 511.4 L84.8 511.4 L85.3 511.4 L85.8 511.4 L86.3 511.4 L86.8 511.4 L87.3 511.4 L87.8 511.4 L88.3 511.4 L88.8 511.4 L89.3 511.4 L89.8 511.4 L90.3 511.4 L90.8 511.4 L91.3 511.4 L91.8 511.4 L92.3 511.4 L92.8 511.4 L93.3 511.4 L93.8 511.4 L94.3 511.4 L94.8 511.4 L95.3 511.4 L95.8 511.4 L96.3 511.4 L96.8 511.4 L97.3 511.4 L97.8 511.4 L98.3 511.4 L98.8 511.4 L99.3 511.4 L99.8 511.4 L100.3 511.4 L100.8 511.4 L101.3 511.4 L101.8 511.4 L102.3 511.4 L102.8 511.4 L103.3 511.4 L103.8 511.4 L104.3 511.4 L104.8 511.4 L105.3 511.4 L105.8 511.4 L106.3 511.4 L106.8 511.4 L107.3 511.4 L107.8 511.4 L108.3 511.4 L108.8 511.4 L109.3 511.4 L109.8 511.4 L110.3 511.4 L110.8 511.4 L111.3 511.4 L111.8 511.4 L112.3 511.4 L112.8 511.4 L113.3 511.4 L113.8 511.4 L114.3 511.4 L114.8 511.4 L115.3 511.4 L115.8 511.4 L116.3 511.4 L116.8 511.4 L117.3 511.4 L117.8 511.4 L118.3 511.4 L118.8 511.4 L119.3 511.4 L119.8 511.4 L120.3 511.4 L120.8 511.4 L121.3 511.4 L121.8 511.4 L122.3 511.4 L122.8 511.4 L123.3 511.4 L123.8 511.4 L124.3 511.4 L124.8 511.4 L125.3 511.4 L125.8 511.4 L126.3 511.4 L126.8 511.4 L127.3 511.4 L127.8 511.4 L128.3 511.4 L128.8 511.4 L129.3 511.4 L129.8 511.4 L130.3 511.4 L130.8 511.4 L131.3 511.4 L131.8 511.4 L132.3 511.4 L132.8 511.4 L133.3 511.4 L133.8 511.4 L134.3 511.4 L134.8 511.4 L135.3 511.4 L135.8 511.4 L136.3 511.4 L136.8 511.4 L137.3 511.4 L137.8 511.4 L138.3 511.4 L138.8 511.4 L139.3 511.4 L139.8 511.4 L140.3 511.4 L140.8 511.4 L141.3 511.4 L141.8 511.4 L142.3 511.4 L142.8 511.4 L143.3 511.4 L143.8 511.4 L144.3 511.4 L144.8 511.4 L145.3 511.4 L145.8 511.4 L146.3 511.4 L146.8 511.4 L147.3 511.4 L147.8 511.4 L148.3 511.4 L148.8 511.4 L149.3 511.4 L149.8 511.4 L150.3 511.4 L150.8 511.4 L151.3 511.4 L151.8 511.4 L152.3 511.4 L152.8 511.4 L153.3 511.4 L153.8 511.4 L154.3 511.4 L154.8 511.4 L155.3 511.4 L155.8 511.4 L156.3 511.4 L156.8 511.4 L157.3 511.4 L157.8 511.4 L158.3 511.4 L158.8 511.4 L159.3 511.4 L159.8 511.4 L160.3 511.4 L160.8 511.4 L161.3 511.4 L161.8 511.4 L162.3 511.4 L162.8 511.4 L163.3 511.4 L163.8 511.4 L164.3 511.4 L164.8 511.4 L165.3 511.4 L165.8 511.4 L166.3 511.4 L166.8 511.3 L167.3 511.3 L167.8 511.3 L168.3 511.3 L168.8 511.3 L169.3 511.3 L169.8 511.2 L170.3 511.2 L170.8 511.2 L171.3 511.2 L171.8 511.1 L172.3 511.1 L172.8 511.0 L173.3 511.0 L173.8 510.9 L174.3 510.8 L174.8 510.7 L175.3 510.6 L175.8 510.5 L176.3 510.4 L176.8 510.3 L177.3 510.1 L177.8 510.0 L178.3 509.8 L178.8 509.6 L179.3 509.4 L179.8 509.2 L180.3 508.9 L180.8 508.6 L181.3 508.3 L181.8 508.0 L182.3 507.6 L182.8 507.3 L183.3 506.9 L183.8 506.4 L184.3 506.0 L184.8 505.5 L185.3 505.0 L185.8 504.5 L186.3 503.9 L186.8 503.3 L187.3 502.7 L187.8 502.1 L188.3 501.4 L188.8 500.8 L189.3 500.1 L189.8 499.4 L190.3 498.7 L190.8 497.9 L191.3 497.2 L191.8 496.5 L192.3 495.8 L192.8 495.1 L193.3 494.3 L193.8 493.7 L194.3 493.0 L194.8 492.3 L195.3 491.7 L195.8 491.1 L196.3 490.5 L196.8 490.0 L197.3 489.5 L197.8 489.1 L198.3 488.7 L198.8 488.4 L199.3 488.1 L199.8 487.8 L200.3 487.7 L200.8 487.6 L201.3 487.5 L201.8 487.5 L202.3 487.6 L202.8 487.7 L203.3 487.9 L203.8 488.1 L204.3 488.4 L204.8 488.8 L205.3 489.2 L205.8 489.6 L206.3 490.1 L206.8 490.6 L207.3 491.2 L207.8 491.8 L208.3 492.5 L208.8 493.1 L209.3 493.8 L209.8 494.5 L210.3 495.2 L210.8 495.9 L211.3 496.6 L211.8 497.4 L212.3 498.1 L212.8 498.8 L213.3 499.5 L213.8 500.2 L214.3 500.9 L214.8 501.6 L215.3 502.2 L215.8 502.8 L216.3 503.4 L216.8 504.0 L217.3 504.6 L217.8 505.1 L218.3 505.6 L218.8 506.1 L219.3 506.5 L219.8 507.0 L220.3 507.3 L220.8 507.7 L221.3 508.1 L221.8 508.4 L222.3 508.7 L222.8 508.9 L223.3 509.2 L223.8 509.4 L224.3 509.6 L224.8 509.8 L225.3 510.0 L225.8 510.2 L226.3 510.3 L226.8 510.4 L227.3 510.6 L227.8 510.7 L228.3 510.8 L228.8 510.8 L229.3 510.9 L229.8 511.0 L230.3 511.0 L230.8 511.1 L231.3 511.1 L231.8 511.2 L232.3 511.2 L232.8 511.2 L233.3 511.3 L233.8 511.3 L234.3 511.3 L234.8 511.3 L235.3 511.3 L235.8 511.3 L236.3 511.3 L236.8 511.4 L237.3 511.4 L237.8 511.4 L238.3 511.4 L238.8 511.4 L239.3 511.4 L239.8 511.4 L240.3 511.4 L240.8 511.4 L241.3 511.4 L241.8 511.4 L242.3 511.4 L242.8 511.4 L243.3 511.4 L243.8 511.4 L244.3 511.4 L244.8 511.4 L245.3 511.4 L245.8 511.4 L246.3 511.4 L246.8 511.4 L247.3 511.4 L247.8 511.4 L248.3 511.4 L248.8 511.4 L249.3 511.4 L249.8 511.4 L250.3 511.4 L250.8 511.4 L251.3 511.4 L251.8 511.4 L252.3 511.4 L252.8 511.4 L253.3 511.4 L253.8 511.4 L254.3 511.4 L254.8 511.4 L255.3 511.4 L255.8 511.4 L256.3 511.4 L256.8 511.4 L257.3 511.4 L257.8 511.4 L258.3 511.4 L258.8 511.4 L259.3 511.4 L259.8 511.4 L260.3 511.4 L260.8 511.4 L261.3 511.4 L261.8 511.4 L262.3 511.4 L262.8 511.4 L263.3 511.4 L263.8 511.4 L264.3 511.4 L264.8 511.4 L265.3 511.4 L265.8 511.4 L266.3 511.4 L266.8 511.4 L267.3 511.4 L267.8 511.4 L268.3 511.4 L268.8 511.4 L269.3 511.4 L269.8 511.4 L270.3 511.4 L270.8 511.4 L271.3 511.4 L271.8 511.4 L272.3 511.4 L272.8 511.4 L273.3 511.4 L273.8 511.4 L274.3 511.4 L274.8 511.4 L275.3 511.4 L275.8 511.4 L276.3 511.4 L276.8 511.4 L277.3 511.4 L277.8 511.4 L278.3 511.4 L278.8 511.4 L279.3 511.4 L279.8 511.4 L280.3 511.4 L280.8 511.4 L281.3 511.4 L281.8 511.4 L282.3 511.4 L282.8 511.4 L283.3 511.4 L283.8 511.4 L284.3 511.4 L284.8 511.4 L285.3 511.4 L285.8 511.4 L286.3 511.4 L286.8 511.4 L287.3 511.4 L287.8 511.4 L288.3 511.4 L288.8 511.4 L289.3 511.4 L289.8 511.4 L290.3 511.4 L290.8 511.4 L291.3 511.4 L291.8 511.4 L292.3 511.4 L292.8 511.4 L293.3 511.4 L293.8 511.4 L294.3 511.4 L294.8 511.4 L295.3 511.4 L295.8 511.4 L296.3 511.4 L296.8 511.4 L297.3 511.4 L297.8 511.4 L298.3 511.4 L298.8 511.4 L299.3 511.4 L299.8 511.4 L300.3 511.4 L300.8 511.4 L301.3 511.4 L301.8 511.4 L302.3 511.4 L302.8 511.4 L303.3 511.4 L303.8 511.4 L304.3 511.4 L304.8 511.4 L305.3 511.4 L305.8 511.4 L306.3 511.4 L306.8 511.4 L307.3 511.4 L307.8 511.4 L308.3 511.4 L308.8 511.4 L309.3 511.4 L309.8 511.4 L310.3 511.4 L310.8 511.4 L311.3 511.4 L311.8 511.4 L312.3 511.4 L312.8 511.4 L313.3 511.4 L313.8 511.4 L314.3 511.4 L314.8 511.4 L315.3 511.4 L315.8 511.4 L316.3 511.4 L316.8 511.4 L317.3 511.4 L317.8 511.4 L318.3 511.4" stroke="#800000" stroke-width="2.0" fill="none" stroke-linejoin="round"/>
<rect x="408.60" y="326.10" width="259.20" height="215.80" fill="none" stroke="#000" stroke-width="2.2"/>
<path d="M468.42 542.90V548.40M568.12 542.90V548.40M667.82 542.90V548.40M418.57 542.90V546.40M518.27 542.90V546.40M617.97 542.90V546.40" stroke="#000" stroke-width="1.8" fill="none"/>
<text transform="translate(454.44,562.70) scale(1.1388,1)" font-size="14.77" fill="#000">395</text>
<text transform="translate(554.27,562.70) scale(1.1259,1)" font-size="14.98" fill="#000">400</text>
<text transform="translate(653.97,562.70) scale(1.1173,1)" font-size="14.98" fill="#000">405</text>
<text transform="translate(438.96,584.00) scale(1.1160,1)" font-size="20.51" fill="#000">Binding Energy (eV)</text>
<text transform="translate(389.40,511.58) rotate(-90) scale(1.0363,1)" font-size="22.55" fill="#000">Intensity (a.u.)</text>
<text transform="translate(630.43,346.80) scale(0.9928,1)" font-size="17.45" fill="#000">N 1s</text>
<text transform="translate(541.59,360.10) scale(1.1986,1)" font-size="14.84" fill="#0000ff">-NH-</text>
<text transform="translate(540.82,380.50) scale(1.0756,1)" font-size="15.63" fill="#0000ff">399.4</text>
<text transform="translate(485.65,427.00) scale(1.0354,1)" font-size="17.02" fill="#808000">=N-</text>
<text transform="translate(480.62,448.20) scale(1.0285,1)" font-size="16.34" fill="#808000">397.3</text>
<text transform="translate(601.73,416.00) scale(0.9784,1)" font-size="17.75" fill="#ff00ff">N</text>
<text transform="translate(614.35,408.28) scale(1.1027,1)" font-size="15.96" fill="#ff00ff">+</text>
<text transform="translate(599.77,436.00) scale(0.8808,1)" font-size="17.75" fill="#ff00ff">401</text>
<path d="M409.6 510.8 L410.1 510.8 L410.6 510.8 L411.1 510.8 L411.6 510.8 L412.1 510.8 L412.6 510.8 L413.1 510.8 L413.6 510.8 L414.1 510.8 L414.6 510.8 L415.1 510.8 L415.6 510.8 L416.1 510.8 L416.6 510.8 L417.1 510.8 L417.6 510.8 L418.1 510.8 L418.6 510.8 L419.1 510.8 L419.6 510.8 L420.1 510.8 L420.6 510.8 L421.1 510.8 L421.6 510.8 L422.1 510.8 L422.6 510.8 L423.1 510.8 L423.6 510.8 L424.1 510.8 L424.6 510.8 L425.1 510.8 L425.6 510.8 L426.1 510.8 L426.6 510.8 L427.1 510.8 L427.6 510.8 L428.1 510.8 L428.6 510.8 L429.1 510.8 L429.6 510.8 L430.1 510.8 L430.6 510.8 L431.1 510.8 L431.6 510.8 L432.1 510.8 L432.6 510.8 L433.1 510.8 L433.6 510.8 L434.1 510.8 L434.6 510.8 L435.1 510.8 L435.6 510.8 L436.1 510.8 L436.6 510.8 L437.1 510.8 L437.6 510.8 L438.1 510.8 L438.6 510.8 L439.1 510.8 L439.6 510.8 L440.1 510.8 L440.6 510.8 L441.1 510.8 L441.6 510.8 L442.1 510.8 L442.6 510.8 L443.1 510.8 L443.6 510.8 L444.1 510.8 L444.6 510.8 L445.1 510.8 L445.6 510.8 L446.1 510.7 L446.6 510.7 L447.1 510.7 L447.6 510.7 L448.1 510.7 L448.6 510.7 L449.1 510.7 L449.6 510.7 L450.1 510.7 L450.6 510.7 L451.1 510.7 L451.6 510.7 L452.1 510.6 L452.6 510.6 L453.1 510.6 L453.6 510.6 L454.1 510.6 L454.6 510.5 L455.1 510.5 L455.6 510.5 L456.1 510.5 L456.6 510.4 L457.1 510.4 L457.6 510.4 L458.1 510.3 L458.6 510.3 L459.1 510.3 L459.6 510.2 L460.1 510.2 L460.6 510.1 L461.1 510.1 L461.6 510.0 L462.1 509.9 L462.6 509.9 L463.1 509.8 L463.6 509.7 L464.1 509.6 L464.6 509.5 L465.1 509.4 L465.6 509.3 L466.1 509.2 L466.6 509.1 L467.1 509.0 L467.6 508.9 L468.1 508.7 L468.6 508.6 L469.1 508.4 L469.6 508.3 L470.1 508.1 L470.6 507.9 L471.1 507.7 L471.6 507.5 L472.1 507.3 L472.6 507.1 L473.1 506.9 L473.6 506.6 L474.1 506.4 L474.6 506.1 L475.1 505.8 L475.6 505.5 L476.1 505.2 L476.6 504.9 L477.1 504.5 L477.6 504.2 L478.1 503.8 L478.6 503.4 L479.1 503.0 L479.6 502.6 L480.1 502.2 L480.6 501.8 L481.1 501.3 L481.6 500.8 L482.1 500.3 L482.6 499.8 L483.1 499.3 L483.6 498.7 L484.1 498.2 L484.6 497.6 L485.1 497.0 L485.6 496.4 L486.1 495.7 L486.6 495.1 L487.1 494.4 L487.6 493.7 L488.1 493.0 L488.6 492.3 L489.1 491.6 L489.6 490.9 L490.1 490.1 L490.6 489.3 L491.1 488.5 L491.6 487.7 L492.1 486.9 L492.6 486.1 L493.1 485.3 L493.6 484.5 L494.1 483.6 L494.6 482.8 L495.1 481.9 L495.6 481.0 L496.1 480.2 L496.6 479.3 L497.1 478.4 L497.6 477.5 L498.1 476.7 L498.6 475.8 L499.1 474.9 L499.6 474.0 L500.1 473.2 L500.6 472.3 L501.1 471.5 L501.6 470.6 L502.1 469.8 L502.6 469.0 L503.1 468.2 L503.6 467.4 L504.1 466.6 L504.6 465.8 L505.1 465.1 L505.6 464.4 L506.1 463.7 L506.6 463.0 L507.1 462.3 L507.6 461.7 L508.1 461.1 L508.6 460.5 L509.1 459.9 L509.6 459.4 L510.1 458.8 L510.6 458.3 L511.1 457.9 L511.6 457.4 L512.1 457.0 L512.6 456.6 L513.1 456.3 L513.6 455.9 L514.1 455.6 L514.6 455.3 L515.1 455.1 L515.6 454.8 L516.1 454.6 L516.6 454.4 L517.1 454.2 L517.6 454.0 L518.1 453.9 L518.6 453.8 L519.1 453.6 L519.6 453.5 L520.1 453.4 L520.6 453.3 L521.1 453.2 L521.6 453.1 L522.1 453.0 L522.6 452.9 L523.1 452.8 L523.6 452.7 L524.1 452.5 L524.6 452.4 L525.1 452.2 L525.6 452.0 L526.1 451.8 L526.6 451.5 L527.1 451.2 L527.6 450.9 L528.1 450.5 L528.6 450.1 L529.1 449.7 L529.6 449.2 L530.1 448.6 L530.6 448.0 L531.1 447.4 L531.6 446.6 L532.1 445.9 L532.6 445.0 L533.1 444.2 L533.6 443.2 L534.1 442.2 L534.6 441.1 L535.1 440.0 L535.6 438.8 L536.1 437.6 L536.6 436.3 L537.1 434.9 L537.6 433.5 L538.1 432.0 L538.6 430.5 L539.1 428.9 L539.6 427.3 L540.1 425.6 L540.6 423.9 L541.1 422.2 L541.6 420.4 L542.1 418.6 L542.6 416.8 L543.1 415.0 L543.6 413.2 L544.1 411.4 L544.6 409.6 L545.1 407.7 L545.6 406.0 L546.1 404.2 L546.6 402.5 L547.1 400.8 L547.6 399.1 L548.1 397.5 L548.6 396.0 L549.1 394.5 L549.6 393.1 L550.1 391.7 L550.6 390.4 L551.1 389.2 L551.6 388.1 L552.1 387.1 L552.6 386.2 L553.1 385.4 L553.6 384.6 L554.1 384.0 L554.6 383.5 L555.1 383.1 L555.6 382.7 L556.1 382.5 L556.6 382.4 L557.1 382.4 L557.6 382.5 L558.1 382.7 L558.6 383.0 L559.1 383.4 L559.6 383.9 L560.1 384.4 L560.6 385.1 L561.1 385.8 L561.6 386.6 L562.1 387.5 L562.6 388.4 L563.1 389.4 L563.6 390.4 L564.1 391.5 L564.6 392.6 L565.1 393.7 L565.6 394.9 L566.1 396.1 L566.6 397.3 L567.1 398.5 L567.6 399.7 L568.1 400.9 L568.6 402.1 L569.1 403.3 L569.6 404.5 L570.1 405.6 L570.6 406.7 L571.1 407.8 L571.6 408.8 L572.1 409.8 L572.6 410.8 L573.1 411.7 L573.6 412.6 L574.1 413.4 L574.6 414.2 L575.1 414.9 L575.6 415.6 L576.1 416.2 L576.6 416.8 L577.1 417.3 L577.6 417.8 L578.1 418.3 L578.6 418.7 L579.1 419.0 L579.6 419.4 L580.1 419.7 L580.6 420.0 L581.1 420.2 L581.6 420.5 L582.1 420.7 L582.6 420.9 L583.1 421.1 L583.6 421.3 L584.1 421.5 L584.6 421.7 L585.1 421.9 L585.6 422.2 L586.1 422.4 L586.6 422.7 L587.1 423.0 L587.6 423.3 L588.1 423.7 L588.6 424.1 L589.1 424.5 L589.6 425.0 L590.1 425.5 L590.6 426.1 L591.1 426.7 L591.6 427.3 L592.1 428.0 L592.6 428.8 L593.1 429.6 L593.6 430.4 L594.1 431.4 L594.6 432.3 L595.1 433.3 L595.6 434.4 L596.1 435.5 L596.6 436.6 L597.1 437.8 L597.6 439.1 L598.1 440.4 L598.6 441.7 L599.1 443.0 L599.6 444.4" stroke="#0000ff" stroke-width="2.0" fill="none" stroke-linejoin="round"/>
<path d="M409.6 510.8 L410.1 510.8 L410.6 510.8 L411.1 510.8 L411.6 510.8 L412.1 510.8 L412.6 510.8 L413.1 510.8 L413.6 510.8 L414.1 510.8 L414.6 510.8 L415.1 510.8 L415.6 510.8 L416.1 510.8 L416.6 510.8 L417.1 510.8 L417.6 510.8 L418.1 510.8 L418.6 510.8 L419.1 510.8 L419.6 510.8 L420.1 510.8 L420.6 510.8 L421.1 510.8 L421.6 510.8 L422.1 510.8 L422.6 510.8 L423.1 510.8 L423.6 510.8 L424.1 510.8 L424.6 510.8 L425.1 510.8 L425.6 510.8 L426.1 510.8 L426.6 510.8 L427.1 510.8 L427.6 510.8 L428.1 510.8 L428.6 510.8 L429.1 510.8 L429.6 510.8 L430.1 510.8 L430.6 510.8 L431.1 510.8 L431.6 510.8 L432.1 510.8 L432.6 510.8 L433.1 510.8 L433.6 510.8 L434.1 510.8 L434.6 510.8 L435.1 510.8 L435.6 510.8 L436.1 510.8 L436.6 510.8 L437.1 510.8 L437.6 510.8 L438.1 510.8 L438.6 510.8 L439.1 510.8 L439.6 510.8 L440.1 510.8 L440.6 510.8 L441.1 510.8 L441.6 510.8 L442.1 510.8 L442.6 510.8 L443.1 510.8 L443.6 510.8 L444.1 510.8 L444.6 510.8 L445.1 510.8 L445.6 510.8 L446.1 510.7 L446.6 510.7 L447.1 510.7 L447.6 510.7 L448.1 510.7 L448.6 510.7 L449.1 510.7 L449.6 510.7 L450.1 510.7 L450.6 510.7 L451.1 510.7 L451.6 510.7 L452.1 510.6 L452.6 510.6 L453.1 510.6 L453.6 510.6 L454.1 510.6 L454.6 510.5 L455.1 510.5 L455.6 510.5 L456.1 510.5 L456.6 510.4 L457.1 510.4 L457.6 510.4 L458.1 510.3 L458.6 510.3 L459.1 510.3 L459.6 510.2 L460.1 510.2 L460.6 510.1 L461.1 510.1 L461.6 510.0 L462.1 509.9 L462.6 509.9 L463.1 509.8 L463.6 509.7 L464.1 509.6 L464.6 509.5 L465.1 509.4 L465.6 509.3 L466.1 509.2 L466.6 509.1 L467.1 509.0 L467.6 508.9 L468.1 508.7 L468.6 508.6 L469.1 508.4 L469.6 508.3 L470.1 508.1 L470.6 507.9 L471.1 507.7 L471.6 507.5 L472.1 507.3 L472.6 507.1 L473.1 506.9 L473.6 506.6 L474.1 506.4 L474.6 506.1 L475.1 505.8 L475.6 505.5 L476.1 505.2 L476.6 504.9 L477.1 504.5 L477.6 504.2 L478.1 503.8 L478.6 503.4 L479.1 503.0 L479.6 502.6 L480.1 502.2 L480.6 501.8 L481.1 501.3 L481.6 500.8 L482.1 500.3 L482.6 499.8 L483.1 499.3 L483.6 498.7 L484.1 498.2 L484.6 497.6 L485.1 497.0 L485.6 496.4 L486.1 495.7 L486.6 495.1 L487.1 494.4 L487.6 493.7 L488.1 493.0 L488.6 492.3 L489.1 491.6 L489.6 490.9 L490.1 490.1 L490.6 489.3 L491.1 488.5 L491.6 487.7 L492.1 486.9 L492.6 486.1 L493.1 485.3 L493.6 484.5 L494.1 483.6 L494.6 482.8 L495.1 481.9 L495.6 481.0 L496.1 480.2 L496.6 479.3 L497.1 478.4 L497.6 477.6 L498.1 476.7 L498.6 475.8 L499.1 474.9 L499.6 474.1 L500.1 473.2 L500.6 472.4 L501.1 471.5 L501.6 470.7 L502.1 469.9 L502.6 469.1 L503.1 468.3 L503.6 467.5 L504.1 466.7 L504.6 466.0 L505.1 465.3 L505.6 464.6 L506.1 463.9 L506.6 463.2 L507.1 462.6 L507.6 462.0 L508.1 461.4 L508.6 460.8 L509.1 460.3 L509.6 459.8 L510.1 459.4 L510.6 458.9 L511.1 458.6 L511.6 458.2 L512.1 457.9 L512.6 457.6 L513.1 457.3 L513.6 457.1 L514.1 456.9 L514.6 456.8 L515.1 456.7 L515.6 456.6 L516.1 456.6 L516.6 456.6 L517.1 456.7 L517.6 456.7 L518.1 456.9 L518.6 457.0 L519.1 457.2 L519.6 457.5 L520.1 457.8 L520.6 458.1 L521.1 458.4 L521.6 458.8 L522.1 459.2 L522.6 459.6 L523.1 460.1 L523.6 460.6 L524.1 461.2 L524.6 461.7 L525.1 462.3 L525.6 463.0 L526.1 463.6 L526.6 464.3 L527.1 465.0 L527.6 465.7 L528.1 466.4 L528.6 467.2 L529.1 468.0 L529.6 468.7 L530.1 469.5 L530.6 470.4 L531.1 471.2 L531.6 472.0 L532.1 472.9 L532.6 473.7 L533.1 474.6 L533.6 475.5 L534.1 476.3 L534.6 477.2 L535.1 478.1 L535.6 479.0 L536.1 479.8 L536.6 480.7 L537.1 481.6 L537.6 482.4 L538.1 483.3 L538.6 484.1 L539.1 485.0 L539.6 485.8 L540.1 486.6 L540.6 487.4 L541.1 488.2 L541.6 489.0 L542.1 489.8 L542.6 490.6 L543.1 491.3 L543.6 492.0 L544.1 492.8 L544.6 493.5 L545.1 494.1 L545.6 494.8 L546.1 495.5 L546.6 496.1 L547.1 496.7 L547.6 497.3 L548.1 497.9 L548.6 498.5 L549.1 499.1 L549.6 499.6 L550.1 500.1 L550.6 500.6 L551.1 501.1 L551.6 501.6 L552.1 502.0 L552.6 502.5 L553.1 502.9 L553.6 503.3 L554.1 503.7 L554.6 504.1 L555.1 504.4 L555.6 504.8 L556.1 505.1 L556.6 505.4 L557.1 505.7 L557.6 506.0 L558.1 506.3 L558.6 506.5 L559.1 506.8 L559.6 507.0 L560.1 507.2 L560.6 507.5 L561.1 507.7 L561.6 507.9 L562.1 508.0 L562.6 508.2 L563.1 508.4 L563.6 508.5 L564.1 508.7 L564.6 508.8 L565.1 509.0 L565.6 509.1 L566.1 509.2 L566.6 509.3 L567.1 509.4 L567.6 509.5 L568.1 509.6 L568.6 509.7 L569.1 509.8 L569.6 509.8 L570.1 509.9 L570.6 510.0 L571.1 510.0 L571.6 510.1 L572.1 510.1 L572.6 510.2 L573.1 510.2 L573.6 510.3 L574.1 510.3 L574.6 510.4 L575.1 510.4 L575.6 510.4 L576.1 510.5 L576.6 510.5 L577.1 510.5 L577.6 510.5 L578.1 510.6 L578.6 510.6 L579.1 510.6 L579.6 510.6 L580.1 510.6 L580.6 510.6 L581.1 510.7 L581.6 510.7 L582.1 510.7 L582.6 510.7 L583.1 510.7 L583.6 510.7 L584.1 510.7 L584.6 510.7 L585.1 510.7 L585.6 510.7 L586.1 510.7 L586.6 510.8 L587.1 510.8 L587.6 510.8 L588.1 510.8 L588.6 510.8 L589.1 510.8 L589.6 510.8 L590.1 510.8 L590.6 510.8 L591.1 510.8 L591.6 510.8 L592.1 510.8 L592.6 510.8 L593.1 510.8 L593.6 510.8 L594.1 510.8 L594.6 510.8 L595.1 510.8 L595.6 510.8 L596.1 510.8 L596.6 510.8 L597.1 510.8 L597.6 510.8 L598.1 510.8 L598.6 510.8 L599.1 510.8 L599.6 510.8 L600.1 510.8 L600.6 510.8 L601.1 510.8 L601.6 510.8 L602.1 510.8 L602.6 510.8 L603.1 510.8 L603.6 510.8 L604.1 510.8 L604.6 510.8 L605.1 510.8 L605.6 510.8 L606.1 510.8 L606.6 510.8 L607.1 510.8 L607.6 510.8 L608.1 510.8 L608.6 510.8 L609.1 510.8 L609.6 510.8 L610.1 510.8 L610.6 510.8 L611.1 510.8 L611.6 510.8 L612.1 510.8 L612.6 510.8 L613.1 510.8 L613.6 510.8 L614.1 510.8 L614.6 510.8 L615.1 510.8 L615.6 510.8 L616.1 510.8 L616.6 510.8 L617.1 510.8 L617.6 510.8 L618.1 510.8 L618.6 510.8 L619.1 510.8 L619.6 510.8 L620.1 510.8 L620.6 510.8 L621.1 510.8 L621.6 510.8 L622.1 510.8 L622.6 510.8 L623.1 510.8 L623.6 510.8 L624.1 510.8 L624.6 510.8 L625.1 510.8 L625.6 510.8 L626.1 510.8 L626.6 510.8 L627.1 510.8 L627.6 510.8 L628.1 510.8 L628.6 510.8 L629.1 510.8 L629.6 510.8 L630.1 510.8 L630.6 510.8 L631.1 510.8 L631.6 510.8 L632.1 510.8 L632.6 510.8 L633.1 510.8 L633.6 510.8 L634.1 510.8 L634.6 510.8 L635.1 510.8 L635.6 510.8 L636.1 510.8 L636.6 510.8 L637.1 510.8 L637.6 510.8 L638.1 510.8 L638.6 510.8 L639.1 510.8 L639.6 510.8 L640.1 510.8 L640.6 510.8 L641.1 510.8 L641.6 510.8 L642.1 510.8 L642.6 510.8 L643.1 510.8 L643.6 510.8 L644.1 510.8 L644.6 510.8 L645.1 510.8 L645.6 510.8 L646.1 510.8 L646.6 510.8 L647.1 510.8 L647.6 510.8 L648.1 510.8 L648.6 510.8 L649.1 510.8 L649.6 510.8 L650.1 510.8 L650.6 510.8 L651.1 510.8 L651.6 510.8 L652.1 510.8 L652.6 510.8 L653.1 510.8 L653.6 510.8 L654.1 510.8 L654.6 510.8 L655.1 510.8 L655.6 510.8 L656.1 510.8 L656.6 510.8 L657.1 510.8 L657.6 510.8 L658.1 510.8 L658.6 510.8 L659.1 510.8 L659.6 510.8 L660.1 510.8 L660.6 510.8 L661.1 510.8 L661.6 510.8 L662.1 510.8 L662.6 510.8 L663.1 510.8 L663.6 510.8 L664.1 510.8 L664.6 510.8 L665.1 510.8 L665.6 510.8 L666.1 510.8 L666.6 510.8" stroke="#808000" stroke-width="2.0" fill="none" stroke-linejoin="round"/>
<path d="M470.0 510.8 L470.5 510.8 L471.0 510.8 L471.5 510.8 L472.0 510.8 L472.5 510.8 L473.0 510.8 L473.5 510.8 L474.0 510.8 L474.5 510.8 L475.0 510.8 L475.5 510.8 L476.0 510.8 L476.5 510.8 L477.0 510.8 L477.5 510.8 L478.0 510.8 L478.5 510.8 L479.0 510.8 L479.5 510.8 L480.0 510.8 L480.5 510.8 L481.0 510.8 L481.5 510.8 L482.0 510.8 L482.5 510.8 L483.0 510.8 L483.5 510.8 L484.0 510.8 L484.5 510.8 L485.0 510.8 L485.5 510.8 L486.0 510.8 L486.5 510.8 L487.0 510.8 L487.5 510.8 L488.0 510.8 L488.5 510.8 L489.0 510.8 L489.5 510.8 L490.0 510.8 L490.5 510.8 L491.0 510.8 L491.5 510.8 L492.0 510.8 L492.5 510.8 L493.0 510.8 L493.5 510.8 L494.0 510.8 L494.5 510.8 L495.0 510.8 L495.5 510.8 L496.0 510.8 L496.5 510.8 L497.0 510.8 L497.5 510.8 L498.0 510.8 L498.5 510.8 L499.0 510.8 L499.5 510.8 L500.0 510.8 L500.5 510.8 L501.0 510.7 L501.5 510.7 L502.0 510.7 L502.5 510.7 L503.0 510.7 L503.5 510.7 L504.0 510.7 L504.5 510.7 L505.0 510.6 L505.5 510.6 L506.0 510.6 L506.5 510.6 L507.0 510.5 L507.5 510.5 L508.0 510.5 L508.5 510.4 L509.0 510.4 L509.5 510.3 L510.0 510.3 L510.5 510.2 L511.0 510.1 L511.5 510.1 L512.0 510.0 L512.5 509.9 L513.0 509.8 L513.5 509.6 L514.0 509.5 L514.5 509.4 L515.0 509.2 L515.5 509.0 L516.0 508.8 L516.5 508.6 L517.0 508.4 L517.5 508.2 L518.0 507.9 L518.5 507.6 L519.0 507.3 L519.5 506.9 L520.0 506.5 L520.5 506.1 L521.0 505.7 L521.5 505.2 L522.0 504.7 L522.5 504.2 L523.0 503.6 L523.5 503.0 L524.0 502.3 L524.5 501.6 L525.0 500.8 L525.5 500.0 L526.0 499.1 L526.5 498.2 L527.0 497.3 L527.5 496.2 L528.0 495.1 L528.5 494.0 L529.0 492.8 L529.5 491.5 L530.0 490.2 L530.5 488.8 L531.0 487.3 L531.5 485.8 L532.0 484.2 L532.5 482.5 L533.0 480.8 L533.5 479.0 L534.0 477.2 L534.5 475.3 L535.0 473.3 L535.5 471.2 L536.0 469.2 L536.5 467.0 L537.0 464.8 L537.5 462.6 L538.0 460.3 L538.5 457.9 L539.0 455.6 L539.5 453.2 L540.0 450.7 L540.5 448.3 L541.0 445.8 L541.5 443.3 L542.0 440.8 L542.5 438.3 L543.0 435.8 L543.5 433.3 L544.0 430.9 L544.5 428.5 L545.0 426.1 L545.5 423.7 L546.0 421.4 L546.5 419.2 L547.0 417.0 L547.5 414.9 L548.0 412.8 L548.5 410.9 L549.0 409.0 L549.5 407.3 L550.0 405.6 L550.5 404.0 L551.0 402.6 L551.5 401.3 L552.0 400.1 L552.5 399.0 L553.0 398.1 L553.5 397.3 L554.0 396.7 L554.5 396.2 L555.0 395.8 L555.5 395.6 L556.0 395.5 L556.5 395.6 L557.0 395.8 L557.5 396.2 L558.0 396.7 L558.5 397.3 L559.0 398.1 L559.5 399.0 L560.0 400.1 L560.5 401.3 L561.0 402.6 L561.5 404.0 L562.0 405.6 L562.5 407.3 L563.0 409.0 L563.5 410.9 L564.0 412.8 L564.5 414.9 L565.0 417.0 L565.5 419.2 L566.0 421.4 L566.5 423.7 L567.0 426.1 L567.5 428.5 L568.0 430.9 L568.5 433.3 L569.0 435.8 L569.5 438.3 L570.0 440.8 L570.5 443.3 L571.0 445.8 L571.5 448.3 L572.0 450.7 L572.5 453.2 L573.0 455.6 L573.5 457.9 L574.0 460.3 L574.5 462.6 L575.0 464.8 L575.5 467.0 L576.0 469.2 L576.5 471.2 L577.0 473.3 L577.5 475.3 L578.0 477.2 L578.5 479.0 L579.0 480.8 L579.5 482.5 L580.0 484.2 L580.5 485.8 L581.0 487.3 L581.5 488.8 L582.0 490.2 L582.5 491.5 L583.0 492.8 L583.5 494.0 L584.0 495.1 L584.5 496.2 L585.0 497.3 L585.5 498.2 L586.0 499.1 L586.5 500.0 L587.0 500.8 L587.5 501.6 L588.0 502.3 L588.5 503.0 L589.0 503.6 L589.5 504.2 L590.0 504.7 L590.5 505.2 L591.0 505.7 L591.5 506.1 L592.0 506.5 L592.5 506.9 L593.0 507.3 L593.5 507.6 L594.0 507.9 L594.5 508.2 L595.0 508.4 L595.5 508.6 L596.0 508.8 L596.5 509.0 L597.0 509.2 L597.5 509.4 L598.0 509.5 L598.5 509.6 L599.0 509.8 L599.5 509.9 L600.0 510.0 L600.5 510.1 L601.0 510.1 L601.5 510.2 L602.0 510.3 L602.5 510.3 L603.0 510.4 L603.5 510.4 L604.0 510.5 L604.5 510.5 L605.0 510.5 L605.5 510.6 L606.0 510.6" stroke="#008080" stroke-width="2.0" fill="none" stroke-linejoin="round"/>
<path d="M440.0 511.2 L440.5 511.2 L441.0 511.2 L441.5 511.2 L442.0 511.2 L442.5 511.2 L443.0 511.2 L443.5 511.2 L444.0 511.2 L444.5 511.2 L445.0 511.2 L445.5 511.2 L446.0 511.2 L446.5 511.2 L447.0 511.2 L447.5 511.2 L448.0 511.2 L448.5 511.2 L449.0 511.2 L449.5 511.2 L450.0 511.2 L450.5 511.2 L451.0 511.2 L451.5 511.2 L452.0 511.2 L452.5 511.2 L453.0 511.2 L453.5 511.2 L454.0 511.2 L454.5 511.2 L455.0 511.2 L455.5 511.2 L456.0 511.2 L456.5 511.2 L457.0 511.2 L457.5 511.2 L458.0 511.2 L458.5 511.2 L459.0 511.2 L459.5 511.2 L460.0 511.2 L460.5 511.2 L461.0 511.2 L461.5 511.2 L462.0 511.2 L462.5 511.2 L463.0 511.2 L463.5 511.2 L464.0 511.2 L464.5 511.2 L465.0 511.2 L465.5 511.2 L466.0 511.2 L466.5 511.2 L467.0 511.2 L467.5 511.2 L468.0 511.2 L468.5 511.2 L469.0 511.2 L469.5 511.2 L470.0 511.2 L470.5 511.2 L471.0 511.2 L471.5 511.2 L472.0 511.2 L472.5 511.2 L473.0 511.2 L473.5 511.2 L474.0 511.2 L474.5 511.2 L475.0 511.2 L475.5 511.2 L476.0 511.2 L476.5 511.2 L477.0 511.2 L477.5 511.2 L478.0 511.2 L478.5 511.2 L479.0 511.2 L479.5 511.2 L480.0 511.2 L480.5 511.2 L481.0 511.2 L481.5 511.2 L482.0 511.2 L482.5 511.2 L483.0 511.2 L483.5 511.2 L484.0 511.2 L484.5 511.2 L485.0 511.2 L485.5 511.2 L486.0 511.2 L486.5 511.2 L487.0 511.2 L487.5 511.2 L488.0 511.2 L488.5 511.2 L489.0 511.2 L489.5 511.2 L490.0 511.2 L490.5 511.2 L491.0 511.2 L491.5 511.2 L492.0 511.2 L492.5 511.2 L493.0 511.2 L493.5 511.2 L494.0 511.2 L494.5 511.2 L495.0 511.2 L495.5 511.2 L496.0 511.2 L496.5 511.2 L497.0 511.2 L497.5 511.2 L498.0 511.2 L498.5 511.2 L499.0 511.2 L499.5 511.2 L500.0 511.2 L500.5 511.2 L501.0 511.2 L501.5 511.2 L502.0 511.2 L502.5 511.2 L503.0 511.2 L503.5 511.2 L504.0 511.2 L504.5 511.2 L505.0 511.2 L505.5 511.2 L506.0 511.2 L506.5 511.2 L507.0 511.2 L507.5 511.2 L508.0 511.2 L508.5 511.2 L509.0 511.2 L509.5 511.2 L510.0 511.2 L510.5 511.2 L511.0 511.2 L511.5 511.2 L512.0 511.2 L512.5 511.2 L513.0 511.2 L513.5 511.2 L514.0 511.2 L514.5 511.2 L515.0 511.2 L515.5 511.2 L516.0 511.2 L516.5 511.2 L517.0 511.2 L517.5 511.2 L518.0 511.2 L518.5 511.2 L519.0 511.2 L519.5 511.2 L520.0 511.2 L520.5 511.2 L521.0 511.2 L521.5 511.2 L522.0 511.2 L522.5 511.2 L523.0 511.2 L523.5 511.2 L524.0 511.2 L524.5 511.2 L525.0 511.2 L525.5 511.2 L526.0 511.2 L526.5 511.2 L527.0 511.2 L527.5 511.2 L528.0 511.2 L528.5 511.2 L529.0 511.2 L529.5 511.2 L530.0 511.2 L530.5 511.1 L531.0 511.1 L531.5 511.1 L532.0 511.1 L532.5 511.1 L533.0 511.1 L533.5 511.1 L534.0 511.1 L534.5 511.1 L535.0 511.1 L535.5 511.0 L536.0 511.0 L536.5 511.0 L537.0 511.0 L537.5 510.9 L538.0 510.9 L538.5 510.9 L539.0 510.8 L539.5 510.8 L540.0 510.8 L540.5 510.7 L541.0 510.7 L541.5 510.6 L542.0 510.5 L542.5 510.5 L543.0 510.4 L543.5 510.3 L544.0 510.2 L544.5 510.1 L545.0 510.0 L545.5 509.9 L546.0 509.8 L546.5 509.7 L547.0 509.5 L547.5 509.4 L548.0 509.2 L548.5 509.0 L549.0 508.8 L549.5 508.6 L550.0 508.4 L550.5 508.1 L551.0 507.9 L551.5 507.6 L552.0 507.3 L552.5 507.0 L553.0 506.6 L553.5 506.2 L554.0 505.9 L554.5 505.4 L555.0 505.0 L555.5 504.5 L556.0 504.0 L556.5 503.5 L557.0 503.0 L557.5 502.4 L558.0 501.8 L558.5 501.1 L559.0 500.5 L559.5 499.8 L560.0 499.0 L560.5 498.2 L561.0 497.4 L561.5 496.6 L562.0 495.7 L562.5 494.8 L563.0 493.8 L563.5 492.8 L564.0 491.8 L564.5 490.7 L565.0 489.6 L565.5 488.5 L566.0 487.3 L566.5 486.1 L567.0 484.8 L567.5 483.5 L568.0 482.2 L568.5 480.9 L569.0 479.5 L569.5 478.1 L570.0 476.7 L570.5 475.3 L571.0 473.8 L571.5 472.3 L572.0 470.8 L572.5 469.3 L573.0 467.7 L573.5 466.2 L574.0 464.7 L574.5 463.1 L575.0 461.6 L575.5 460.0 L576.0 458.5 L576.5 456.9 L577.0 455.4 L577.5 453.9 L578.0 452.4 L578.5 451.0 L579.0 449.6 L579.5 448.2 L580.0 446.8 L580.5 445.5 L581.0 444.2 L581.5 443.0 L582.0 441.8 L582.5 440.7 L583.0 439.6 L583.5 438.6 L584.0 437.6 L584.5 436.7 L585.0 435.9 L585.5 435.2 L586.0 434.5 L586.5 433.9 L587.0 433.4 L587.5 432.9 L588.0 432.6 L588.5 432.3 L589.0 432.1 L589.5 431.9 L590.0 431.9 L590.5 431.9 L591.0 432.1 L591.5 432.3 L592.0 432.6 L592.5 432.9 L593.0 433.4 L593.5 433.9 L594.0 434.5 L594.5 435.2 L595.0 435.9 L595.5 436.7 L596.0 437.6 L596.5 438.6 L597.0 439.6 L597.5 440.7 L598.0 441.8 L598.5 443.0 L599.0 444.2 L599.5 445.5 L600.0 446.8 L600.5 448.2 L601.0 449.6 L601.5 451.0 L602.0 452.4 L602.5 453.9 L603.0 455.4 L603.5 456.9 L604.0 458.5 L604.5 460.0 L605.0 461.6 L605.5 463.1 L606.0 464.7 L606.5 466.2 L607.0 467.7 L607.5 469.3 L608.0 470.8 L608.5 472.3 L609.0 473.8 L609.5 475.3 L610.0 476.7 L610.5 478.1 L611.0 479.5 L611.5 480.9 L612.0 482.2 L612.5 483.5 L613.0 484.8 L613.5 486.1 L614.0 487.3 L614.5 488.5 L615.0 489.6 L615.5 490.7 L616.0 491.8 L616.5 492.8 L617.0 493.8 L617.5 494.8 L618.0 495.7 L618.5 496.6 L619.0 497.4 L619.5 498.2 L620.0 499.0 L620.5 499.8 L621.0 500.5 L621.5 501.1 L622.0 501.8 L622.5 502.4 L623.0 503.0 L623.5 503.5 L624.0 504.0 L624.5 504.5 L625.0 505.0 L625.5 505.4 L626.0 505.9 L626.5 506.2 L627.0 506.6 L627.5 507.0 L628.0 507.3 L628.5 507.6 L629.0 507.9 L629.5 508.1 L630.0 508.4 L630.5 508.6 L631.0 508.8 L631.5 509.0 L632.0 509.2 L632.5 509.4 L633.0 509.5 L633.5 509.7 L634.0 509.8 L634.5 509.9 L635.0 510.0 L635.5 510.1 L636.0 510.2 L636.5 510.3 L637.0 510.4 L637.5 510.5 L638.0 510.5 L638.5 510.6 L639.0 510.7 L639.5 510.7 L640.0 510.8 L640.5 510.8 L641.0 510.8 L641.5 510.9 L642.0 510.9 L642.5 510.9 L643.0 511.0" stroke="#ff00ff" stroke-width="2.0" fill="none" stroke-linejoin="round"/>
<path d="M560.0 507.2 L560.5 507.4 L561.0 507.6 L561.5 507.8 L562.0 508.0 L562.5 508.2 L563.0 508.3 L563.5 508.5 L564.0 508.7 L564.5 508.8 L565.0 508.9 L565.5 509.1 L566.0 509.2 L566.5 509.3 L567.0 509.4 L567.5 509.5 L568.0 509.6 L568.5 509.7 L569.0 509.7 L569.5 509.8 L570.0 509.9 L570.5 510.0 L571.0 510.0 L571.5 510.1 L572.0 510.1 L572.5 510.2 L573.0 510.2 L573.5 510.3 L574.0 510.3 L574.5 510.4 L575.0 510.4 L575.5 510.4 L576.0 510.5 L576.5 510.5 L577.0 510.5 L577.5 510.5 L578.0 510.6 L578.5 510.6 L579.0 510.6 L579.5 510.6 L580.0 510.6 L580.5 510.6 L581.0 510.7 L581.5 510.7 L582.0 510.7 L582.5 510.7 L583.0 510.7 L583.5 510.7 L584.0 510.7 L584.5 510.7 L585.0 510.7 L585.5 510.7 L586.0 510.7 L586.5 510.7 L587.0 510.8 L587.5 510.8 L588.0 510.8 L588.5 510.8 L589.0 510.8 L589.5 510.8 L590.0 510.8 L590.5 510.8 L591.0 510.8 L591.5 510.8 L592.0 510.8 L592.5 510.8 L593.0 510.8 L593.5 510.8 L594.0 510.8 L594.5 510.8 L595.0 510.8 L595.5 510.8 L596.0 510.8 L596.5 510.8 L597.0 510.8 L597.5 510.8 L598.0 510.8 L598.5 510.8 L599.0 510.8 L599.5 510.8 L600.0 510.8 L600.5 510.8 L601.0 510.8 L601.5 510.8 L602.0 510.8 L602.5 510.8 L603.0 510.8 L603.5 510.8 L604.0 510.8 L604.5 510.8 L605.0 510.8 L605.5 510.8 L606.0 510.8 L606.5 510.8 L607.0 510.8 L607.5 510.8 L608.0 510.8 L608.5 510.8 L609.0 510.8 L609.5 510.8 L610.0 510.8 L610.5 510.8 L611.0 510.8 L611.5 510.8 L612.0 510.8 L612.5 510.8 L613.0 510.8 L613.5 510.8 L614.0 510.8 L614.5 510.8 L615.0 510.8 L615.5 510.8 L616.0 510.8 L616.5 510.8 L617.0 510.8 L617.5 510.8 L618.0 510.8 L618.5 510.8 L619.0 510.8 L619.5 510.8 L620.0 510.8 L620.5 510.8 L621.0 510.8 L621.5 510.8 L622.0 510.8 L622.5 510.8 L623.0 510.8 L623.5 510.8 L624.0 510.8 L624.5 510.8 L625.0 510.8 L625.5 510.8 L626.0 510.8 L626.5 510.8 L627.0 510.8 L627.5 510.8 L628.0 510.8 L628.5 510.8 L629.0 510.8 L629.5 510.8 L630.0 510.8 L630.5 510.8 L631.0 510.8 L631.5 510.8 L632.0 510.8 L632.5 510.8 L633.0 510.8 L633.5 510.8 L634.0 510.8 L634.5 510.8 L635.0 510.8 L635.5 510.8 L636.0 510.8 L636.5 510.8 L637.0 510.8 L637.5 510.8 L638.0 510.8 L638.5 510.8 L639.0 510.8 L639.5 510.8 L640.0 510.8 L640.5 510.8 L641.0 510.8 L641.5 510.8 L642.0 510.8 L642.5 510.8 L643.0 510.8 L643.5 510.8 L644.0 510.8 L644.5 510.8 L645.0 510.8 L645.5 510.8 L646.0 510.8 L646.5 510.8 L647.0 510.8 L647.5 510.8 L648.0 510.8 L648.5 510.8 L649.0 510.8 L649.5 510.8 L650.0 510.8 L650.5 510.8 L651.0 510.8 L651.5 510.8 L652.0 510.8 L652.5 510.8 L653.0 510.8 L653.5 510.8 L654.0 510.8 L654.5 510.8 L655.0 510.8 L655.5 510.8 L656.0 510.8 L656.5 510.8 L657.0 510.8 L657.5 510.8 L658.0 510.8 L658.5 510.8 L659.0 510.8 L659.5 510.8 L660.0 510.8 L660.5 510.8 L661.0 510.8 L661.5 510.8 L662.0 510.8 L662.5 510.8 L663.0 510.8 L663.5 510.8 L664.0 510.8 L664.5 510.8 L665.0 510.8 L665.5 510.8 L666.0 510.8 L666.5 510.8" stroke="#808000" stroke-width="2.0" fill="none" stroke-linejoin="round"/>
<rect x="56.40" y="627.10" width="261.80" height="219.90" fill="none" stroke="#000" stroke-width="2.2"/>
<path d="M56.40 848.00V853.50M157.10 848.00V853.50M257.80 848.00V853.50M106.75 848.00V851.50M207.45 848.00V851.50M308.15 848.00V851.50" stroke="#000" stroke-width="1.8" fill="none"/>
<text transform="translate(42.19,870.10) scale(1.0263,1)" font-size="16.58" fill="#000">525</text>
<text transform="translate(142.89,870.10) scale(1.0344,1)" font-size="16.58" fill="#000">530</text>
<text transform="translate(243.59,870.10) scale(1.0263,1)" font-size="16.58" fill="#000">535</text>
<text transform="translate(77.44,890.90) scale(1.0338,1)" font-size="22.40" fill="#000">Binding energy (eV)</text>
<text transform="translate(34.40,824.90) rotate(-90) scale(0.9807,1)" font-size="24.15" fill="#000">Intensity (a.u.)</text>
<text transform="translate(271.60,646.60) scale(0.9781,1)" font-size="17.78" fill="#000">O 1s</text>
<text transform="translate(181.12,652.20) scale(1.0266,1)" font-size="17.02" fill="#0000ff">Mn-OH</text>
<text transform="translate(192.30,671.60) scale(0.9858,1)" font-size="17.02" fill="#0000ff">532</text>
<text transform="translate(100.02,701.90) scale(1.0351,1)" font-size="16.87" fill="#ff00ff">Mn-O-Mn</text>
<text transform="translate(131.11,725.30) scale(0.9526,1)" font-size="17.02" fill="#ff00ff">531</text>
<text transform="translate(240.51,722.70) scale(0.9968,1)" font-size="17.20" fill="#808000">C=O</text>
<text transform="translate(236.69,747.00) scale(1.0077,1)" font-size="17.02" fill="#808000">533.6</text>
<path d="M160.0 810.2 L160.5 808.5 L161.0 806.7 L161.5 804.9 L162.0 803.0 L162.5 801.0 L163.0 798.9 L163.5 796.7 L164.0 794.5 L164.5 792.2 L165.0 789.8 L165.5 787.4 L166.0 784.9 L166.5 782.4 L167.0 779.8 L167.5 777.1 L168.0 774.4 L168.5 771.7 L169.0 769.0 L169.5 766.2 L170.0 763.4 L170.5 760.6 L171.0 757.8 L171.5 755.1 L172.0 752.3 L172.5 749.6 L173.0 746.8 L173.5 744.2 L174.0 741.5 L174.5 739.0 L175.0 736.4 L175.5 734.0 L176.0 731.6 L176.5 729.3 L177.0 727.0 L177.5 724.8 L178.0 722.8 L178.5 720.8 L179.0 718.8 L179.5 717.0 L180.0 715.3 L180.5 713.6 L181.0 712.1 L181.5 710.6 L182.0 709.2 L182.5 707.9 L183.0 706.7 L183.5 705.5 L184.0 704.4 L184.5 703.3 L185.0 702.4 L185.5 701.4 L186.0 700.5 L186.5 699.7 L187.0 698.9 L187.5 698.1 L188.0 697.3 L188.5 696.6 L189.0 695.8 L189.5 695.1 L190.0 694.4 L190.5 693.7 L191.0 693.0 L191.5 692.2 L192.0 691.5 L192.5 690.8 L193.0 690.1 L193.5 689.3 L194.0 688.6 L194.5 687.9 L195.0 687.1 L195.5 686.4 L196.0 685.7 L196.5 685.0 L197.0 684.4 L197.5 683.7 L198.0 683.2 L198.5 682.6 L199.0 682.1 L199.5 681.6 L200.0 681.2 L200.5 680.9 L201.0 680.6 L201.5 680.5 L202.0 680.4 L202.5 680.3 L203.0 680.4 L203.5 680.6 L204.0 680.8 L204.5 681.2 L205.0 681.6 L205.5 682.2 L206.0 682.8 L206.5 683.5 L207.0 684.4 L207.5 685.3 L208.0 686.3 L208.5 687.3 L209.0 688.5 L209.5 689.7 L210.0 690.9 L210.5 692.3 L211.0 693.6 L211.5 695.0 L212.0 696.4 L212.5 697.9 L213.0 699.3 L213.5 700.8 L214.0 702.3 L214.5 703.7 L215.0 705.2 L215.5 706.6 L216.0 708.0 L216.5 709.3 L217.0 710.6 L217.5 711.9 L218.0 713.2 L218.5 714.4 L219.0 715.6 L219.5 716.7 L220.0 717.8 L220.5 718.9 L221.0 719.9 L221.5 720.9 L222.0 721.9 L222.5 722.8 L223.0 723.7 L223.5 724.7 L224.0 725.6 L224.5 726.6 L225.0 727.5 L225.5 728.5 L226.0 729.5 L226.5 730.5 L227.0 731.6 L227.5 732.8 L228.0 733.9 L228.5 735.2 L229.0 736.5 L229.5 737.9 L230.0 739.3 L230.5 740.8 L231.0 742.4 L231.5 744.1 L232.0 745.8 L232.5 747.6 L233.0 749.5 L233.5 751.4 L234.0 753.4 L234.5 755.5 L235.0 757.6 L235.5 759.8 L236.0 762.0 L236.5 764.2 L237.0 766.5 L237.5 768.8 L238.0 771.1 L238.5 773.4 L239.0 775.8 L239.5 778.1 L240.0 780.4 L240.5 782.7 L241.0 785.0 L241.5 787.3 L242.0 789.5 L242.5 791.7 L243.0 793.8 L243.5 795.9 L244.0 798.0 L244.5 799.9 L245.0 801.9" stroke="#0000ff" stroke-width="2.0" fill="none" stroke-linejoin="round"/>
<path d="M138.0 832.8 L138.5 832.8 L139.0 832.7 L139.5 832.7 L140.0 832.7 L140.5 832.6 L141.0 832.6 L141.5 832.5 L142.0 832.4 L142.5 832.3 L143.0 832.3 L143.5 832.2 L144.0 832.0 L144.5 831.9 L145.0 831.8 L145.5 831.6 L146.0 831.4 L146.5 831.2 L147.0 831.0 L147.5 830.8 L148.0 830.5 L148.5 830.2 L149.0 829.9 L149.5 829.5 L150.0 829.2 L150.5 828.7 L151.0 828.3 L151.5 827.8 L152.0 827.2 L152.5 826.6 L153.0 826.0 L153.5 825.3 L154.0 824.5 L154.5 823.7 L155.0 822.9 L155.5 821.9 L156.0 820.9 L156.5 819.9 L157.0 818.7 L157.5 817.5 L158.0 816.3 L158.5 814.9 L159.0 813.5 L159.5 812.0 L160.0 810.4 L160.5 808.7 L161.0 807.0 L161.5 805.2 L162.0 803.3 L162.5 801.3 L163.0 799.3 L163.5 797.2 L164.0 795.0 L164.5 792.7 L165.0 790.4 L165.5 788.1 L166.0 785.7 L166.5 783.2 L167.0 780.7 L167.5 778.2 L168.0 775.6 L168.5 773.0 L169.0 770.4 L169.5 767.9 L170.0 765.3 L170.5 762.7 L171.0 760.2 L171.5 757.7 L172.0 755.2 L172.5 752.8 L173.0 750.4 L173.5 748.2 L174.0 746.0 L174.5 743.9 L175.0 741.9 L175.5 740.0 L176.0 738.3 L176.5 736.7 L177.0 735.2 L177.5 733.8 L178.0 732.6 L178.5 731.6 L179.0 730.7 L179.5 730.0 L180.0 729.5 L180.5 729.1 L181.0 728.9 L181.5 728.9 L182.0 729.1 L182.5 729.4 L183.0 729.9 L183.5 730.6 L184.0 731.4 L184.5 732.4 L185.0 733.6 L185.5 734.9 L186.0 736.4 L186.5 738.0 L187.0 739.7 L187.5 741.5 L188.0 743.5 L188.5 745.6 L189.0 747.7 L189.5 750.0 L190.0 752.3 L190.5 754.7 L191.0 757.2 L191.5 759.7 L192.0 762.2 L192.5 764.8 L193.0 767.3 L193.5 769.9 L194.0 772.5 L194.5 775.1 L195.0 777.7 L195.5 780.2 L196.0 782.7 L196.5 785.2 L197.0 787.6 L197.5 790.0 L198.0 792.3 L198.5 794.5 L199.0 796.7 L199.5 798.9 L200.0 800.9 L200.5 802.9 L201.0 804.8 L201.5 806.6 L202.0 808.4 L202.5 810.1 L203.0 811.7 L203.5 813.2 L204.0 814.6 L204.5 816.0 L205.0 817.3 L205.5 818.5 L206.0 819.6 L206.5 820.7 L207.0 821.7 L207.5 822.7 L208.0 823.6 L208.5 824.4 L209.0 825.1 L209.5 825.8 L210.0 826.5 L210.5 827.1 L211.0 827.7 L211.5 828.2 L212.0 828.6 L212.5 829.1 L213.0 829.5 L213.5 829.8 L214.0 830.2 L214.5 830.5 L215.0 830.7 L215.5 831.0 L216.0 831.2 L216.5 831.4 L217.0 831.6 L217.5 831.7 L218.0 831.9 L218.5 832.0 L219.0 832.1 L219.5 832.2 L220.0 832.3 L220.5 832.4 L221.0 832.5 L221.5 832.5 L222.0 832.6 L222.5 832.7 L223.0 832.7 L223.5 832.7 L224.0 832.8 L224.5 832.8 L225.0 832.8 L225.5 832.9 L226.0 832.9 L226.5 832.9 L227.0 832.9 L227.5 832.9 L228.0 832.9 L228.5 832.9 L229.0 833.0 L229.5 833.0 L230.0 833.0 L230.5 833.0 L231.0 833.0 L231.5 833.0 L232.0 833.0 L232.5 833.0 L233.0 833.0 L233.5 833.0 L234.0 833.0 L234.5 833.0 L235.0 833.0 L235.5 833.0 L236.0 833.0 L236.5 833.0 L237.0 833.0 L237.5 833.0 L238.0 833.0 L238.5 833.0 L239.0 833.0 L239.5 833.0 L240.0 833.0 L240.5 833.0 L241.0 833.0 L241.5 833.0 L242.0 833.0 L242.5 833.0 L243.0 833.0 L243.5 833.0 L244.0 833.0 L244.5 833.0 L245.0 833.0 L245.5 833.0 L246.0 833.0 L246.5 833.0 L247.0 833.0 L247.5 833.0 L248.0 833.0 L248.5 833.0 L249.0 833.0 L249.5 833.0 L250.0 833.0 L250.5 833.0 L251.0 833.0 L251.5 833.0 L252.0 833.0 L252.5 833.0 L253.0 833.0 L253.5 833.0 L254.0 833.0 L254.5 833.0 L255.0 833.0 L255.5 833.0 L256.0 833.0 L256.5 833.0 L257.0 833.0 L257.5 833.0 L258.0 833.0 L258.5 833.0 L259.0 833.0 L259.5 833.0 L260.0 833.0 L260.5 833.0 L261.0 833.0 L261.5 833.0 L262.0 833.0 L262.5 833.0 L263.0 833.0 L263.5 833.0 L264.0 833.0 L264.5 833.0 L265.0 833.0 L265.5 833.0 L266.0 833.0 L266.5 833.0 L267.0 833.0 L267.5 833.0 L268.0 833.0 L268.5 833.0 L269.0 833.0 L269.5 833.0 L270.0 833.0" stroke="#ff00ff" stroke-width="2.0" fill="none" stroke-linejoin="round"/>
<path d="M57.4 833.0 L57.9 833.0 L58.4 833.0 L58.9 833.0 L59.4 833.0 L59.9 833.0 L60.4 833.0 L60.9 833.0 L61.4 833.0 L61.9 833.0 L62.4 833.0 L62.9 833.0 L63.4 833.0 L63.9 833.0 L64.4 833.0 L64.9 833.0 L65.4 833.0 L65.9 833.0 L66.4 833.0 L66.9 833.0 L67.4 833.0 L67.9 833.0 L68.4 833.0 L68.9 833.0 L69.4 833.0 L69.9 833.0 L70.4 833.0 L70.9 833.0 L71.4 833.0 L71.9 833.0 L72.4 833.0 L72.9 833.0 L73.4 833.0 L73.9 833.0 L74.4 833.0 L74.9 833.0 L75.4 833.0 L75.9 833.0 L76.4 833.0 L76.9 833.0 L77.4 833.0 L77.9 833.0 L78.4 833.0 L78.9 833.0 L79.4 833.0 L79.9 833.0 L80.4 833.0 L80.9 833.0 L81.4 833.0 L81.9 833.0 L82.4 833.0 L82.9 833.0 L83.4 833.0 L83.9 833.0 L84.4 833.0 L84.9 833.0 L85.4 833.0 L85.9 833.0 L86.4 833.0 L86.9 833.0 L87.4 833.0 L87.9 833.0 L88.4 833.0 L88.9 833.0 L89.4 833.0 L89.9 833.0 L90.4 833.0 L90.9 833.0 L91.4 833.0 L91.9 833.0 L92.4 833.0 L92.9 833.0 L93.4 833.0 L93.9 833.0 L94.4 833.0 L94.9 833.0 L95.4 833.0 L95.9 833.0 L96.4 833.0 L96.9 833.0 L97.4 833.0 L97.9 833.0 L98.4 833.0 L98.9 833.0 L99.4 833.0 L99.9 833.0 L100.4 833.0 L100.9 833.0 L101.4 833.0 L101.9 833.0 L102.4 833.0 L102.9 833.0 L103.4 833.0 L103.9 833.0 L104.4 833.0 L104.9 833.0 L105.4 833.0 L105.9 833.0 L106.4 833.0 L106.9 833.0 L107.4 833.0 L107.9 833.0 L108.4 833.0 L108.9 833.0 L109.4 833.0 L109.9 833.0 L110.4 832.9 L110.9 832.9 L111.4 832.9 L111.9 832.9 L112.4 832.9 L112.9 832.9 L113.4 832.9 L113.9 832.9 L114.4 832.9 L114.9 832.9 L115.4 832.9 L115.9 832.9 L116.4 832.9 L116.9 832.9 L117.4 832.9 L117.9 832.9 L118.4 832.9 L118.9 832.9 L119.4 832.9 L119.9 832.9 L120.4 832.9 L120.9 832.9 L121.4 832.9 L121.9 832.9 L122.4 832.9 L122.9 832.9 L123.4 832.9 L123.9 832.9 L124.4 832.9 L124.9 832.9 L125.4 832.9 L125.9 832.9 L126.4 832.9 L126.9 832.9 L127.4 832.9 L127.9 832.9 L128.4 832.9 L128.9 832.9 L129.4 832.9 L129.9 832.9 L130.4 832.9 L130.9 832.9 L131.4 832.9 L131.9 832.9 L132.4 832.9 L132.9 832.9 L133.4 832.9 L133.9 832.9 L134.4 832.9 L134.9 832.9 L135.4 832.9 L135.9 832.9 L136.4 832.9 L136.9 832.9 L137.4 832.9 L137.9 832.9 L138.4 832.9 L138.9 832.9 L139.4 832.9 L139.9 832.9 L140.4 832.9 L140.9 832.9 L141.4 832.9 L141.9 832.9 L142.4 832.9 L142.9 832.9 L143.4 832.9 L143.9 832.9 L144.4 832.9 L144.9 832.9 L145.4 832.9 L145.9 832.9 L146.4 832.9 L146.9 832.9 L147.4 832.9 L147.9 832.9 L148.4 832.9 L148.9 832.9 L149.4 832.9 L149.9 832.9 L150.4 832.9 L150.9 832.9 L151.4 832.9 L151.9 832.9 L152.4 832.9 L152.9 832.9 L153.4 832.9 L153.9 832.9 L154.4 832.9 L154.9 832.9 L155.4 832.9 L155.9 832.9 L156.4 832.9 L156.9 832.9 L157.4 832.9 L157.9 832.9 L158.4 832.9 L158.9 832.9 L159.4 832.9 L159.9 832.9 L160.4 832.9 L160.9 832.9 L161.4 832.8 L161.9 832.8 L162.4 832.8 L162.9 832.8 L163.4 832.8 L163.9 832.8 L164.4 832.8 L164.9 832.8 L165.4 832.8 L165.9 832.8 L166.4 832.8 L166.9 832.8 L167.4 832.8 L167.9 832.8 L168.4 832.8 L168.9 832.8 L169.4 832.8 L169.9 832.8 L170.4 832.8 L170.9 832.8 L171.4 832.8 L171.9 832.8 L172.4 832.8 L172.9 832.8 L173.4 832.8 L173.9 832.8 L174.4 832.8 L174.9 832.8 L175.4 832.8 L175.9 832.8 L176.4 832.8 L176.9 832.8 L177.4 832.7 L177.9 832.7 L178.4 832.7 L178.9 832.7 L179.4 832.7 L179.9 832.7 L180.4 832.7 L180.9 832.7 L181.4 832.7 L181.9 832.7 L182.4 832.7 L182.9 832.7 L183.4 832.7 L183.9 832.7 L184.4 832.6 L184.9 832.6 L185.4 832.6 L185.9 832.6 L186.4 832.6 L186.9 832.6 L187.4 832.5 L187.9 832.5 L188.4 832.5 L188.9 832.5 L189.4 832.4 L189.9 832.4 L190.4 832.3 L190.9 832.3 L191.4 832.2 L191.9 832.2 L192.4 832.1 L192.9 832.0 L193.4 832.0 L193.9 831.9 L194.4 831.8 L194.9 831.7 L195.4 831.5 L195.9 831.4 L196.4 831.2 L196.9 831.1 L197.4 830.9 L197.9 830.6 L198.4 830.4 L198.9 830.1 L199.4 829.9 L199.9 829.5 L200.4 829.2 L200.9 828.8 L201.4 828.4 L201.9 827.9 L202.4 827.4 L202.9 826.9 L203.4 826.3 L203.9 825.7 L204.4 825.0 L204.9 824.3 L205.4 823.5 L205.9 822.6 L206.4 821.7 L206.9 820.8 L207.4 819.8 L207.9 818.7 L208.4 817.5 L208.9 816.3 L209.4 815.0 L209.9 813.6 L210.4 812.2 L210.9 810.7 L211.4 809.2 L211.9 807.5 L212.4 805.8 L212.9 804.1 L213.4 802.3 L213.9 800.4 L214.4 798.5 L214.9 796.6 L215.4 794.6 L215.9 792.5 L216.4 790.5 L216.9 788.4 L217.4 786.3 L217.9 784.2 L218.4 782.1 L218.9 780.0 L219.4 777.9 L219.9 775.8 L220.4 773.8 L220.9 771.8 L221.4 769.8 L221.9 768.0 L222.4 766.2 L222.9 764.4 L223.4 762.8 L223.9 761.3 L224.4 759.8 L224.9 758.5 L225.4 757.3 L225.9 756.3 L226.4 755.3 L226.9 754.6 L227.4 753.9 L227.9 753.4 L228.4 753.1 L228.9 752.9 L229.4 752.9 L229.9 753.1 L230.4 753.4 L230.9 753.8 L231.4 754.4 L231.9 755.2 L232.4 756.1 L232.9 757.1 L233.4 758.3 L233.9 759.6 L234.4 761.0 L234.9 762.5 L235.4 764.1 L235.9 765.8 L236.4 767.6 L236.9 769.5 L237.4 771.4 L237.9 773.4 L238.4 775.4 L238.9 777.5 L239.4 779.5 L239.9 781.6 L240.4 783.8 L240.9 785.9 L241.4 788.0 L241.9 790.1 L242.4 792.1 L242.9 794.2 L243.4 796.2 L243.9 798.1 L244.4 800.1 L244.9 801.9 L245.4 803.7 L245.9 805.5 L246.4 807.2 L246.9 808.8 L247.4 810.4 L247.9 811.9 L248.4 813.4 L248.9 814.7 L249.4 816.0 L249.9 817.3 L250.4 818.4 L250.9 819.5 L251.4 820.6 L251.9 821.6 L252.4 822.5 L252.9 823.3 L253.4 824.1 L253.9 824.9 L254.4 825.6 L254.9 826.2 L255.4 826.8 L255.9 827.3 L256.4 827.8 L256.9 828.3 L257.4 828.7 L257.9 829.1 L258.4 829.5 L258.9 829.8 L259.4 830.1 L259.9 830.4 L260.4 830.6 L260.9 830.8 L261.4 831.0 L261.9 831.2 L262.4 831.4 L262.9 831.5 L263.4 831.6 L263.9 831.8 L264.4 831.9 L264.9 831.9 L265.4 832.0 L265.9 832.1 L266.4 832.2 L266.9 832.2 L267.4 832.3 L267.9 832.3 L268.4 832.4 L268.9 832.4 L269.4 832.5 L269.9 832.5 L270.4 832.5 L270.9 832.5 L271.4 832.6 L271.9 832.6 L272.4 832.6 L272.9 832.6 L273.4 832.6 L273.9 832.6 L274.4 832.6 L274.9 832.7 L275.4 832.7 L275.9 832.7 L276.4 832.7 L276.9 832.7 L277.4 832.7 L277.9 832.7 L278.4 832.7 L278.9 832.7 L279.4 832.7 L279.9 832.7 L280.4 832.7 L280.9 832.7 L281.4 832.8 L281.9 832.8 L282.4 832.8 L282.9 832.8 L283.4 832.8 L283.9 832.8 L284.4 832.8 L284.9 832.8 L285.4 832.8 L285.9 832.8 L286.4 832.8 L286.9 832.8 L287.4 832.8 L287.9 832.8 L288.4 832.8 L288.9 832.8 L289.4 832.8 L289.9 832.8 L290.4 832.8 L290.9 832.8 L291.4 832.8 L291.9 832.8 L292.4 832.8 L292.9 832.8 L293.4 832.8 L293.9 832.8 L294.4 832.8 L294.9 832.8 L295.4 832.8 L295.9 832.8 L296.4 832.8 L296.9 832.8 L297.4 832.9 L297.9 832.9 L298.4 832.9 L298.9 832.9 L299.4 832.9 L299.9 832.9 L300.4 832.9 L300.9 832.9 L301.4 832.9 L301.9 832.9 L302.4 832.9 L302.9 832.9 L303.4 832.9 L303.9 832.9 L304.4 832.9 L304.9 832.9 L305.4 832.9 L305.9 832.9 L306.4 832.9 L306.9 832.9 L307.4 832.9 L307.9 832.9 L308.4 832.9 L308.9 832.9 L309.4 832.9 L309.9 832.9 L310.4 832.9 L310.9 832.9 L311.4 832.9 L311.9 832.9 L312.4 832.9 L312.9 832.9 L313.4 832.9 L313.9 832.9 L314.4 832.9 L314.9 832.9 L315.4 832.9 L315.9 832.9 L316.4 832.9 L316.9 832.9" stroke="#808000" stroke-width="2.0" fill="none" stroke-linejoin="round"/>
<path d="M190 833.3H218" stroke="#008080" stroke-width="1.6"/>
<path d="M180.0 729.5 L180.5 729.1 L181.0 728.9 L181.5 728.9 L182.0 729.1 L182.5 729.4 L183.0 729.9 L183.5 730.6 L184.0 731.4 L184.5 732.4 L185.0 733.6 L185.5 734.9 L186.0 736.4 L186.5 738.0 L187.0 739.7 L187.5 741.5 L188.0 743.5 L188.5 745.6 L189.0 747.7 L189.5 750.0 L190.0 752.3 L190.5 754.7 L191.0 757.2 L191.5 759.7 L192.0 762.2 L192.5 764.8 L193.0 767.3 L193.5 769.9 L194.0 772.5 L194.5 775.1 L195.0 777.7 L195.5 780.2 L196.0 782.7 L196.5 785.2 L197.0 787.6 L197.5 790.0 L198.0 792.3 L198.5 794.5 L199.0 796.7 L199.5 798.9 L200.0 800.9 L200.5 802.9 L201.0 804.8 L201.5 806.6 L202.0 808.4 L202.5 810.1 L203.0 811.7 L203.5 813.2 L204.0 814.6 L204.5 816.0 L205.0 817.3 L205.5 818.5 L206.0 819.6 L206.5 820.7 L207.0 821.7 L207.5 822.7 L208.0 823.6 L208.5 824.4 L209.0 825.1 L209.5 825.8 L210.0 826.5 L210.5 827.1 L211.0 827.7 L211.5 828.2 L212.0 828.6 L212.5 829.1 L213.0 829.5 L213.5 829.8 L214.0 830.2 L214.5 830.5 L215.0 830.7 L215.5 831.0 L216.0 831.2 L216.5 831.4 L217.0 831.6 L217.5 831.7 L218.0 831.9 L218.5 832.0 L219.0 832.1 L219.5 832.2 L220.0 832.3 L220.5 832.4 L221.0 832.5 L221.5 832.5 L222.0 832.6 L222.5 832.7 L223.0 832.7 L223.5 832.7 L224.0 832.8 L224.5 832.8 L225.0 832.8 L225.5 832.9 L226.0 832.9 L226.5 832.9 L227.0 832.9 L227.5 832.9 L228.0 832.9 L228.5 832.9 L229.0 833.0 L229.5 833.0 L230.0 833.0 L230.5 833.0 L231.0 833.0 L231.5 833.0 L232.0 833.0 L232.5 833.0 L233.0 833.0 L233.5 833.0 L234.0 833.0 L234.5 833.0 L235.0 833.0 L235.5 833.0 L236.0 833.0 L236.5 833.0 L237.0 833.0 L237.5 833.0 L238.0 833.0 L238.5 833.0 L239.0 833.0 L239.5 833.0 L240.0 833.0 L240.5 833.0 L241.0 833.0 L241.5 833.0 L242.0 833.0 L242.5 833.0 L243.0 833.0 L243.5 833.0 L244.0 833.0 L244.5 833.0 L245.0 833.0 L245.5 833.0 L246.0 833.0 L246.5 833.0 L247.0 833.0 L247.5 833.0 L248.0 833.0 L248.5 833.0 L249.0 833.0 L249.5 833.0 L250.0 833.0 L250.5 833.0 L251.0 833.0 L251.5 833.0 L252.0 833.0 L252.5 833.0 L253.0 833.0 L253.5 833.0 L254.0 833.0 L254.5 833.0 L255.0 833.0 L255.5 833.0 L256.0 833.0 L256.5 833.0 L257.0 833.0 L257.5 833.0 L258.0 833.0 L258.5 833.0 L259.0 833.0 L259.5 833.0 L260.0 833.0 L260.5 833.0 L261.0 833.0 L261.5 833.0 L262.0 833.0 L262.5 833.0 L263.0 833.0 L263.5 833.0 L264.0 833.0 L264.5 833.0 L265.0 833.0 L265.5 833.0 L266.0 833.0 L266.5 833.0 L267.0 833.0 L267.5 833.0 L268.0 833.0 L268.5 833.0 L269.0 833.0 L269.5 833.0 L270.0 833.0" stroke="#ff00ff" stroke-width="2.0" fill="none" stroke-linejoin="round"/>
<rect x="405.00" y="627.80" width="262.00" height="218.60" fill="none" stroke="#000" stroke-width="2.2"/>
<path d="M464.89 847.40V852.90M539.75 847.40V852.90M614.61 847.40V852.90M427.46 847.40V850.90M502.32 847.40V850.90M577.18 847.40V850.90M652.04 847.40V850.90" stroke="#000" stroke-width="1.8" fill="none"/>
<text transform="translate(450.54,868.30) scale(1.1670,1)" font-size="14.77" fill="#000">640</text>
<text transform="translate(525.40,868.30) scale(1.1670,1)" font-size="14.77" fill="#000">650</text>
<text transform="translate(600.26,868.30) scale(1.1670,1)" font-size="14.77" fill="#000">660</text>
<text transform="translate(425.14,887.00) scale(1.1666,1)" font-size="19.78" fill="#000">Binding Energy (eV)</text>
<text transform="translate(383.80,823.80) rotate(-90) scale(0.9526,1)" font-size="24.87" fill="#000">Intensity (a.u.)</text>
<text transform="translate(606.52,648.30) scale(0.9892,1)" font-size="17.75" fill="#000">Mn 2p</text>
<text transform="translate(462.18,658.60) scale(1.0571,1)" font-size="16.63" fill="#008080">2p3/2</text>
<text transform="translate(471.56,677.80) scale(1.0847,1)" font-size="15.77" fill="#008080">642</text>
<text transform="translate(555.19,739.40) scale(1.0210,1)" font-size="17.06" fill="#ff00ff">2p1/2</text>
<text transform="translate(554.55,757.90) scale(1.0377,1)" font-size="16.77" fill="#ff00ff">653.6</text>
<path d="M452.0 826.4 L452.5 825.6 L453.0 824.7 L453.5 823.7 L454.0 822.6 L454.5 821.4 L455.0 820.2 L455.5 818.9 L456.0 817.4 L456.5 815.9 L457.0 814.2 L457.5 812.5 L458.0 810.6 L458.5 808.6 L459.0 806.5 L459.5 804.3 L460.0 802.0 L460.5 799.5 L461.0 797.0 L461.5 794.3 L462.0 791.5 L462.5 788.5 L463.0 785.5 L463.5 782.3 L464.0 779.1 L464.5 775.7 L465.0 772.3 L465.5 768.8 L466.0 765.2 L466.5 761.5 L467.0 757.7 L467.5 754.0 L468.0 750.2 L468.5 746.3 L469.0 742.5 L469.5 738.7 L470.0 734.8 L470.5 731.1 L471.0 727.3 L471.5 723.6 L472.0 720.1 L472.5 716.6 L473.0 713.2 L473.5 709.9 L474.0 706.8 L474.5 703.9 L475.0 701.1 L475.5 698.5 L476.0 696.1 L476.5 693.9 L477.0 691.9 L477.5 690.2 L478.0 688.7 L478.5 687.4 L479.0 686.4 L479.5 685.7 L480.0 685.2 L480.5 685.0 L481.0 685.1 L481.5 685.4 L482.0 686.0 L482.5 686.8 L483.0 687.9 L483.5 689.2 L484.0 690.8 L484.5 692.6 L485.0 694.6 L485.5 696.9 L486.0 699.3 L486.5 701.9 L487.0 704.7 L487.5 707.6 L488.0 710.7 L488.5 713.9 L489.0 717.2 L489.5 720.6 L490.0 724.1 L490.5 727.7 L491.0 731.3 L491.5 734.9 L492.0 738.5 L492.5 742.2 L493.0 745.8 L493.5 749.4 L494.0 753.0 L494.5 756.5 L495.0 759.9 L495.5 763.3 L496.0 766.6 L496.5 769.8 L497.0 772.9 L497.5 776.0 L498.0 778.9 L498.5 781.7 L499.0 784.3 L499.5 786.9 L500.0 789.3 L500.5 791.6 L501.0 793.8 L501.5 795.9 L502.0 797.8 L502.5 799.6 L503.0 801.3 L503.5 802.8 L504.0 804.3 L504.5 805.6 L505.0 806.8 L505.5 808.0 L506.0 809.0 L506.5 809.9 L507.0 810.7 L507.5 811.4 L508.0 812.0 L508.5 812.6 L509.0 813.1 L509.5 813.4 L510.0 813.8 L510.5 814.0 L511.0 814.2 L511.5 814.3 L512.0 814.4 L512.5 814.4 L513.0 814.4 L513.5 814.4 L514.0 814.2 L514.5 814.1 L515.0 813.9 L515.5 813.7 L516.0 813.4 L516.5 813.2 L517.0 812.9 L517.5 812.5 L518.0 812.2 L518.5 811.8 L519.0 811.4 L519.5 811.0 L520.0 810.6 L520.5 810.1 L521.0 809.7 L521.5 809.2 L522.0 808.7 L522.5 808.2 L523.0 807.7 L523.5 807.2 L524.0 806.7 L524.5 806.1 L525.0 805.6 L525.5 805.0 L526.0 804.5" stroke="#0000ff" stroke-width="2.0" fill="none" stroke-linejoin="round"/>
<path d="M432.0 834.2 L432.5 834.2 L433.0 834.2 L433.5 834.2 L434.0 834.1 L434.5 834.1 L435.0 834.1 L435.5 834.1 L436.0 834.1 L436.5 834.1 L437.0 834.0 L437.5 834.0 L438.0 834.0 L438.5 834.0 L439.0 833.9 L439.5 833.9 L440.0 833.8 L440.5 833.8 L441.0 833.7 L441.5 833.6 L442.0 833.5 L442.5 833.4 L443.0 833.3 L443.5 833.2 L444.0 833.0 L444.5 832.9 L445.0 832.7 L445.5 832.5 L446.0 832.3 L446.5 832.0 L447.0 831.7 L447.5 831.4 L448.0 831.1 L448.5 830.7 L449.0 830.2 L449.5 829.7 L450.0 829.2 L450.5 828.6 L451.0 828.0 L451.5 827.3 L452.0 826.5 L452.5 825.7 L453.0 824.8 L453.5 823.8 L454.0 822.8 L454.5 821.6 L455.0 820.4 L455.5 819.1 L456.0 817.6 L456.5 816.1 L457.0 814.5 L457.5 812.7 L458.0 810.9 L458.5 808.9 L459.0 806.8 L459.5 804.6 L460.0 802.3 L460.5 799.9 L461.0 797.3 L461.5 794.6 L462.0 791.8 L462.5 788.9 L463.0 785.9 L463.5 782.8 L464.0 779.6 L464.5 776.2 L465.0 772.8 L465.5 769.3 L466.0 765.7 L466.5 762.1 L467.0 758.4 L467.5 754.6 L468.0 750.8 L468.5 747.0 L469.0 743.2 L469.5 739.4 L470.0 735.7 L470.5 731.9 L471.0 728.2 L471.5 724.6 L472.0 721.0 L472.5 717.6 L473.0 714.3 L473.5 711.0 L474.0 708.0 L474.5 705.1 L475.0 702.3 L475.5 699.8 L476.0 697.5 L476.5 695.3 L477.0 693.4 L477.5 691.7 L478.0 690.3 L478.5 689.1 L479.0 688.2 L479.5 687.5 L480.0 687.1 L480.5 687.0 L481.0 687.1 L481.5 687.5 L482.0 688.2 L482.5 689.1 L483.0 690.3 L483.5 691.7 L484.0 693.4 L484.5 695.3 L485.0 697.5 L485.5 699.8 L486.0 702.3 L486.5 705.1 L487.0 708.0 L487.5 711.0 L488.0 714.3 L488.5 717.6 L489.0 721.0 L489.5 724.6 L490.0 728.2 L490.5 731.9 L491.0 735.7 L491.5 739.4 L492.0 743.2 L492.5 747.0 L493.0 750.8 L493.5 754.6 L494.0 758.4 L494.5 762.1 L495.0 765.7 L495.5 769.3 L496.0 772.8 L496.5 776.2 L497.0 779.6 L497.5 782.8 L498.0 785.9 L498.5 788.9 L499.0 791.8 L499.5 794.6 L500.0 797.3 L500.5 799.9 L501.0 802.3 L501.5 804.6 L502.0 806.8 L502.5 808.9 L503.0 810.9 L503.5 812.7 L504.0 814.5 L504.5 816.1 L505.0 817.6 L505.5 819.1 L506.0 820.4 L506.5 821.6 L507.0 822.8 L507.5 823.8 L508.0 824.8 L508.5 825.7 L509.0 826.5 L509.5 827.3 L510.0 828.0 L510.5 828.6 L511.0 829.2 L511.5 829.7 L512.0 830.2 L512.5 830.7 L513.0 831.1 L513.5 831.4 L514.0 831.7 L514.5 832.0 L515.0 832.3 L515.5 832.5 L516.0 832.7 L516.5 832.9 L517.0 833.0 L517.5 833.2 L518.0 833.3 L518.5 833.4 L519.0 833.5 L519.5 833.6 L520.0 833.7 L520.5 833.8 L521.0 833.8 L521.5 833.9 L522.0 833.9 L522.5 834.0 L523.0 834.0 L523.5 834.0 L524.0 834.0 L524.5 834.1 L525.0 834.1 L525.5 834.1 L526.0 834.1 L526.5 834.1 L527.0 834.1 L527.5 834.2 L528.0 834.2 L528.5 834.2 L529.0 834.2 L529.5 834.2 L530.0 834.2 L530.5 834.2 L531.0 834.2 L531.5 834.2 L532.0 834.2 L532.5 834.2 L533.0 834.2 L533.5 834.2 L534.0 834.2 L534.5 834.2 L535.0 834.2 L535.5 834.2 L536.0 834.2 L536.5 834.2 L537.0 834.2 L537.5 834.2 L538.0 834.2 L538.5 834.2 L539.0 834.2 L539.5 834.2 L540.0 834.2 L540.5 834.2 L541.0 834.2 L541.5 834.2 L542.0 834.2 L542.5 834.2 L543.0 834.2 L543.5 834.2 L544.0 834.2 L544.5 834.2 L545.0 834.2 L545.5 834.2 L546.0 834.2 L546.5 834.2 L547.0 834.2 L547.5 834.2 L548.0 834.2 L548.5 834.2 L549.0 834.2 L549.5 834.2 L550.0 834.2 L550.5 834.2 L551.0 834.2 L551.5 834.2 L552.0 834.2 L552.5 834.2 L553.0 834.2 L553.5 834.2 L554.0 834.2 L554.5 834.2 L555.0 834.2 L555.5 834.2 L556.0 834.2 L556.5 834.2 L557.0 834.2 L557.5 834.2 L558.0 834.2 L558.5 834.2 L559.0 834.2 L559.5 834.2 L560.0 834.2 L560.5 834.2 L561.0 834.2 L561.5 834.2 L562.0 834.2 L562.5 834.2 L563.0 834.2 L563.5 834.2 L564.0 834.2 L564.5 834.2 L565.0 834.2 L565.5 834.2 L566.0 834.2 L566.5 834.2 L567.0 834.2 L567.5 834.2 L568.0 834.2 L568.5 834.2 L569.0 834.2 L569.5 834.2 L570.0 834.2 L570.5 834.2 L571.0 834.2 L571.5 834.2 L572.0 834.2 L572.5 834.2 L573.0 834.2 L573.5 834.2 L574.0 834.2 L574.5 834.2 L575.0 834.2 L575.5 834.2 L576.0 834.2 L576.5 834.2 L577.0 834.2 L577.5 834.2 L578.0 834.2 L578.5 834.2 L579.0 834.2 L579.5 834.2 L580.0 834.2 L580.5 834.2 L581.0 834.2 L581.5 834.2 L582.0 834.2 L582.5 834.2 L583.0 834.2 L583.5 834.2 L584.0 834.2 L584.5 834.2 L585.0 834.2 L585.5 834.2 L586.0 834.2 L586.5 834.2 L587.0 834.2 L587.5 834.2 L588.0 834.2 L588.5 834.2 L589.0 834.2 L589.5 834.2 L590.0 834.2 L590.5 834.2 L591.0 834.2 L591.5 834.2 L592.0 834.2 L592.5 834.2 L593.0 834.2 L593.5 834.2 L594.0 834.2 L594.5 834.2 L595.0 834.2 L595.5 834.2 L596.0 834.2 L596.5 834.2 L597.0 834.2 L597.5 834.2 L598.0 834.2 L598.5 834.2 L599.0 834.2 L599.5 834.2 L600.0 834.2 L600.5 834.2 L601.0 834.2 L601.5 834.2 L602.0 834.2 L602.5 834.2 L603.0 834.2 L603.5 834.2 L604.0 834.2 L604.5 834.2 L605.0 834.2 L605.5 834.2 L606.0 834.2 L606.5 834.2 L607.0 834.2 L607.5 834.2 L608.0 834.2 L608.5 834.2 L609.0 834.2 L609.5 834.2 L610.0 834.2 L610.5 834.2 L611.0 834.2 L611.5 834.2 L612.0 834.2 L612.5 834.2 L613.0 834.2 L613.5 834.2 L614.0 834.2 L614.5 834.2 L615.0 834.2 L615.5 834.2 L616.0 834.2 L616.5 834.2 L617.0 834.2 L617.5 834.2 L618.0 834.2 L618.5 834.2 L619.0 834.2 L619.5 834.2 L620.0 834.2 L620.5 834.2 L621.0 834.2 L621.5 834.2 L622.0 834.2 L622.5 834.2 L623.0 834.2 L623.5 834.2 L624.0 834.2 L624.5 834.2 L625.0 834.2 L625.5 834.2 L626.0 834.2 L626.5 834.2 L627.0 834.2 L627.5 834.2 L628.0 834.2 L628.5 834.2 L629.0 834.2 L629.5 834.2 L630.0 834.2 L630.5 834.2 L631.0 834.2 L631.5 834.2 L632.0 834.2 L632.5 834.2 L633.0 834.2 L633.5 834.2 L634.0 834.2 L634.5 834.2 L635.0 834.2 L635.5 834.2 L636.0 834.2 L636.5 834.2 L637.0 834.2 L637.5 834.2 L638.0 834.2 L638.5 834.2 L639.0 834.2 L639.5 834.2 L640.0 834.2 L640.5 834.2 L641.0 834.2 L641.5 834.2 L642.0 834.2 L642.5 834.2 L643.0 834.2 L643.5 834.2 L644.0 834.2 L644.5 834.2 L645.0 834.2 L645.5 834.2 L646.0 834.2 L646.5 834.2 L647.0 834.2 L647.5 834.2 L648.0 834.2 L648.5 834.2 L649.0 834.2 L649.5 834.2 L650.0 834.2 L650.5 834.2 L651.0 834.2 L651.5 834.2 L652.0 834.2 L652.5 834.2 L653.0 834.2 L653.5 834.2 L654.0 834.2 L654.5 834.2 L655.0 834.2 L655.5 834.2 L656.0 834.2 L656.5 834.2 L657.0 834.2 L657.5 834.2 L658.0 834.2 L658.5 834.2 L659.0 834.2 L659.5 834.2 L660.0 834.2 L660.5 834.2 L661.0 834.2 L661.5 834.2 L662.0 834.2 L662.5 834.2 L663.0 834.2 L663.5 834.2 L664.0 834.2 L664.5 834.2 L665.0 834.2 L665.5 834.2 L666.0 834.2" stroke="#008080" stroke-width="2.0" fill="none" stroke-linejoin="round"/>
<path d="M410.0 834.5 L410.5 834.5 L411.0 834.5 L411.5 834.5 L412.0 834.5 L412.5 834.5 L413.0 834.5 L413.5 834.5 L414.0 834.5 L414.5 834.5 L415.0 834.5 L415.5 834.5 L416.0 834.5 L416.5 834.5 L417.0 834.5 L417.5 834.5 L418.0 834.5 L418.5 834.5 L419.0 834.5 L419.5 834.5 L420.0 834.5 L420.5 834.5 L421.0 834.5 L421.5 834.5 L422.0 834.5 L422.5 834.5 L423.0 834.5 L423.5 834.5 L424.0 834.5 L424.5 834.5 L425.0 834.5 L425.5 834.5 L426.0 834.5 L426.5 834.5 L427.0 834.5 L427.5 834.5 L428.0 834.5 L428.5 834.5 L429.0 834.5 L429.5 834.5 L430.0 834.5 L430.5 834.5 L431.0 834.5 L431.5 834.5 L432.0 834.5 L432.5 834.5 L433.0 834.5 L433.5 834.5 L434.0 834.5 L434.5 834.5 L435.0 834.5 L435.5 834.5 L436.0 834.5 L436.5 834.5 L437.0 834.5 L437.5 834.5 L438.0 834.5 L438.5 834.5 L439.0 834.5 L439.5 834.5 L440.0 834.5 L440.5 834.5 L441.0 834.5 L441.5 834.5 L442.0 834.5 L442.5 834.5 L443.0 834.4 L443.5 834.4 L444.0 834.4 L444.5 834.4 L445.0 834.4 L445.5 834.4 L446.0 834.4 L446.5 834.4 L447.0 834.4 L447.5 834.4 L448.0 834.4 L448.5 834.4 L449.0 834.4 L449.5 834.4 L450.0 834.4 L450.5 834.4 L451.0 834.4 L451.5 834.4 L452.0 834.4 L452.5 834.4 L453.0 834.3 L453.5 834.3 L454.0 834.3 L454.5 834.3 L455.0 834.3 L455.5 834.3 L456.0 834.3 L456.5 834.3 L457.0 834.3 L457.5 834.3 L458.0 834.2 L458.5 834.2 L459.0 834.2 L459.5 834.2 L460.0 834.2 L460.5 834.2 L461.0 834.1 L461.5 834.1 L462.0 834.1 L462.5 834.1 L463.0 834.1 L463.5 834.1 L464.0 834.0 L464.5 834.0 L465.0 834.0 L465.5 834.0 L466.0 833.9 L466.5 833.9 L467.0 833.9 L467.5 833.8 L468.0 833.8 L468.5 833.8 L469.0 833.8 L469.5 833.7 L470.0 833.7 L470.5 833.6 L471.0 833.6 L471.5 833.6 L472.0 833.5 L472.5 833.5 L473.0 833.4 L473.5 833.4 L474.0 833.3 L474.5 833.3 L475.0 833.2 L475.5 833.2 L476.0 833.1 L476.5 833.1 L477.0 833.0 L477.5 832.9 L478.0 832.9 L478.5 832.8 L479.0 832.7 L479.5 832.7 L480.0 832.6 L480.5 832.5 L481.0 832.4 L481.5 832.3 L482.0 832.3 L482.5 832.2 L483.0 832.1 L483.5 832.0 L484.0 831.9 L484.5 831.8 L485.0 831.7 L485.5 831.6 L486.0 831.4 L486.5 831.3 L487.0 831.2 L487.5 831.1 L488.0 831.0 L488.5 830.8 L489.0 830.7 L489.5 830.5 L490.0 830.4 L490.5 830.3 L491.0 830.1 L491.5 829.9 L492.0 829.8 L492.5 829.6 L493.0 829.4 L493.5 829.3 L494.0 829.1 L494.5 828.9 L495.0 828.7 L495.5 828.5 L496.0 828.3 L496.5 828.1 L497.0 827.9 L497.5 827.7 L498.0 827.5 L498.5 827.2 L499.0 827.0 L499.5 826.8 L500.0 826.5 L500.5 826.3 L501.0 826.0 L501.5 825.7 L502.0 825.5 L502.5 825.2 L503.0 824.9 L503.5 824.6 L504.0 824.3 L504.5 824.0 L505.0 823.7 L505.5 823.4 L506.0 823.1 L506.5 822.7 L507.0 822.4 L507.5 822.1 L508.0 821.7 L508.5 821.4 L509.0 821.0 L509.5 820.6 L510.0 820.3 L510.5 819.9 L511.0 819.5 L511.5 819.1 L512.0 818.7 L512.5 818.3 L513.0 817.9 L513.5 817.4 L514.0 817.0 L514.5 816.6 L515.0 816.1 L515.5 815.7 L516.0 815.2 L516.5 814.8 L517.0 814.3 L517.5 813.8 L518.0 813.3 L518.5 812.9 L519.0 812.4 L519.5 811.9 L520.0 811.4 L520.5 810.8 L521.0 810.3 L521.5 809.8 L522.0 809.3 L522.5 808.7 L523.0 808.2 L523.5 807.7 L524.0 807.1 L524.5 806.5 L525.0 806.0 L525.5 805.4 L526.0 804.9 L526.5 804.3 L527.0 803.7 L527.5 803.1 L528.0 802.5 L528.5 801.9 L529.0 801.4 L529.5 800.8 L530.0 800.2 L530.5 799.6 L531.0 799.0 L531.5 798.4 L532.0 797.7 L532.5 797.1 L533.0 796.5 L533.5 795.9 L534.0 795.3 L534.5 794.7 L535.0 794.1 L535.5 793.5 L536.0 792.9 L536.5 792.2 L537.0 791.6 L537.5 791.0 L538.0 790.4 L538.5 789.8 L539.0 789.2 L539.5 788.6 L540.0 788.0 L540.5 787.4 L541.0 786.8 L541.5 786.2 L542.0 785.6 L542.5 785.0 L543.0 784.5 L543.5 783.9 L544.0 783.3 L544.5 782.7 L545.0 782.2 L545.5 781.6 L546.0 781.1 L546.5 780.5 L547.0 780.0 L547.5 779.5 L548.0 779.0 L548.5 778.5 L549.0 778.0 L549.5 777.5 L550.0 777.0 L550.5 776.5 L551.0 776.0 L551.5 775.6 L552.0 775.1 L552.5 774.7 L553.0 774.3 L553.5 773.9 L554.0 773.5 L554.5 773.1 L555.0 772.7 L555.5 772.3 L556.0 772.0 L556.5 771.6 L557.0 771.3 L557.5 771.0 L558.0 770.7 L558.5 770.4 L559.0 770.1 L559.5 769.8 L560.0 769.6 L560.5 769.3 L561.0 769.1 L561.5 768.9 L562.0 768.7 L562.5 768.5 L563.0 768.4 L563.5 768.2 L564.0 768.1 L564.5 767.9 L565.0 767.8 L565.5 767.7 L566.0 767.7 L566.5 767.6 L567.0 767.6 L567.5 767.5 L568.0 767.5 L568.5 767.5 L569.0 767.5 L569.5 767.5 L570.0 767.6 L570.5 767.6 L571.0 767.7 L571.5 767.8 L572.0 767.9 L572.5 768.0 L573.0 768.2 L573.5 768.3 L574.0 768.5 L574.5 768.7 L575.0 768.9 L575.5 769.1 L576.0 769.3 L576.5 769.5 L577.0 769.8 L577.5 770.0 L578.0 770.3 L578.5 770.6 L579.0 770.9 L579.5 771.2 L580.0 771.6 L580.5 771.9 L581.0 772.2 L581.5 772.6 L582.0 773.0 L582.5 773.4 L583.0 773.8 L583.5 774.2 L584.0 774.6 L584.5 775.1 L585.0 775.5 L585.5 776.0 L586.0 776.4 L586.5 776.9 L587.0 777.4 L587.5 777.9 L588.0 778.4 L588.5 778.9 L589.0 779.4 L589.5 779.9 L590.0 780.4 L590.5 781.0 L591.0 781.5 L591.5 782.1 L592.0 782.6 L592.5 783.2 L593.0 783.8 L593.5 784.3 L594.0 784.9 L594.5 785.5 L595.0 786.1 L595.5 786.7 L596.0 787.3 L596.5 787.9 L597.0 788.5 L597.5 789.1 L598.0 789.7 L598.5 790.3 L599.0 790.9 L599.5 791.5 L600.0 792.1 L600.5 792.7 L601.0 793.3 L601.5 794.0 L602.0 794.6 L602.5 795.2 L603.0 795.8 L603.5 796.4 L604.0 797.0 L604.5 797.6 L605.0 798.2 L605.5 798.8 L606.0 799.4 L606.5 800.0 L607.0 800.6 L607.5 801.2 L608.0 801.8 L608.5 802.4 L609.0 803.0 L609.5 803.6 L610.0 804.2 L610.5 804.7 L611.0 805.3 L611.5 805.9 L612.0 806.4 L612.5 807.0 L613.0 807.5 L613.5 808.1 L614.0 808.6 L614.5 809.2 L615.0 809.7 L615.5 810.2 L616.0 810.7 L616.5 811.3 L617.0 811.8 L617.5 812.3 L618.0 812.8 L618.5 813.3 L619.0 813.7 L619.5 814.2 L620.0 814.7 L620.5 815.1 L621.0 815.6 L621.5 816.1 L622.0 816.5 L622.5 816.9 L623.0 817.4 L623.5 817.8 L624.0 818.2 L624.5 818.6 L625.0 819.0 L625.5 819.4 L626.0 819.8 L626.5 820.2 L627.0 820.6 L627.5 820.9 L628.0 821.3 L628.5 821.7 L629.0 822.0 L629.5 822.3 L630.0 822.7 L630.5 823.0 L631.0 823.3 L631.5 823.6 L632.0 824.0 L632.5 824.3 L633.0 824.6 L633.5 824.8 L634.0 825.1 L634.5 825.4 L635.0 825.7 L635.5 825.9 L636.0 826.2 L636.5 826.5 L637.0 826.7 L637.5 826.9 L638.0 827.2 L638.5 827.4 L639.0 827.6 L639.5 827.9 L640.0 828.1 L640.5 828.3 L641.0 828.5 L641.5 828.7 L642.0 828.9 L642.5 829.0 L643.0 829.2 L643.5 829.4 L644.0 829.6 L644.5 829.7 L645.0 829.9 L645.5 830.1 L646.0 830.2 L646.5 830.4 L647.0 830.5 L647.5 830.7 L648.0 830.8 L648.5 830.9 L649.0 831.1 L649.5 831.2 L650.0 831.3 L650.5 831.4 L651.0 831.5 L651.5 831.6 L652.0 831.7 L652.5 831.9 L653.0 832.0 L653.5 832.0 L654.0 832.1 L654.5 832.2 L655.0 832.3 L655.5 832.4 L656.0 832.5 L656.5 832.6 L657.0 832.6 L657.5 832.7 L658.0 832.8 L658.5 832.9 L659.0 832.9 L659.5 833.0 L660.0 833.0 L660.5 833.1 L661.0 833.2 L661.5 833.2 L662.0 833.3 L662.5 833.3 L663.0 833.4 L663.5 833.4 L664.0 833.5 L664.5 833.5 L665.0 833.6 L665.5 833.6 L666.0 833.6" stroke="#ff00ff" stroke-width="2.0" fill="none" stroke-linejoin="round"/>
</svg></body></html>
